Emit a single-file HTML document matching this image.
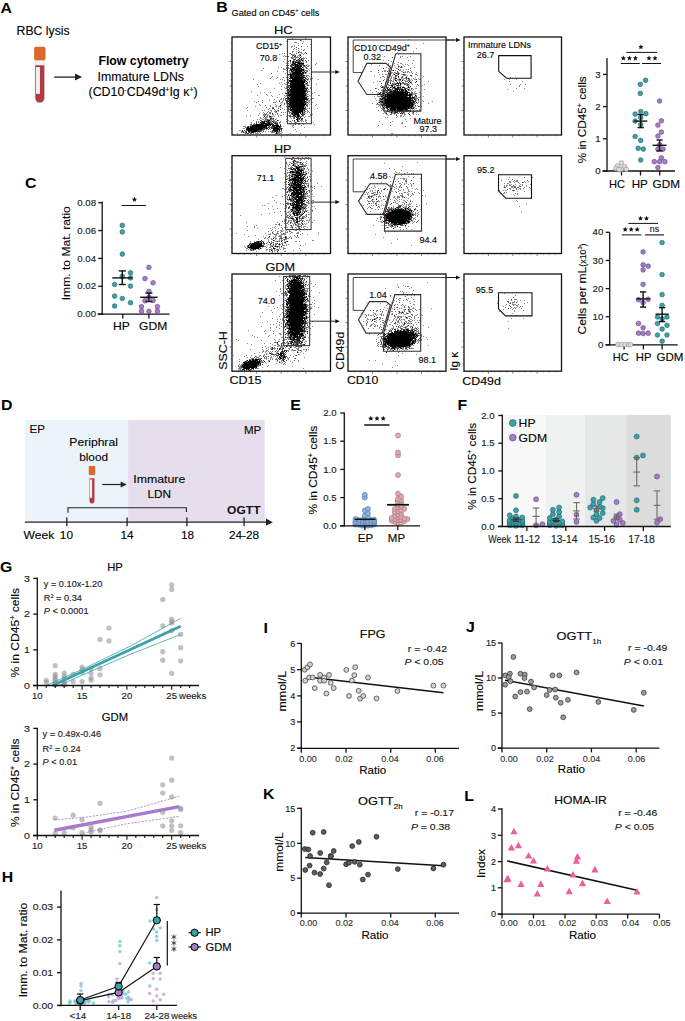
<!DOCTYPE html>
<html><head><meta charset="utf-8"><style>
html,body{margin:0;padding:0;background:#fff;}
svg{display:block;font-family:"Liberation Sans", sans-serif;}
</style></head><body>
<svg width="685" height="1021" viewBox="0 0 685 1021">
<rect width="685" height="1021" fill="#fff"/>
<text transform="translate(0.5 12.8) scale(1.15 1)" font-size="13.8" font-weight="bold" fill="#000">A</text>
<text x="16.6" y="34.5" font-size="12" stroke="#1a1a1a" stroke-width="0.14" textLength="53" lengthAdjust="spacingAndGlyphs">RBC lysis</text>
<path d="M35.01 60.2 V98.01 A4.79 4.79 0 0 0 44.59 98.01 V60.2 Z" fill="#f1f1f1" stroke="#d0d0d0" stroke-width="0.5"/>
<path d="M35.31 65.31 V98.01 A4.49 4.49 0 0 0 44.29 98.01 V65.31 Z" fill="#b13a45"/>
<rect x="35.97" y="67.02" width="4.02" height="26.84" fill="#f0f0e8"/>
<rect x="34.1" y="46.8" width="11.4" height="13.4" rx="1.6" fill="#dd682b"/>
<line x1="54.3" y1="77.1" x2="75.5" y2="77.1" stroke="#222" stroke-width="1.3"/>
<path d="M75 73.6 L82 77.1 L75 80.6 Z" fill="#222"/>
<text x="98.4" y="65" font-size="12.3" font-weight="bold" fill="#000" textLength="90.2" lengthAdjust="spacingAndGlyphs">Flow cytometry</text>
<text x="97.6" y="81.2" font-size="12.3" stroke="#1a1a1a" stroke-width="0.14" textLength="86.4" lengthAdjust="spacingAndGlyphs">Immature LDNs</text>
<text x="88.5" y="96.4" font-size="12.3" stroke="#1a1a1a" stroke-width="0.14" textLength="109.2" lengthAdjust="spacingAndGlyphs">(CD10<tspan font-size="7" dy="-4.5">-</tspan><tspan dy="4.5">CD49d</tspan><tspan font-size="7" dy="-4.5">+</tspan><tspan dy="4.5">Ig κ</tspan><tspan font-size="7" dy="-4.5">+</tspan><tspan dy="4.5">)</tspan></text>
<text transform="translate(216.3 12.3) scale(1.15 1)" font-size="13.8" font-weight="bold" fill="#000">B</text>
<text x="231.6" y="15.8" font-size="9" stroke="#1a1a1a" stroke-width="0.14" textLength="87.7" lengthAdjust="spacingAndGlyphs">Gated on CD45<tspan font-size="5.5" dy="-3.5">+</tspan><tspan dy="3.5"> cells</tspan></text>
<text x="274" y="33.8" font-size="11.4" stroke="#1a1a1a" stroke-width="0.14" textLength="18.7" lengthAdjust="spacingAndGlyphs">HC</text>
<text x="274" y="153" font-size="11.4" stroke="#1a1a1a" stroke-width="0.14" textLength="17.5" lengthAdjust="spacingAndGlyphs">HP</text>
<text x="265.5" y="270.8" font-size="11.4" stroke="#1a1a1a" stroke-width="0.14" textLength="29.6" lengthAdjust="spacingAndGlyphs">GDM</text>
<path d="M242 130.5h1M246 129.5h1M246 132.5h1M247 127.5h1M247 128.5h1M247 129.5h1M248 127.5h1M248 128.5h1M248 129.5h1M248 130.5h1M248 131.5h1M249 128.5h1M249 129.5h1M249 130.5h1M249 131.5h1M250 126.5h1M250 127.5h1M250 128.5h1M250 129.5h1M250 130.5h1M251 127.5h1M251 128.5h1M251 129.5h1M251 130.5h1M251 131.5h1M251 132.5h1M252 125.5h1M252 126.5h1M252 127.5h1M252 128.5h1M252 129.5h1M252 130.5h1M252 131.5h1M252 132.5h1M253 125.5h1M253 126.5h1M253 127.5h1M253 128.5h1M253 129.5h1M253 130.5h1M253 131.5h1M253 132.5h1M254 125.5h1M254 126.5h1M254 127.5h1M254 128.5h1M254 129.5h1M254 130.5h1M254 131.5h1M255 125.5h1M255 126.5h1M255 127.5h1M255 128.5h1M255 129.5h1M255 130.5h1M255 131.5h1M256 124.5h1M256 125.5h1M256 126.5h1M256 127.5h1M256 128.5h1M256 129.5h1M256 130.5h1M256 131.5h1M257 124.5h1M257 125.5h1M257 126.5h1M257 127.5h1M257 128.5h1M257 129.5h1M257 130.5h1M258 124.5h1M258 125.5h1M258 126.5h1M258 127.5h1M258 128.5h1M258 129.5h1M258 131.5h1M259 124.5h1M259 125.5h1M259 126.5h1M259 127.5h1M259 128.5h1M259 129.5h1M260 122.5h1M260 124.5h1M260 125.5h1M260 126.5h1M260 127.5h1M260 128.5h1M260 129.5h1M261 123.5h1M261 124.5h1M261 125.5h1M261 126.5h1M261 127.5h1M261 128.5h1M261 129.5h1M262 121.5h1M262 122.5h1M262 124.5h1M262 125.5h1M262 126.5h1M262 127.5h1M262 128.5h1M263 122.5h1M263 123.5h1M263 124.5h1M263 125.5h1M263 126.5h1M263 127.5h1M264 116.5h1M264 121.5h1M264 122.5h1M264 123.5h1M264 125.5h1M264 126.5h1M264 127.5h1M265 123.5h1M265 124.5h1M265 125.5h1M265 126.5h1M266 121.5h1M266 123.5h1M266 124.5h1M266 125.5h1M266 126.5h1M266 127.5h1M266 128.5h1M267 124.5h1M267 125.5h1M267 128.5h1M268 120.5h1M268 121.5h1M268 122.5h1M268 123.5h1M268 124.5h1M268 125.5h1M269 120.5h1M269 122.5h1M269 123.5h1M269 124.5h1M270 116.5h1M270 118.5h1M270 124.5h1M270 125.5h1M271 124.5h1M272 113.5h1M272 121.5h1M272 125.5h1M273 118.5h1M273 122.5h1M273 124.5h1M273 126.5h1M273 128.5h1M273 129.5h1M273 130.5h1M274 125.5h1M274 126.5h1M274 127.5h1M274 128.5h1M274 129.5h1M274 130.5h1M275 123.5h1M275 125.5h1M275 127.5h1M275 128.5h1M275 129.5h1M275 130.5h1M275 131.5h1M276 125.5h1M276 126.5h1M276 127.5h1M276 128.5h1M276 129.5h1M276 130.5h1M276 131.5h1M276 132.5h1M276 133.5h1M277 120.5h1M277 124.5h1M277 125.5h1M277 126.5h1M277 127.5h1M277 128.5h1M277 129.5h1M277 130.5h1M277 131.5h1M278 125.5h1M278 126.5h1M278 128.5h1M278 129.5h1M279 126.5h1M279 127.5h1M279 129.5h1M279 130.5h1M280 105.5h1M281 128.5h1M286 93.5h1M287 79.5h1M287 89.5h1M287 101.5h1M288 89.5h1M288 92.5h1M288 93.5h1M288 95.5h1M288 97.5h1M288 98.5h1M288 101.5h1M288 103.5h1M288 106.5h1M289 74.5h1M289 78.5h1M289 80.5h1M289 88.5h1M289 91.5h1M289 94.5h1M289 95.5h1M289 98.5h1M289 100.5h1M289 102.5h1M289 104.5h1M289 106.5h1M290 60.5h1M290 69.5h1M290 74.5h1M290 75.5h1M290 76.5h1M290 77.5h1M290 80.5h1M290 81.5h1M290 83.5h1M290 84.5h1M290 85.5h1M290 86.5h1M290 87.5h1M290 89.5h1M290 90.5h1M290 92.5h1M290 94.5h1M290 95.5h1M290 97.5h1M290 98.5h1M290 99.5h1M290 100.5h1M290 101.5h1M290 102.5h1M290 103.5h1M290 104.5h1M290 105.5h1M290 107.5h1M290 108.5h1M290 110.5h1M291 69.5h1M291 70.5h1M291 71.5h1M291 74.5h1M291 75.5h1M291 76.5h1M291 77.5h1M291 78.5h1M291 80.5h1M291 81.5h1M291 82.5h1M291 84.5h1M291 85.5h1M291 86.5h1M291 87.5h1M291 88.5h1M291 89.5h1M291 90.5h1M291 91.5h1M291 92.5h1M291 93.5h1M291 94.5h1M291 95.5h1M291 96.5h1M291 97.5h1M291 98.5h1M291 99.5h1M291 100.5h1M291 101.5h1M291 102.5h1M291 103.5h1M291 104.5h1M291 105.5h1M291 106.5h1M291 107.5h1M291 109.5h1M291 110.5h1M292 64.5h1M292 67.5h1M292 68.5h1M292 69.5h1M292 71.5h1M292 73.5h1M292 74.5h1M292 76.5h1M292 77.5h1M292 78.5h1M292 79.5h1M292 80.5h1M292 81.5h1M292 82.5h1M292 83.5h1M292 84.5h1M292 85.5h1M292 86.5h1M292 87.5h1M292 88.5h1M292 89.5h1M292 90.5h1M292 91.5h1M292 92.5h1M292 93.5h1M292 94.5h1M292 95.5h1M292 96.5h1M292 97.5h1M292 98.5h1M292 99.5h1M292 100.5h1M292 101.5h1M292 102.5h1M292 103.5h1M292 104.5h1M292 105.5h1M292 106.5h1M292 107.5h1M292 108.5h1M292 109.5h1M292 111.5h1M292 113.5h1M293 61.5h1M293 62.5h1M293 63.5h1M293 65.5h1M293 67.5h1M293 68.5h1M293 70.5h1M293 72.5h1M293 73.5h1M293 74.5h1M293 75.5h1M293 76.5h1M293 78.5h1M293 79.5h1M293 80.5h1M293 81.5h1M293 82.5h1M293 83.5h1M293 84.5h1M293 85.5h1M293 86.5h1M293 87.5h1M293 88.5h1M293 89.5h1M293 90.5h1M293 91.5h1M293 92.5h1M293 93.5h1M293 94.5h1M293 95.5h1M293 96.5h1M293 97.5h1M293 98.5h1M293 99.5h1M293 100.5h1M293 101.5h1M293 102.5h1M293 103.5h1M293 104.5h1M293 105.5h1M293 106.5h1M293 107.5h1M293 108.5h1M293 109.5h1M293 110.5h1M293 111.5h1M293 112.5h1M293 115.5h1M294 63.5h1M294 64.5h1M294 67.5h1M294 68.5h1M294 69.5h1M294 72.5h1M294 73.5h1M294 74.5h1M294 76.5h1M294 77.5h1M294 78.5h1M294 79.5h1M294 80.5h1M294 81.5h1M294 82.5h1M294 83.5h1M294 84.5h1M294 85.5h1M294 86.5h1M294 87.5h1M294 88.5h1M294 89.5h1M294 90.5h1M294 91.5h1M294 92.5h1M294 93.5h1M294 94.5h1M294 95.5h1M294 96.5h1M294 97.5h1M294 98.5h1M294 99.5h1M294 100.5h1M294 101.5h1M294 102.5h1M294 103.5h1M294 104.5h1M294 105.5h1M294 106.5h1M294 107.5h1M294 108.5h1M294 109.5h1M294 110.5h1M294 111.5h1M294 112.5h1M294 113.5h1M294 114.5h1M294 115.5h1M294 120.5h1M295 62.5h1M295 64.5h1M295 65.5h1M295 66.5h1M295 67.5h1M295 69.5h1M295 70.5h1M295 71.5h1M295 72.5h1M295 73.5h1M295 74.5h1M295 75.5h1M295 76.5h1M295 77.5h1M295 78.5h1M295 79.5h1M295 80.5h1M295 81.5h1M295 82.5h1M295 83.5h1M295 84.5h1M295 85.5h1M295 86.5h1M295 87.5h1M295 88.5h1M295 89.5h1M295 90.5h1M295 91.5h1M295 92.5h1M295 93.5h1M295 94.5h1M295 95.5h1M295 96.5h1M295 97.5h1M295 98.5h1M295 99.5h1M295 100.5h1M295 101.5h1M295 102.5h1M295 103.5h1M295 104.5h1M295 105.5h1M295 106.5h1M295 107.5h1M295 108.5h1M295 109.5h1M295 110.5h1M295 111.5h1M295 112.5h1M295 113.5h1M295 114.5h1M295 116.5h1M296 60.5h1M296 62.5h1M296 64.5h1M296 66.5h1M296 68.5h1M296 69.5h1M296 70.5h1M296 71.5h1M296 72.5h1M296 73.5h1M296 74.5h1M296 75.5h1M296 76.5h1M296 77.5h1M296 78.5h1M296 79.5h1M296 80.5h1M296 81.5h1M296 82.5h1M296 83.5h1M296 84.5h1M296 85.5h1M296 86.5h1M296 87.5h1M296 88.5h1M296 89.5h1M296 90.5h1M296 91.5h1M296 92.5h1M296 93.5h1M296 94.5h1M296 95.5h1M296 96.5h1M296 97.5h1M296 98.5h1M296 99.5h1M296 100.5h1M296 101.5h1M296 102.5h1M296 103.5h1M296 104.5h1M296 105.5h1M296 106.5h1M296 107.5h1M296 108.5h1M296 109.5h1M296 110.5h1M296 111.5h1M296 112.5h1M296 113.5h1M296 114.5h1M296 117.5h1M296 119.5h1M297 62.5h1M297 64.5h1M297 65.5h1M297 66.5h1M297 67.5h1M297 68.5h1M297 69.5h1M297 70.5h1M297 71.5h1M297 72.5h1M297 73.5h1M297 74.5h1M297 75.5h1M297 76.5h1M297 77.5h1M297 78.5h1M297 79.5h1M297 80.5h1M297 81.5h1M297 82.5h1M297 83.5h1M297 84.5h1M297 85.5h1M297 86.5h1M297 87.5h1M297 88.5h1M297 89.5h1M297 90.5h1M297 91.5h1M297 92.5h1M297 93.5h1M297 94.5h1M297 95.5h1M297 96.5h1M297 97.5h1M297 98.5h1M297 99.5h1M297 100.5h1M297 101.5h1M297 102.5h1M297 103.5h1M297 104.5h1M297 105.5h1M297 106.5h1M297 107.5h1M297 108.5h1M297 109.5h1M297 110.5h1M297 111.5h1M297 112.5h1M297 113.5h1M297 114.5h1M297 115.5h1M297 116.5h1M297 118.5h1M297 119.5h1M297 120.5h1M298 52.5h1M298 63.5h1M298 65.5h1M298 66.5h1M298 67.5h1M298 68.5h1M298 69.5h1M298 70.5h1M298 71.5h1M298 72.5h1M298 73.5h1M298 74.5h1M298 75.5h1M298 76.5h1M298 77.5h1M298 78.5h1M298 79.5h1M298 80.5h1M298 81.5h1M298 82.5h1M298 83.5h1M298 84.5h1M298 85.5h1M298 86.5h1M298 87.5h1M298 88.5h1M298 89.5h1M298 90.5h1M298 91.5h1M298 92.5h1M298 93.5h1M298 94.5h1M298 95.5h1M298 96.5h1M298 97.5h1M298 98.5h1M298 99.5h1M298 100.5h1M298 101.5h1M298 102.5h1M298 103.5h1M298 104.5h1M298 105.5h1M298 106.5h1M298 107.5h1M298 108.5h1M298 109.5h1M298 110.5h1M298 111.5h1M298 112.5h1M298 113.5h1M298 114.5h1M298 115.5h1M298 116.5h1M298 117.5h1M299 58.5h1M299 60.5h1M299 62.5h1M299 63.5h1M299 64.5h1M299 66.5h1M299 67.5h1M299 68.5h1M299 69.5h1M299 70.5h1M299 71.5h1M299 72.5h1M299 73.5h1M299 74.5h1M299 75.5h1M299 76.5h1M299 77.5h1M299 78.5h1M299 79.5h1M299 80.5h1M299 81.5h1M299 82.5h1M299 83.5h1M299 84.5h1M299 85.5h1M299 86.5h1M299 87.5h1M299 88.5h1M299 89.5h1M299 90.5h1M299 91.5h1M299 92.5h1M299 93.5h1M299 94.5h1M299 95.5h1M299 96.5h1M299 97.5h1M299 98.5h1M299 99.5h1M299 100.5h1M299 101.5h1M299 102.5h1M299 103.5h1M299 104.5h1M299 105.5h1M299 106.5h1M299 107.5h1M299 108.5h1M299 109.5h1M299 110.5h1M299 111.5h1M299 112.5h1M299 116.5h1M299 118.5h1M300 55.5h1M300 57.5h1M300 63.5h1M300 65.5h1M300 66.5h1M300 67.5h1M300 68.5h1M300 70.5h1M300 71.5h1M300 72.5h1M300 73.5h1M300 74.5h1M300 75.5h1M300 77.5h1M300 78.5h1M300 79.5h1M300 80.5h1M300 81.5h1M300 82.5h1M300 83.5h1M300 84.5h1M300 85.5h1M300 86.5h1M300 87.5h1M300 88.5h1M300 89.5h1M300 90.5h1M300 91.5h1M300 92.5h1M300 93.5h1M300 94.5h1M300 95.5h1M300 96.5h1M300 97.5h1M300 98.5h1M300 99.5h1M300 100.5h1M300 101.5h1M300 102.5h1M300 103.5h1M300 104.5h1M300 105.5h1M300 106.5h1M300 107.5h1M300 108.5h1M300 109.5h1M300 110.5h1M300 111.5h1M300 112.5h1M300 113.5h1M300 117.5h1M301 59.5h1M301 63.5h1M301 66.5h1M301 68.5h1M301 69.5h1M301 70.5h1M301 71.5h1M301 73.5h1M301 74.5h1M301 75.5h1M301 76.5h1M301 77.5h1M301 78.5h1M301 79.5h1M301 80.5h1M301 81.5h1M301 82.5h1M301 83.5h1M301 84.5h1M301 85.5h1M301 86.5h1M301 87.5h1M301 88.5h1M301 89.5h1M301 90.5h1M301 91.5h1M301 92.5h1M301 93.5h1M301 94.5h1M301 95.5h1M301 96.5h1M301 97.5h1M301 98.5h1M301 99.5h1M301 100.5h1M301 101.5h1M301 102.5h1M301 103.5h1M301 104.5h1M301 105.5h1M301 106.5h1M301 107.5h1M301 108.5h1M301 109.5h1M301 110.5h1M301 111.5h1M301 114.5h1M301 119.5h1M302 60.5h1M302 63.5h1M302 67.5h1M302 69.5h1M302 72.5h1M302 74.5h1M302 76.5h1M302 77.5h1M302 78.5h1M302 80.5h1M302 81.5h1M302 82.5h1M302 83.5h1M302 84.5h1M302 85.5h1M302 86.5h1M302 87.5h1M302 88.5h1M302 89.5h1M302 90.5h1M302 91.5h1M302 92.5h1M302 93.5h1M302 94.5h1M302 95.5h1M302 96.5h1M302 97.5h1M302 98.5h1M302 99.5h1M302 100.5h1M302 101.5h1M302 102.5h1M302 103.5h1M302 104.5h1M302 105.5h1M302 106.5h1M302 107.5h1M302 108.5h1M302 109.5h1M302 110.5h1M302 111.5h1M302 112.5h1M302 113.5h1M302 115.5h1M302 118.5h1M303 63.5h1M303 69.5h1M303 70.5h1M303 72.5h1M303 73.5h1M303 75.5h1M303 77.5h1M303 81.5h1M303 82.5h1M303 83.5h1M303 84.5h1M303 85.5h1M303 86.5h1M303 87.5h1M303 88.5h1M303 89.5h1M303 90.5h1M303 91.5h1M303 92.5h1M303 93.5h1M303 94.5h1M303 95.5h1M303 96.5h1M303 97.5h1M303 98.5h1M303 99.5h1M303 100.5h1M303 102.5h1M303 103.5h1M303 104.5h1M303 105.5h1M303 106.5h1M303 107.5h1M303 108.5h1M303 109.5h1M304 77.5h1M304 79.5h1M304 80.5h1M304 81.5h1M304 82.5h1M304 85.5h1M304 86.5h1M304 87.5h1M304 88.5h1M304 90.5h1M304 91.5h1M304 92.5h1M304 93.5h1M304 95.5h1M304 96.5h1M304 97.5h1M304 98.5h1M304 99.5h1M304 100.5h1M304 101.5h1M304 102.5h1M304 104.5h1M304 105.5h1M304 108.5h1M304 110.5h1M305 72.5h1M305 78.5h1M305 88.5h1M305 90.5h1M305 91.5h1M305 94.5h1M305 95.5h1M305 97.5h1M305 98.5h1M305 99.5h1M305 101.5h1M305 103.5h1M305 104.5h1M306 83.5h1M306 89.5h1M306 97.5h1M306 98.5h1M306 99.5h1M306 105.5h1M307 99.5h1M307 102.5h1" stroke="#000" stroke-width="1"/>
<path d="M237 133.5h1M239 130.5h1M240 130.5h1M241 131.5h1M243 126.5h1M243 128.5h1M243 131.5h1M244 126.5h1M244 128.5h1M244 130.5h1M244 132.5h1M245 126.5h1M245 127.5h1M245 130.5h1M245 131.5h1M245 132.5h1M246 108.5h1M246 116.5h1M246 127.5h1M246 130.5h1M246 133.5h1M247 107.5h1M247 110.5h1M247 126.5h1M248 132.5h1M249 126.5h1M249 127.5h1M250 115.5h1M250 124.5h1M250 125.5h1M250 132.5h1M251 91.5h1M251 122.5h1M251 123.5h1M251 125.5h1M251 133.5h1M253 79.5h1M253 120.5h1M253 133.5h1M254 101.5h1M254 123.5h1M254 132.5h1M255 106.5h1M255 132.5h1M255 133.5h1M256 102.5h1M256 121.5h1M256 133.5h1M257 84.5h1M257 95.5h1M257 119.5h1M257 132.5h1M257 133.5h1M258 86.5h1M258 101.5h1M258 115.5h1M258 121.5h1M258 133.5h1M259 104.5h1M259 113.5h1M259 119.5h1M259 123.5h1M259 132.5h1M260 83.5h1M260 92.5h1M260 105.5h1M260 117.5h1M260 118.5h1M260 120.5h1M260 123.5h1M260 133.5h1M261 70.5h1M261 118.5h1M261 120.5h1M261 131.5h1M262 100.5h1M262 102.5h1M262 110.5h1M262 119.5h1M262 130.5h1M262 132.5h1M263 68.5h1M263 112.5h1M263 114.5h1M263 115.5h1M263 117.5h1M263 119.5h1M263 130.5h1M264 92.5h1M264 110.5h1M264 113.5h1M264 114.5h1M264 115.5h1M264 118.5h1M264 120.5h1M264 124.5h1M265 105.5h1M265 115.5h1M265 117.5h1M265 118.5h1M265 120.5h1M265 131.5h1M266 94.5h1M266 107.5h1M266 113.5h1M266 114.5h1M266 116.5h1M266 117.5h1M266 118.5h1M266 119.5h1M266 120.5h1M266 122.5h1M266 129.5h1M267 95.5h1M267 112.5h1M267 116.5h1M267 117.5h1M267 127.5h1M268 109.5h1M268 111.5h1M268 114.5h1M268 119.5h1M268 126.5h1M268 131.5h1M269 100.5h1M269 108.5h1M269 112.5h1M269 113.5h1M269 115.5h1M269 117.5h1M269 119.5h1M269 121.5h1M269 127.5h1M270 78.5h1M270 92.5h1M270 105.5h1M270 106.5h1M270 110.5h1M270 113.5h1M270 117.5h1M270 120.5h1M270 121.5h1M270 123.5h1M270 129.5h1M270 131.5h1M271 73.5h1M271 77.5h1M271 95.5h1M271 110.5h1M271 111.5h1M271 116.5h1M271 117.5h1M271 119.5h1M271 120.5h1M271 121.5h1M271 122.5h1M271 126.5h1M271 131.5h1M271 132.5h1M272 76.5h1M272 96.5h1M272 107.5h1M272 114.5h1M272 116.5h1M272 118.5h1M272 119.5h1M273 102.5h1M273 107.5h1M273 114.5h1M273 115.5h1M273 119.5h1M273 121.5h1M273 131.5h1M273 132.5h1M274 88.5h1M274 99.5h1M274 102.5h1M274 109.5h1M274 111.5h1M274 116.5h1M274 120.5h1M274 121.5h1M274 122.5h1M274 132.5h1M275 60.5h1M275 102.5h1M275 104.5h1M275 106.5h1M275 110.5h1M275 111.5h1M275 112.5h1M275 114.5h1M275 121.5h1M275 124.5h1M275 126.5h1M275 133.5h1M276 78.5h1M276 101.5h1M276 105.5h1M276 106.5h1M276 112.5h1M276 118.5h1M276 121.5h1M276 122.5h1M277 71.5h1M277 77.5h1M277 97.5h1M277 110.5h1M277 114.5h1M277 122.5h1M277 132.5h1M278 67.5h1M278 106.5h1M278 111.5h1M278 115.5h1M278 116.5h1M278 120.5h1M278 127.5h1M278 130.5h1M278 131.5h1M278 132.5h1M278 133.5h1M279 54.5h1M279 83.5h1M279 94.5h1M279 100.5h1M279 106.5h1M279 122.5h1M279 123.5h1M279 132.5h1M279 133.5h1M280 79.5h1M280 99.5h1M280 103.5h1M280 106.5h1M280 107.5h1M280 115.5h1M280 121.5h1M280 122.5h1M280 129.5h1M280 131.5h1M280 133.5h1M281 67.5h1M281 82.5h1M281 86.5h1M281 89.5h1M281 98.5h1M281 99.5h1M281 102.5h1M281 104.5h1M281 112.5h1M281 115.5h1M281 126.5h1M281 131.5h1M281 133.5h1M282 53.5h1M282 79.5h1M282 84.5h1M282 93.5h1M282 101.5h1M282 102.5h1M282 108.5h1M282 128.5h1M282 132.5h1M283 56.5h1M283 61.5h1M283 68.5h1M283 69.5h1M283 71.5h1M283 77.5h1M283 98.5h1M283 99.5h1M283 100.5h1M283 112.5h1M283 114.5h1M283 126.5h1M284 53.5h1M284 55.5h1M284 59.5h1M284 69.5h1M284 80.5h1M284 83.5h1M284 87.5h1M284 95.5h1M284 97.5h1M284 104.5h1M284 109.5h1M285 38.5h1M285 56.5h1M285 69.5h1M285 73.5h1M285 84.5h1M285 88.5h1M285 92.5h1M285 96.5h1M285 100.5h1M285 112.5h1M286 41.5h1M286 56.5h1M286 63.5h1M286 67.5h1M286 70.5h1M286 77.5h1M286 82.5h1M286 84.5h1M286 86.5h1M286 87.5h1M286 90.5h1M286 103.5h1M286 106.5h1M286 116.5h1M286 119.5h1M286 121.5h1M287 52.5h1M287 56.5h1M287 58.5h1M287 66.5h1M287 71.5h1M287 72.5h1M287 74.5h1M287 78.5h1M287 80.5h1M287 87.5h1M287 93.5h1M287 102.5h1M287 105.5h1M287 107.5h1M287 111.5h1M288 63.5h1M288 67.5h1M288 68.5h1M288 75.5h1M288 77.5h1M288 79.5h1M288 80.5h1M288 81.5h1M288 83.5h1M288 96.5h1M288 100.5h1M288 104.5h1M288 105.5h1M288 107.5h1M288 110.5h1M288 115.5h1M288 120.5h1M289 39.5h1M289 53.5h1M289 60.5h1M289 68.5h1M289 70.5h1M289 71.5h1M289 72.5h1M289 76.5h1M289 83.5h1M289 86.5h1M289 87.5h1M289 89.5h1M289 92.5h1M289 97.5h1M289 107.5h1M289 108.5h1M289 111.5h1M289 113.5h1M289 115.5h1M289 121.5h1M289 123.5h1M290 62.5h1M290 63.5h1M290 72.5h1M290 79.5h1M290 88.5h1M290 112.5h1M290 114.5h1M290 117.5h1M290 124.5h1M290 133.5h1M291 46.5h1M291 47.5h1M291 54.5h1M291 58.5h1M291 67.5h1M291 68.5h1M291 72.5h1M291 73.5h1M291 108.5h1M291 111.5h1M291 112.5h1M291 114.5h1M291 116.5h1M291 118.5h1M291 122.5h1M292 38.5h1M292 46.5h1M292 51.5h1M292 52.5h1M292 54.5h1M292 55.5h1M292 56.5h1M292 57.5h1M292 58.5h1M292 66.5h1M292 70.5h1M292 120.5h1M292 125.5h1M292 126.5h1M293 49.5h1M293 51.5h1M293 54.5h1M293 57.5h1M293 58.5h1M293 60.5h1M293 117.5h1M293 118.5h1M293 124.5h1M293 125.5h1M293 127.5h1M294 42.5h1M294 45.5h1M294 46.5h1M294 48.5h1M294 54.5h1M294 55.5h1M294 57.5h1M294 60.5h1M294 62.5h1M294 65.5h1M294 71.5h1M294 116.5h1M294 121.5h1M294 122.5h1M295 42.5h1M295 57.5h1M295 58.5h1M295 129.5h1M296 42.5h1M296 49.5h1M296 51.5h1M296 61.5h1M296 115.5h1M296 116.5h1M296 122.5h1M296 123.5h1M296 131.5h1M297 56.5h1M297 57.5h1M297 59.5h1M297 61.5h1M298 43.5h1M298 45.5h1M298 50.5h1M298 55.5h1M298 57.5h1M298 60.5h1M298 64.5h1M298 119.5h1M298 120.5h1M298 123.5h1M298 124.5h1M299 51.5h1M299 52.5h1M299 54.5h1M299 55.5h1M299 56.5h1M299 59.5h1M299 114.5h1M299 121.5h1M299 124.5h1M300 52.5h1M300 54.5h1M300 59.5h1M300 60.5h1M300 62.5h1M300 116.5h1M300 118.5h1M300 120.5h1M300 133.5h1M301 40.5h1M301 49.5h1M301 52.5h1M301 53.5h1M301 56.5h1M301 60.5h1M301 72.5h1M301 112.5h1M301 118.5h1M301 120.5h1M301 121.5h1M301 123.5h1M301 125.5h1M302 43.5h1M302 53.5h1M302 58.5h1M302 59.5h1M302 61.5h1M302 65.5h1M302 71.5h1M302 119.5h1M302 120.5h1M303 41.5h1M303 54.5h1M303 57.5h1M303 58.5h1M303 59.5h1M303 60.5h1M303 61.5h1M303 62.5h1M303 66.5h1M303 67.5h1M303 68.5h1M303 71.5h1M303 74.5h1M303 110.5h1M303 111.5h1M303 112.5h1M303 113.5h1M303 115.5h1M303 116.5h1M303 121.5h1M303 124.5h1M304 49.5h1M304 53.5h1M304 58.5h1M304 69.5h1M304 70.5h1M304 72.5h1M304 73.5h1M304 76.5h1M304 106.5h1M304 107.5h1M304 111.5h1M304 113.5h1M304 117.5h1M304 127.5h1M305 38.5h1M305 60.5h1M305 65.5h1M305 66.5h1M305 67.5h1M305 70.5h1M305 73.5h1M305 75.5h1M305 77.5h1M305 79.5h1M305 81.5h1M305 82.5h1M305 83.5h1M305 84.5h1M305 87.5h1M305 89.5h1M305 96.5h1M305 102.5h1M305 106.5h1M305 109.5h1M305 113.5h1M305 116.5h1M305 119.5h1M305 120.5h1M305 121.5h1M306 58.5h1M306 62.5h1M306 70.5h1M306 71.5h1M306 72.5h1M306 73.5h1M306 75.5h1M306 78.5h1M306 79.5h1M306 84.5h1M306 85.5h1M306 87.5h1M306 91.5h1M306 94.5h1M306 95.5h1M306 96.5h1M306 100.5h1M306 101.5h1M306 103.5h1M306 104.5h1M306 120.5h1M306 122.5h1M307 46.5h1M307 64.5h1M307 66.5h1M307 68.5h1M307 70.5h1M307 75.5h1M307 77.5h1M307 80.5h1M307 83.5h1M307 84.5h1M307 87.5h1M307 90.5h1M307 94.5h1M307 98.5h1M307 100.5h1M307 104.5h1M307 105.5h1M307 108.5h1M307 110.5h1M307 111.5h1M307 112.5h1M308 60.5h1M308 65.5h1M308 66.5h1M308 69.5h1M308 75.5h1M308 78.5h1M308 79.5h1M308 89.5h1M308 91.5h1M308 94.5h1M308 96.5h1M308 100.5h1M308 101.5h1M308 103.5h1M308 111.5h1M308 116.5h1M309 65.5h1M309 70.5h1M309 73.5h1M309 76.5h1M309 81.5h1M309 82.5h1M309 91.5h1M309 95.5h1M309 100.5h1M309 101.5h1M309 102.5h1M309 104.5h1M309 112.5h1M309 116.5h1M310 44.5h1M310 68.5h1M310 78.5h1M310 79.5h1M310 87.5h1M310 88.5h1M310 99.5h1M310 114.5h1M310 115.5h1M311 50.5h1M311 53.5h1M311 73.5h1M311 76.5h1M311 80.5h1M311 89.5h1M311 90.5h1M311 95.5h1M311 98.5h1M311 123.5h1M312 78.5h1M312 93.5h1M312 98.5h1M312 102.5h1M312 114.5h1M313 98.5h1M313 122.5h1M314 92.5h1M314 124.5h1M315 64.5h1M315 105.5h1M316 63.5h1M316 84.5h1M316 104.5h1M317 108.5h1M318 79.5h1M318 95.5h1M319 95.5h1" stroke="#8a8a8a" stroke-width="1"/>
<path d="M241 132.5h1M242 131.5h1M243 132.5h1M245 133.5h1M246 128.5h1M246 131.5h1M247 130.5h1M247 133.5h1M248 126.5h1M248 133.5h1M249 132.5h1M250 131.5h1M250 133.5h1M251 124.5h1M251 126.5h1M253 124.5h1M254 124.5h1M255 124.5h1M256 122.5h1M256 123.5h1M257 131.5h1M258 122.5h1M258 130.5h1M259 130.5h1M259 131.5h1M260 130.5h1M260 131.5h1M261 121.5h1M261 122.5h1M261 130.5h1M262 123.5h1M262 129.5h1M263 121.5h1M263 128.5h1M263 129.5h1M263 131.5h1M264 128.5h1M264 129.5h1M265 114.5h1M265 119.5h1M265 121.5h1M265 127.5h1M265 128.5h1M267 115.5h1M267 119.5h1M267 120.5h1M267 121.5h1M267 122.5h1M267 123.5h1M268 127.5h1M268 129.5h1M269 116.5h1M269 125.5h1M269 126.5h1M269 128.5h1M270 112.5h1M270 119.5h1M270 122.5h1M270 127.5h1M271 118.5h1M271 123.5h1M271 127.5h1M271 128.5h1M272 108.5h1M272 123.5h1M272 124.5h1M272 126.5h1M272 127.5h1M272 128.5h1M272 130.5h1M272 131.5h1M272 132.5h1M273 108.5h1M273 120.5h1M273 125.5h1M273 127.5h1M274 123.5h1M274 131.5h1M275 119.5h1M275 122.5h1M276 111.5h1M276 123.5h1M276 124.5h1M277 113.5h1M277 123.5h1M277 133.5h1M278 108.5h1M278 110.5h1M279 101.5h1M279 128.5h1M279 131.5h1M280 109.5h1M280 124.5h1M280 125.5h1M280 126.5h1M280 127.5h1M280 128.5h1M281 129.5h1M281 130.5h1M284 103.5h1M285 93.5h1M285 98.5h1M285 99.5h1M286 65.5h1M286 68.5h1M286 88.5h1M286 95.5h1M286 98.5h1M286 100.5h1M286 101.5h1M286 102.5h1M287 69.5h1M287 77.5h1M287 81.5h1M287 83.5h1M287 84.5h1M287 91.5h1M287 96.5h1M287 97.5h1M287 100.5h1M287 103.5h1M287 104.5h1M288 56.5h1M288 61.5h1M288 65.5h1M288 74.5h1M288 82.5h1M288 85.5h1M288 86.5h1M288 87.5h1M288 90.5h1M288 91.5h1M288 94.5h1M288 99.5h1M288 108.5h1M288 109.5h1M288 111.5h1M289 81.5h1M289 85.5h1M289 90.5h1M289 93.5h1M289 96.5h1M289 99.5h1M289 101.5h1M289 103.5h1M289 105.5h1M289 109.5h1M289 112.5h1M289 116.5h1M290 53.5h1M290 61.5h1M290 65.5h1M290 66.5h1M290 68.5h1M290 70.5h1M290 73.5h1M290 78.5h1M290 82.5h1M290 91.5h1M290 93.5h1M290 96.5h1M290 106.5h1M290 109.5h1M290 115.5h1M290 116.5h1M290 121.5h1M291 57.5h1M291 64.5h1M291 65.5h1M291 66.5h1M291 83.5h1M291 113.5h1M292 61.5h1M292 62.5h1M292 63.5h1M292 65.5h1M292 72.5h1M292 75.5h1M292 110.5h1M292 112.5h1M292 114.5h1M292 116.5h1M293 55.5h1M293 59.5h1M293 64.5h1M293 69.5h1M293 71.5h1M293 77.5h1M293 113.5h1M293 114.5h1M293 116.5h1M294 56.5h1M294 59.5h1M294 61.5h1M294 66.5h1M294 70.5h1M294 75.5h1M294 117.5h1M294 118.5h1M295 55.5h1M295 56.5h1M295 59.5h1M295 61.5h1M295 63.5h1M295 68.5h1M295 115.5h1M295 122.5h1M295 124.5h1M296 47.5h1M296 53.5h1M296 57.5h1M296 65.5h1M296 67.5h1M297 60.5h1M297 63.5h1M297 117.5h1M297 121.5h1M298 48.5h1M298 59.5h1M298 61.5h1M298 62.5h1M298 118.5h1M298 121.5h1M299 61.5h1M299 65.5h1M299 115.5h1M299 119.5h1M300 40.5h1M300 61.5h1M300 64.5h1M300 69.5h1M300 76.5h1M301 46.5h1M301 58.5h1M301 62.5h1M301 64.5h1M301 65.5h1M301 116.5h1M302 64.5h1M302 70.5h1M302 73.5h1M302 75.5h1M302 79.5h1M302 114.5h1M303 50.5h1M303 64.5h1M303 65.5h1M303 76.5h1M303 78.5h1M303 79.5h1M303 80.5h1M303 101.5h1M303 114.5h1M304 65.5h1M304 66.5h1M304 71.5h1M304 75.5h1M304 84.5h1M304 89.5h1M304 94.5h1M304 103.5h1M304 109.5h1M304 112.5h1M304 114.5h1M305 52.5h1M305 80.5h1M305 86.5h1M305 92.5h1M305 93.5h1M305 107.5h1M305 108.5h1M305 111.5h1M306 53.5h1M306 61.5h1M306 65.5h1M306 67.5h1M306 68.5h1M306 76.5h1M306 81.5h1M306 88.5h1M306 90.5h1M306 93.5h1M306 102.5h1M306 109.5h1M307 71.5h1M307 79.5h1M307 82.5h1M307 85.5h1M307 88.5h1M307 91.5h1M307 92.5h1M307 96.5h1M307 106.5h1M308 85.5h1M308 98.5h1M309 108.5h1" stroke="#444" stroke-width="1"/>
<path d="M247 246.5h1M248 246.5h1M250 243.5h1M250 248.5h1M250 249.5h1M251 250.5h1M254 242.5h1M254 249.5h1M255 249.5h1M257 242.5h1M259 241.5h1M261 240.5h1M262 241.5h1M262 246.5h1M263 243.5h1M263 245.5h1M263 246.5h1M264 243.5h1M264 244.5h1M266 243.5h1M270 244.5h1M271 243.5h1M272 232.5h1M272 246.5h1M272 251.5h1M273 240.5h1M273 244.5h1M273 247.5h1M274 240.5h1M275 245.5h1M276 244.5h1M276 246.5h1M277 241.5h1M277 243.5h1M277 249.5h1M277 251.5h1M278 250.5h1M279 224.5h1M280 238.5h1M281 231.5h1M281 238.5h1M281 246.5h1M282 221.5h1M282 240.5h1M282 244.5h1M283 233.5h1M284 239.5h1M284 242.5h1M285 236.5h1M285 238.5h1M285 242.5h1M286 179.5h1M286 203.5h1M286 229.5h1M286 237.5h1M287 187.5h1M287 191.5h1M287 192.5h1M287 199.5h1M287 203.5h1M287 215.5h1M288 168.5h1M288 189.5h1M288 204.5h1M288 207.5h1M288 208.5h1M288 217.5h1M288 221.5h1M289 164.5h1M289 172.5h1M289 174.5h1M289 175.5h1M289 178.5h1M289 179.5h1M289 184.5h1M289 185.5h1M289 187.5h1M289 188.5h1M289 189.5h1M289 197.5h1M289 198.5h1M289 206.5h1M289 207.5h1M289 216.5h1M289 231.5h1M290 168.5h1M290 180.5h1M290 183.5h1M290 185.5h1M290 186.5h1M290 188.5h1M290 190.5h1M290 191.5h1M290 200.5h1M290 215.5h1M290 218.5h1M290 222.5h1M290 223.5h1M291 159.5h1M291 163.5h1M291 168.5h1M291 178.5h1M291 180.5h1M291 183.5h1M291 184.5h1M291 186.5h1M291 190.5h1M291 195.5h1M291 196.5h1M291 199.5h1M291 205.5h1M291 225.5h1M291 238.5h1M292 165.5h1M292 167.5h1M292 175.5h1M292 180.5h1M292 183.5h1M292 186.5h1M292 194.5h1M292 201.5h1M292 204.5h1M292 208.5h1M292 227.5h1M292 229.5h1M293 157.5h1M293 161.5h1M293 169.5h1M293 172.5h1M293 185.5h1M293 189.5h1M293 192.5h1M293 196.5h1M293 203.5h1M293 211.5h1M293 218.5h1M293 219.5h1M293 220.5h1M294 166.5h1M294 168.5h1M294 169.5h1M294 175.5h1M294 176.5h1M294 185.5h1M294 190.5h1M294 198.5h1M294 205.5h1M294 208.5h1M294 210.5h1M294 211.5h1M294 222.5h1M295 161.5h1M295 166.5h1M295 171.5h1M295 172.5h1M295 176.5h1M295 186.5h1M295 196.5h1M295 197.5h1M295 205.5h1M295 209.5h1M295 212.5h1M295 213.5h1M295 215.5h1M295 220.5h1M295 224.5h1M296 174.5h1M296 178.5h1M296 181.5h1M296 194.5h1M296 198.5h1M296 215.5h1M296 217.5h1M296 221.5h1M297 162.5h1M297 170.5h1M297 174.5h1M297 178.5h1M297 217.5h1M297 220.5h1M297 235.5h1M298 174.5h1M298 182.5h1M298 191.5h1M298 204.5h1M298 214.5h1M298 221.5h1M298 224.5h1M298 226.5h1M299 166.5h1M299 168.5h1M299 180.5h1M299 201.5h1M299 202.5h1M299 204.5h1M299 206.5h1M299 212.5h1M299 214.5h1M299 216.5h1M299 218.5h1M299 221.5h1M299 226.5h1M299 228.5h1M300 181.5h1M300 183.5h1M300 203.5h1M300 207.5h1M300 215.5h1M300 216.5h1M300 220.5h1M301 164.5h1M301 173.5h1M301 174.5h1M301 175.5h1M301 182.5h1M301 184.5h1M301 187.5h1M301 189.5h1M301 207.5h1M301 208.5h1M301 209.5h1M301 214.5h1M301 215.5h1M301 218.5h1M301 225.5h1M302 163.5h1M302 164.5h1M302 177.5h1M302 179.5h1M302 181.5h1M302 190.5h1M302 191.5h1M302 194.5h1M302 195.5h1M302 199.5h1M302 203.5h1M302 205.5h1M302 217.5h1M302 218.5h1M302 221.5h1M302 223.5h1M302 224.5h1M303 170.5h1M303 176.5h1M303 179.5h1M303 185.5h1M303 191.5h1M303 192.5h1M303 196.5h1M303 197.5h1M303 199.5h1M303 204.5h1M303 206.5h1M303 207.5h1M303 208.5h1M303 218.5h1M304 166.5h1M304 168.5h1M304 174.5h1M304 178.5h1M304 185.5h1M304 190.5h1M304 192.5h1M304 194.5h1M304 196.5h1M304 198.5h1M304 201.5h1M304 203.5h1M304 204.5h1M304 211.5h1M305 174.5h1M305 180.5h1M305 183.5h1M305 193.5h1M305 204.5h1M305 207.5h1M306 192.5h1M306 198.5h1M306 202.5h1M306 211.5h1M306 216.5h1M307 177.5h1M307 181.5h1M307 193.5h1M307 200.5h1M308 179.5h1M308 185.5h1M308 201.5h1M308 203.5h1M309 190.5h1M311 186.5h1M312 210.5h1" stroke="#444" stroke-width="1"/>
<path d="M248 245.5h1M248 247.5h1M249 244.5h1M249 247.5h1M250 245.5h1M250 246.5h1M250 247.5h1M251 244.5h1M251 245.5h1M251 246.5h1M251 247.5h1M251 248.5h1M252 243.5h1M252 244.5h1M252 245.5h1M252 246.5h1M252 247.5h1M252 248.5h1M253 243.5h1M253 244.5h1M253 245.5h1M253 246.5h1M253 247.5h1M253 248.5h1M253 249.5h1M254 243.5h1M254 244.5h1M254 245.5h1M254 246.5h1M254 247.5h1M254 248.5h1M255 242.5h1M255 243.5h1M255 244.5h1M255 245.5h1M255 246.5h1M255 247.5h1M255 248.5h1M256 242.5h1M256 243.5h1M256 244.5h1M256 245.5h1M256 246.5h1M256 247.5h1M256 248.5h1M257 241.5h1M257 243.5h1M257 244.5h1M257 245.5h1M257 246.5h1M257 247.5h1M257 248.5h1M258 241.5h1M258 242.5h1M258 243.5h1M258 244.5h1M258 245.5h1M258 246.5h1M258 247.5h1M258 248.5h1M259 243.5h1M259 244.5h1M259 245.5h1M259 246.5h1M259 247.5h1M260 241.5h1M260 243.5h1M260 244.5h1M260 245.5h1M260 246.5h1M260 248.5h1M261 242.5h1M261 243.5h1M261 244.5h1M261 245.5h1M261 246.5h1M262 245.5h1M263 242.5h1M269 236.5h1M269 242.5h1M271 250.5h1M273 238.5h1M273 248.5h1M274 248.5h1M275 246.5h1M277 246.5h1M279 244.5h1M281 241.5h1M285 237.5h1M287 241.5h1M288 182.5h1M288 184.5h1M288 195.5h1M289 177.5h1M289 180.5h1M289 190.5h1M289 199.5h1M290 171.5h1M290 172.5h1M290 179.5h1M290 187.5h1M290 189.5h1M290 195.5h1M290 199.5h1M290 203.5h1M290 204.5h1M291 169.5h1M291 171.5h1M291 176.5h1M291 179.5h1M291 185.5h1M291 189.5h1M291 193.5h1M291 194.5h1M291 200.5h1M291 209.5h1M291 211.5h1M291 218.5h1M292 169.5h1M292 171.5h1M292 172.5h1M292 174.5h1M292 176.5h1M292 178.5h1M292 179.5h1M292 181.5h1M292 182.5h1M292 185.5h1M292 187.5h1M292 190.5h1M292 192.5h1M292 193.5h1M292 196.5h1M292 198.5h1M292 203.5h1M292 205.5h1M292 207.5h1M292 209.5h1M292 210.5h1M292 218.5h1M293 162.5h1M293 164.5h1M293 165.5h1M293 168.5h1M293 171.5h1M293 174.5h1M293 178.5h1M293 179.5h1M293 180.5h1M293 183.5h1M293 184.5h1M293 186.5h1M293 187.5h1M293 188.5h1M293 190.5h1M293 191.5h1M293 193.5h1M293 194.5h1M293 195.5h1M293 197.5h1M293 199.5h1M293 200.5h1M293 202.5h1M293 204.5h1M293 205.5h1M293 206.5h1M293 207.5h1M293 208.5h1M293 212.5h1M293 213.5h1M293 214.5h1M294 160.5h1M294 172.5h1M294 174.5h1M294 177.5h1M294 178.5h1M294 179.5h1M294 180.5h1M294 181.5h1M294 182.5h1M294 183.5h1M294 184.5h1M294 186.5h1M294 187.5h1M294 188.5h1M294 189.5h1M294 191.5h1M294 192.5h1M294 193.5h1M294 194.5h1M294 195.5h1M294 197.5h1M294 201.5h1M294 203.5h1M294 204.5h1M294 207.5h1M294 213.5h1M294 214.5h1M294 215.5h1M295 169.5h1M295 170.5h1M295 174.5h1M295 175.5h1M295 177.5h1M295 178.5h1M295 179.5h1M295 180.5h1M295 181.5h1M295 182.5h1M295 183.5h1M295 184.5h1M295 185.5h1M295 187.5h1M295 188.5h1M295 189.5h1M295 190.5h1M295 192.5h1M295 193.5h1M295 194.5h1M295 198.5h1M295 199.5h1M295 201.5h1M295 202.5h1M295 204.5h1M295 206.5h1M295 207.5h1M295 208.5h1M295 211.5h1M295 217.5h1M296 166.5h1M296 167.5h1M296 168.5h1M296 171.5h1M296 172.5h1M296 173.5h1M296 175.5h1M296 176.5h1M296 177.5h1M296 179.5h1M296 180.5h1M296 182.5h1M296 184.5h1M296 185.5h1M296 186.5h1M296 187.5h1M296 188.5h1M296 189.5h1M296 190.5h1M296 191.5h1M296 192.5h1M296 193.5h1M296 195.5h1M296 196.5h1M296 197.5h1M296 199.5h1M296 200.5h1M296 201.5h1M296 202.5h1M296 203.5h1M296 204.5h1M296 205.5h1M296 206.5h1M296 207.5h1M296 208.5h1M296 209.5h1M296 210.5h1M296 212.5h1M296 213.5h1M296 214.5h1M296 218.5h1M296 219.5h1M296 222.5h1M297 167.5h1M297 168.5h1M297 169.5h1M297 171.5h1M297 172.5h1M297 173.5h1M297 175.5h1M297 176.5h1M297 177.5h1M297 179.5h1M297 180.5h1M297 181.5h1M297 182.5h1M297 183.5h1M297 184.5h1M297 185.5h1M297 186.5h1M297 187.5h1M297 189.5h1M297 190.5h1M297 191.5h1M297 192.5h1M297 193.5h1M297 194.5h1M297 195.5h1M297 196.5h1M297 197.5h1M297 199.5h1M297 200.5h1M297 201.5h1M297 202.5h1M297 203.5h1M297 204.5h1M297 205.5h1M297 206.5h1M297 207.5h1M297 208.5h1M297 209.5h1M297 210.5h1M297 212.5h1M297 213.5h1M297 214.5h1M297 215.5h1M297 218.5h1M297 219.5h1M297 221.5h1M297 222.5h1M298 165.5h1M298 167.5h1M298 168.5h1M298 169.5h1M298 170.5h1M298 171.5h1M298 172.5h1M298 173.5h1M298 175.5h1M298 176.5h1M298 177.5h1M298 178.5h1M298 179.5h1M298 180.5h1M298 181.5h1M298 183.5h1M298 184.5h1M298 185.5h1M298 186.5h1M298 187.5h1M298 189.5h1M298 190.5h1M298 192.5h1M298 193.5h1M298 194.5h1M298 195.5h1M298 196.5h1M298 197.5h1M298 198.5h1M298 199.5h1M298 200.5h1M298 201.5h1M298 202.5h1M298 203.5h1M298 205.5h1M298 206.5h1M298 207.5h1M298 208.5h1M298 210.5h1M298 211.5h1M298 212.5h1M299 167.5h1M299 169.5h1M299 170.5h1M299 172.5h1M299 173.5h1M299 174.5h1M299 175.5h1M299 177.5h1M299 178.5h1M299 181.5h1M299 182.5h1M299 184.5h1M299 185.5h1M299 186.5h1M299 187.5h1M299 188.5h1M299 189.5h1M299 190.5h1M299 192.5h1M299 193.5h1M299 194.5h1M299 196.5h1M299 197.5h1M299 198.5h1M299 199.5h1M299 200.5h1M299 203.5h1M299 205.5h1M299 207.5h1M299 208.5h1M299 209.5h1M299 210.5h1M299 213.5h1M299 217.5h1M300 162.5h1M300 166.5h1M300 170.5h1M300 171.5h1M300 173.5h1M300 174.5h1M300 175.5h1M300 176.5h1M300 177.5h1M300 178.5h1M300 179.5h1M300 180.5h1M300 182.5h1M300 184.5h1M300 185.5h1M300 186.5h1M300 187.5h1M300 188.5h1M300 189.5h1M300 190.5h1M300 191.5h1M300 192.5h1M300 193.5h1M300 194.5h1M300 196.5h1M300 197.5h1M300 198.5h1M300 199.5h1M300 200.5h1M300 202.5h1M300 205.5h1M300 206.5h1M300 208.5h1M300 209.5h1M300 211.5h1M300 212.5h1M301 166.5h1M301 169.5h1M301 170.5h1M301 171.5h1M301 172.5h1M301 176.5h1M301 178.5h1M301 179.5h1M301 180.5h1M301 181.5h1M301 183.5h1M301 186.5h1M301 188.5h1M301 191.5h1M301 192.5h1M301 193.5h1M301 194.5h1M301 195.5h1M301 196.5h1M301 197.5h1M301 198.5h1M301 199.5h1M301 200.5h1M301 201.5h1M301 202.5h1M301 203.5h1M301 204.5h1M301 205.5h1M301 206.5h1M302 166.5h1M302 170.5h1M302 174.5h1M302 175.5h1M302 178.5h1M302 180.5h1M302 182.5h1M302 185.5h1M302 187.5h1M302 189.5h1M302 192.5h1M302 196.5h1M302 197.5h1M302 200.5h1M302 201.5h1M302 202.5h1M302 204.5h1M302 207.5h1M302 214.5h1M303 172.5h1M303 174.5h1M303 177.5h1M303 178.5h1M303 183.5h1M303 187.5h1M303 188.5h1M303 189.5h1M303 190.5h1M303 193.5h1M303 194.5h1M303 195.5h1M303 198.5h1M303 201.5h1M303 203.5h1M303 213.5h1M304 176.5h1M304 180.5h1M304 187.5h1M304 191.5h1M304 200.5h1M304 208.5h1M304 212.5h1M305 181.5h1M305 186.5h1M305 198.5h1M306 173.5h1M306 189.5h1" stroke="#000" stroke-width="1"/>
<path d="M236 233.5h1M240 215.5h1M244 234.5h1M244 246.5h1M245 247.5h1M246 222.5h1M246 248.5h1M246 250.5h1M247 226.5h1M247 230.5h1M247 245.5h1M247 247.5h1M247 248.5h1M248 236.5h1M248 249.5h1M249 243.5h1M249 245.5h1M249 246.5h1M249 248.5h1M250 241.5h1M250 242.5h1M250 244.5h1M250 250.5h1M251 243.5h1M251 249.5h1M252 249.5h1M252 250.5h1M253 250.5h1M254 226.5h1M254 227.5h1M254 241.5h1M255 235.5h1M256 225.5h1M256 241.5h1M256 251.5h1M257 228.5h1M258 239.5h1M258 249.5h1M259 242.5h1M259 248.5h1M259 249.5h1M260 242.5h1M260 247.5h1M261 214.5h1M261 241.5h1M261 248.5h1M262 205.5h1M262 243.5h1M262 247.5h1M263 236.5h1M263 241.5h1M263 244.5h1M264 205.5h1M264 238.5h1M264 246.5h1M265 233.5h1M265 237.5h1M265 238.5h1M265 246.5h1M266 235.5h1M266 247.5h1M266 249.5h1M266 250.5h1M267 238.5h1M267 242.5h1M267 245.5h1M267 249.5h1M268 203.5h1M268 208.5h1M268 231.5h1M268 234.5h1M268 237.5h1M268 239.5h1M268 240.5h1M268 241.5h1M268 244.5h1M269 213.5h1M269 234.5h1M269 237.5h1M269 247.5h1M269 249.5h1M269 250.5h1M269 251.5h1M270 228.5h1M270 233.5h1M270 234.5h1M270 243.5h1M270 245.5h1M270 246.5h1M270 247.5h1M270 249.5h1M271 230.5h1M271 238.5h1M271 239.5h1M271 241.5h1M271 242.5h1M271 245.5h1M271 246.5h1M271 248.5h1M271 249.5h1M272 197.5h1M272 206.5h1M272 227.5h1M272 229.5h1M272 233.5h1M272 239.5h1M272 242.5h1M272 245.5h1M272 249.5h1M272 250.5h1M272 252.5h1M273 209.5h1M273 231.5h1M273 233.5h1M273 236.5h1M273 242.5h1M273 243.5h1M273 245.5h1M274 200.5h1M274 212.5h1M274 227.5h1M274 234.5h1M274 237.5h1M274 246.5h1M274 249.5h1M274 250.5h1M274 251.5h1M275 224.5h1M275 226.5h1M275 228.5h1M275 230.5h1M275 234.5h1M275 235.5h1M275 236.5h1M275 237.5h1M275 238.5h1M275 239.5h1M275 241.5h1M275 243.5h1M275 244.5h1M275 248.5h1M275 250.5h1M276 195.5h1M276 202.5h1M276 224.5h1M276 233.5h1M276 234.5h1M276 235.5h1M276 238.5h1M276 241.5h1M276 243.5h1M276 249.5h1M277 208.5h1M277 222.5h1M277 231.5h1M277 232.5h1M277 233.5h1M277 247.5h1M277 250.5h1M277 252.5h1M278 224.5h1M278 228.5h1M278 231.5h1M278 233.5h1M278 236.5h1M278 241.5h1M278 244.5h1M278 246.5h1M278 249.5h1M279 223.5h1M279 225.5h1M279 235.5h1M279 236.5h1M279 238.5h1M279 239.5h1M279 240.5h1M279 241.5h1M279 243.5h1M279 245.5h1M279 246.5h1M279 247.5h1M279 248.5h1M280 167.5h1M280 203.5h1M280 211.5h1M280 230.5h1M280 232.5h1M280 235.5h1M280 236.5h1M280 237.5h1M280 244.5h1M280 249.5h1M281 215.5h1M281 225.5h1M281 227.5h1M281 230.5h1M281 233.5h1M281 234.5h1M281 235.5h1M281 236.5h1M281 237.5h1M281 239.5h1M281 240.5h1M281 243.5h1M281 247.5h1M282 188.5h1M282 196.5h1M282 228.5h1M282 229.5h1M282 231.5h1M282 234.5h1M282 238.5h1M282 242.5h1M282 243.5h1M282 245.5h1M283 188.5h1M283 204.5h1M283 230.5h1M283 234.5h1M283 237.5h1M283 239.5h1M283 245.5h1M283 247.5h1M283 248.5h1M283 249.5h1M284 157.5h1M284 168.5h1M284 173.5h1M284 182.5h1M284 189.5h1M284 195.5h1M284 208.5h1M284 211.5h1M284 219.5h1M284 220.5h1M284 221.5h1M284 223.5h1M284 227.5h1M284 233.5h1M284 234.5h1M284 237.5h1M284 240.5h1M284 245.5h1M284 248.5h1M284 251.5h1M285 163.5h1M285 166.5h1M285 173.5h1M285 179.5h1M285 182.5h1M285 187.5h1M285 189.5h1M285 190.5h1M285 196.5h1M285 201.5h1M285 205.5h1M285 209.5h1M285 211.5h1M285 218.5h1M285 220.5h1M285 222.5h1M285 226.5h1M285 231.5h1M285 232.5h1M285 233.5h1M285 234.5h1M285 239.5h1M285 241.5h1M285 243.5h1M285 248.5h1M285 251.5h1M286 162.5h1M286 163.5h1M286 175.5h1M286 176.5h1M286 181.5h1M286 184.5h1M286 188.5h1M286 189.5h1M286 192.5h1M286 194.5h1M286 205.5h1M286 206.5h1M286 207.5h1M286 213.5h1M286 214.5h1M286 216.5h1M286 217.5h1M286 219.5h1M286 220.5h1M286 223.5h1M286 225.5h1M286 227.5h1M286 230.5h1M286 232.5h1M286 236.5h1M286 238.5h1M286 239.5h1M286 241.5h1M286 244.5h1M286 245.5h1M287 164.5h1M287 170.5h1M287 172.5h1M287 173.5h1M287 176.5h1M287 178.5h1M287 179.5h1M287 196.5h1M287 197.5h1M287 198.5h1M287 202.5h1M287 204.5h1M287 212.5h1M287 216.5h1M287 217.5h1M287 222.5h1M287 223.5h1M287 227.5h1M287 231.5h1M287 232.5h1M287 238.5h1M288 165.5h1M288 166.5h1M288 172.5h1M288 175.5h1M288 178.5h1M288 180.5h1M288 186.5h1M288 188.5h1M288 190.5h1M288 191.5h1M288 194.5h1M288 199.5h1M288 200.5h1M288 202.5h1M288 203.5h1M288 211.5h1M288 212.5h1M288 215.5h1M288 218.5h1M288 220.5h1M288 222.5h1M288 224.5h1M288 238.5h1M288 244.5h1M289 162.5h1M289 168.5h1M289 170.5h1M289 176.5h1M289 181.5h1M289 183.5h1M289 191.5h1M289 192.5h1M289 194.5h1M289 196.5h1M289 203.5h1M289 208.5h1M289 211.5h1M289 213.5h1M289 214.5h1M289 218.5h1M289 220.5h1M289 230.5h1M289 237.5h1M290 162.5h1M290 167.5h1M290 169.5h1M290 173.5h1M290 175.5h1M290 177.5h1M290 181.5h1M290 182.5h1M290 184.5h1M290 198.5h1M290 201.5h1M290 205.5h1M290 209.5h1M290 210.5h1M290 212.5h1M290 214.5h1M290 217.5h1M290 220.5h1M290 225.5h1M290 227.5h1M290 231.5h1M290 233.5h1M290 236.5h1M291 166.5h1M291 167.5h1M291 172.5h1M291 173.5h1M291 174.5h1M291 175.5h1M291 182.5h1M291 187.5h1M291 191.5h1M291 192.5h1M291 197.5h1M291 198.5h1M291 201.5h1M291 203.5h1M291 204.5h1M291 210.5h1M291 216.5h1M291 217.5h1M291 220.5h1M291 221.5h1M291 222.5h1M291 226.5h1M291 227.5h1M291 229.5h1M291 232.5h1M291 237.5h1M292 157.5h1M292 159.5h1M292 161.5h1M292 163.5h1M292 170.5h1M292 173.5h1M292 177.5h1M292 184.5h1M292 188.5h1M292 189.5h1M292 195.5h1M292 197.5h1M292 199.5h1M292 200.5h1M292 202.5h1M292 206.5h1M292 211.5h1M292 212.5h1M292 213.5h1M292 216.5h1M292 217.5h1M292 219.5h1M292 223.5h1M292 226.5h1M292 228.5h1M292 232.5h1M293 158.5h1M293 160.5h1M293 163.5h1M293 173.5h1M293 175.5h1M293 176.5h1M293 177.5h1M293 181.5h1M293 182.5h1M293 198.5h1M293 201.5h1M293 209.5h1M293 210.5h1M293 216.5h1M293 221.5h1M293 224.5h1M293 225.5h1M293 250.5h1M294 159.5h1M294 161.5h1M294 162.5h1M294 163.5h1M294 164.5h1M294 165.5h1M294 170.5h1M294 171.5h1M294 173.5h1M294 196.5h1M294 199.5h1M294 200.5h1M294 202.5h1M294 206.5h1M294 209.5h1M294 212.5h1M294 219.5h1M294 220.5h1M294 221.5h1M294 223.5h1M294 235.5h1M295 160.5h1M295 163.5h1M295 164.5h1M295 165.5h1M295 167.5h1M295 168.5h1M295 173.5h1M295 191.5h1M295 195.5h1M295 210.5h1M295 222.5h1M295 223.5h1M295 225.5h1M295 227.5h1M295 230.5h1M295 236.5h1M295 241.5h1M296 161.5h1M296 162.5h1M296 163.5h1M296 170.5h1M296 183.5h1M296 211.5h1M296 220.5h1M296 224.5h1M296 225.5h1M296 228.5h1M296 230.5h1M296 233.5h1M296 237.5h1M296 241.5h1M297 157.5h1M297 161.5h1M297 164.5h1M297 165.5h1M297 166.5h1M297 188.5h1M297 211.5h1M297 216.5h1M297 223.5h1M297 225.5h1M297 226.5h1M297 232.5h1M297 233.5h1M297 236.5h1M298 157.5h1M298 159.5h1M298 161.5h1M298 162.5h1M298 166.5h1M298 188.5h1M298 209.5h1M298 213.5h1M298 215.5h1M298 217.5h1M298 223.5h1M298 225.5h1M298 227.5h1M298 228.5h1M298 232.5h1M298 233.5h1M298 237.5h1M299 162.5h1M299 164.5h1M299 171.5h1M299 179.5h1M299 183.5h1M299 191.5h1M299 211.5h1M299 219.5h1M299 220.5h1M299 223.5h1M299 224.5h1M299 227.5h1M299 230.5h1M299 241.5h1M299 248.5h1M300 159.5h1M300 160.5h1M300 163.5h1M300 164.5h1M300 167.5h1M300 168.5h1M300 169.5h1M300 172.5h1M300 195.5h1M300 201.5h1M300 210.5h1M300 214.5h1M300 218.5h1M300 224.5h1M300 226.5h1M300 228.5h1M300 229.5h1M300 231.5h1M300 234.5h1M300 245.5h1M300 250.5h1M301 159.5h1M301 162.5h1M301 167.5h1M301 168.5h1M301 177.5h1M301 185.5h1M301 190.5h1M301 213.5h1M301 219.5h1M301 220.5h1M301 222.5h1M301 223.5h1M301 226.5h1M301 227.5h1M301 229.5h1M302 157.5h1M302 158.5h1M302 165.5h1M302 168.5h1M302 169.5h1M302 172.5h1M302 173.5h1M302 183.5h1M302 186.5h1M302 188.5h1M302 198.5h1M302 206.5h1M302 208.5h1M302 209.5h1M302 210.5h1M302 211.5h1M302 212.5h1M302 213.5h1M302 216.5h1M302 220.5h1M302 229.5h1M302 233.5h1M303 162.5h1M303 164.5h1M303 165.5h1M303 166.5h1M303 167.5h1M303 168.5h1M303 169.5h1M303 171.5h1M303 173.5h1M303 180.5h1M303 181.5h1M303 200.5h1M303 209.5h1M303 210.5h1M303 211.5h1M303 216.5h1M303 217.5h1M303 220.5h1M303 224.5h1M303 226.5h1M303 227.5h1M304 159.5h1M304 165.5h1M304 169.5h1M304 172.5h1M304 175.5h1M304 182.5h1M304 183.5h1M304 184.5h1M304 186.5h1M304 188.5h1M304 189.5h1M304 193.5h1M304 195.5h1M304 197.5h1M304 205.5h1M304 206.5h1M304 207.5h1M304 216.5h1M304 217.5h1M304 221.5h1M304 223.5h1M304 226.5h1M304 228.5h1M305 157.5h1M305 162.5h1M305 164.5h1M305 165.5h1M305 166.5h1M305 171.5h1M305 172.5h1M305 173.5h1M305 175.5h1M305 177.5h1M305 178.5h1M305 179.5h1M305 182.5h1M305 187.5h1M305 188.5h1M305 189.5h1M305 194.5h1M305 195.5h1M305 196.5h1M305 197.5h1M305 200.5h1M305 205.5h1M305 206.5h1M305 208.5h1M305 209.5h1M305 210.5h1M305 211.5h1M305 215.5h1M305 217.5h1M305 224.5h1M305 226.5h1M305 244.5h1M306 157.5h1M306 161.5h1M306 163.5h1M306 165.5h1M306 171.5h1M306 174.5h1M306 178.5h1M306 181.5h1M306 183.5h1M306 184.5h1M306 187.5h1M306 191.5h1M306 193.5h1M306 194.5h1M306 196.5h1M306 204.5h1M306 205.5h1M306 206.5h1M306 208.5h1M306 210.5h1M306 214.5h1M306 215.5h1M306 220.5h1M306 223.5h1M306 229.5h1M307 167.5h1M307 168.5h1M307 176.5h1M307 180.5h1M307 183.5h1M307 185.5h1M307 186.5h1M307 191.5h1M307 195.5h1M307 196.5h1M307 202.5h1M307 205.5h1M307 210.5h1M307 220.5h1M307 227.5h1M307 234.5h1M308 157.5h1M308 159.5h1M308 169.5h1M308 170.5h1M308 172.5h1M308 173.5h1M308 183.5h1M308 184.5h1M308 186.5h1M308 187.5h1M308 190.5h1M308 196.5h1M308 199.5h1M308 202.5h1M308 207.5h1M308 212.5h1M308 214.5h1M308 217.5h1M308 221.5h1M308 222.5h1M309 176.5h1M309 191.5h1M309 192.5h1M309 195.5h1M309 197.5h1M309 200.5h1M309 203.5h1M309 214.5h1M309 219.5h1M309 220.5h1M310 174.5h1M310 176.5h1M310 179.5h1M310 180.5h1M310 181.5h1M310 186.5h1M310 217.5h1M311 165.5h1M311 178.5h1M311 191.5h1M311 201.5h1M312 171.5h1M312 187.5h1M312 190.5h1M312 194.5h1M312 200.5h1M312 203.5h1M312 206.5h1M312 211.5h1M312 222.5h1M312 240.5h1M313 196.5h1M313 200.5h1M313 240.5h1M314 186.5h1M314 188.5h1M314 206.5h1M314 220.5h1M315 208.5h1M317 183.5h1M318 232.5h1M318 234.5h1M321 186.5h1" stroke="#8a8a8a" stroke-width="1"/>
<path d="M242 365.5h1M242 366.5h1M242 369.5h1M243 362.5h1M243 364.5h1M243 365.5h1M243 366.5h1M243 367.5h1M243 369.5h1M244 362.5h1M244 363.5h1M244 364.5h1M244 365.5h1M244 366.5h1M244 367.5h1M244 368.5h1M244 370.5h1M245 362.5h1M245 363.5h1M245 364.5h1M245 365.5h1M245 366.5h1M245 367.5h1M245 368.5h1M246 362.5h1M246 363.5h1M246 364.5h1M246 365.5h1M246 366.5h1M246 367.5h1M246 368.5h1M246 369.5h1M247 360.5h1M247 362.5h1M247 363.5h1M247 364.5h1M247 365.5h1M247 366.5h1M247 367.5h1M247 368.5h1M248 361.5h1M248 362.5h1M248 363.5h1M248 364.5h1M248 365.5h1M248 366.5h1M248 367.5h1M248 368.5h1M248 369.5h1M249 360.5h1M249 361.5h1M249 362.5h1M249 363.5h1M249 364.5h1M249 365.5h1M249 366.5h1M249 367.5h1M249 368.5h1M249 370.5h1M250 360.5h1M250 361.5h1M250 362.5h1M250 363.5h1M250 364.5h1M250 365.5h1M250 366.5h1M250 367.5h1M251 361.5h1M251 362.5h1M251 363.5h1M251 364.5h1M251 365.5h1M251 366.5h1M251 367.5h1M251 368.5h1M252 359.5h1M252 360.5h1M252 361.5h1M252 362.5h1M252 363.5h1M252 364.5h1M252 365.5h1M252 366.5h1M252 367.5h1M252 368.5h1M253 359.5h1M253 360.5h1M253 361.5h1M253 362.5h1M253 363.5h1M253 364.5h1M253 365.5h1M253 366.5h1M253 367.5h1M253 368.5h1M254 360.5h1M254 361.5h1M254 362.5h1M254 363.5h1M254 364.5h1M254 365.5h1M254 366.5h1M254 367.5h1M255 359.5h1M255 360.5h1M255 361.5h1M255 362.5h1M255 363.5h1M255 364.5h1M255 365.5h1M255 366.5h1M256 359.5h1M256 360.5h1M256 362.5h1M256 363.5h1M256 364.5h1M256 365.5h1M256 366.5h1M256 367.5h1M257 359.5h1M257 360.5h1M257 361.5h1M257 362.5h1M257 363.5h1M258 359.5h1M258 361.5h1M258 362.5h1M258 363.5h1M258 364.5h1M259 360.5h1M259 361.5h1M259 362.5h1M260 363.5h1M260 364.5h1M264 361.5h1M269 361.5h1M270 353.5h1M278 353.5h1M279 349.5h1M279 354.5h1M279 356.5h1M279 357.5h1M280 353.5h1M280 354.5h1M280 355.5h1M280 357.5h1M280 358.5h1M281 353.5h1M281 354.5h1M281 355.5h1M281 356.5h1M281 358.5h1M282 351.5h1M282 353.5h1M283 348.5h1M283 354.5h1M283 357.5h1M283 358.5h1M283 360.5h1M284 345.5h1M284 350.5h1M284 355.5h1M284 356.5h1M284 357.5h1M285 291.5h1M285 324.5h1M285 326.5h1M285 329.5h1M285 334.5h1M286 301.5h1M286 303.5h1M286 304.5h1M286 310.5h1M286 316.5h1M286 317.5h1M286 320.5h1M286 346.5h1M286 351.5h1M287 279.5h1M287 281.5h1M287 284.5h1M287 286.5h1M287 299.5h1M287 302.5h1M287 304.5h1M287 305.5h1M287 307.5h1M287 311.5h1M287 313.5h1M287 315.5h1M287 316.5h1M287 320.5h1M287 321.5h1M287 322.5h1M287 324.5h1M287 331.5h1M288 286.5h1M288 287.5h1M288 288.5h1M288 291.5h1M288 292.5h1M288 298.5h1M288 299.5h1M288 300.5h1M288 302.5h1M288 303.5h1M288 307.5h1M288 309.5h1M288 311.5h1M288 314.5h1M288 315.5h1M288 316.5h1M288 319.5h1M288 320.5h1M288 321.5h1M288 324.5h1M288 325.5h1M288 328.5h1M288 333.5h1M288 343.5h1M289 280.5h1M289 283.5h1M289 285.5h1M289 288.5h1M289 289.5h1M289 290.5h1M289 291.5h1M289 292.5h1M289 295.5h1M289 296.5h1M289 297.5h1M289 298.5h1M289 299.5h1M289 300.5h1M289 301.5h1M289 303.5h1M289 305.5h1M289 309.5h1M289 311.5h1M289 312.5h1M289 313.5h1M289 314.5h1M289 315.5h1M289 316.5h1M289 317.5h1M289 318.5h1M289 319.5h1M289 320.5h1M289 321.5h1M289 322.5h1M289 324.5h1M289 325.5h1M289 326.5h1M289 327.5h1M289 328.5h1M289 329.5h1M289 332.5h1M289 333.5h1M289 337.5h1M290 281.5h1M290 283.5h1M290 284.5h1M290 285.5h1M290 286.5h1M290 288.5h1M290 289.5h1M290 290.5h1M290 291.5h1M290 292.5h1M290 293.5h1M290 294.5h1M290 295.5h1M290 296.5h1M290 297.5h1M290 298.5h1M290 299.5h1M290 300.5h1M290 301.5h1M290 302.5h1M290 303.5h1M290 304.5h1M290 305.5h1M290 306.5h1M290 307.5h1M290 308.5h1M290 309.5h1M290 310.5h1M290 311.5h1M290 312.5h1M290 313.5h1M290 314.5h1M290 315.5h1M290 316.5h1M290 317.5h1M290 318.5h1M290 319.5h1M290 320.5h1M290 321.5h1M290 322.5h1M290 323.5h1M290 324.5h1M290 325.5h1M290 328.5h1M290 329.5h1M290 330.5h1M290 331.5h1M290 332.5h1M290 334.5h1M290 335.5h1M290 337.5h1M290 338.5h1M290 339.5h1M290 347.5h1M291 280.5h1M291 281.5h1M291 282.5h1M291 283.5h1M291 284.5h1M291 285.5h1M291 286.5h1M291 287.5h1M291 288.5h1M291 289.5h1M291 290.5h1M291 291.5h1M291 292.5h1M291 293.5h1M291 294.5h1M291 295.5h1M291 296.5h1M291 297.5h1M291 298.5h1M291 299.5h1M291 300.5h1M291 301.5h1M291 302.5h1M291 303.5h1M291 304.5h1M291 305.5h1M291 306.5h1M291 307.5h1M291 308.5h1M291 309.5h1M291 310.5h1M291 311.5h1M291 312.5h1M291 313.5h1M291 314.5h1M291 315.5h1M291 316.5h1M291 317.5h1M291 318.5h1M291 319.5h1M291 320.5h1M291 321.5h1M291 322.5h1M291 323.5h1M291 324.5h1M291 325.5h1M291 326.5h1M291 327.5h1M291 328.5h1M291 329.5h1M291 331.5h1M291 332.5h1M291 333.5h1M291 334.5h1M291 335.5h1M291 336.5h1M291 339.5h1M291 341.5h1M291 342.5h1M291 343.5h1M292 276.5h1M292 280.5h1M292 281.5h1M292 282.5h1M292 284.5h1M292 285.5h1M292 286.5h1M292 287.5h1M292 288.5h1M292 289.5h1M292 290.5h1M292 291.5h1M292 292.5h1M292 293.5h1M292 294.5h1M292 295.5h1M292 296.5h1M292 297.5h1M292 298.5h1M292 299.5h1M292 300.5h1M292 301.5h1M292 302.5h1M292 303.5h1M292 304.5h1M292 305.5h1M292 306.5h1M292 307.5h1M292 308.5h1M292 309.5h1M292 310.5h1M292 311.5h1M292 312.5h1M292 313.5h1M292 314.5h1M292 315.5h1M292 316.5h1M292 317.5h1M292 318.5h1M292 319.5h1M292 320.5h1M292 321.5h1M292 322.5h1M292 323.5h1M292 324.5h1M292 325.5h1M292 326.5h1M292 327.5h1M292 328.5h1M292 329.5h1M292 330.5h1M292 331.5h1M292 332.5h1M292 333.5h1M292 334.5h1M292 342.5h1M293 279.5h1M293 280.5h1M293 282.5h1M293 283.5h1M293 284.5h1M293 285.5h1M293 286.5h1M293 287.5h1M293 288.5h1M293 289.5h1M293 290.5h1M293 291.5h1M293 292.5h1M293 293.5h1M293 294.5h1M293 295.5h1M293 296.5h1M293 297.5h1M293 298.5h1M293 299.5h1M293 300.5h1M293 301.5h1M293 302.5h1M293 303.5h1M293 304.5h1M293 305.5h1M293 306.5h1M293 307.5h1M293 308.5h1M293 309.5h1M293 310.5h1M293 311.5h1M293 312.5h1M293 313.5h1M293 314.5h1M293 315.5h1M293 316.5h1M293 317.5h1M293 318.5h1M293 319.5h1M293 320.5h1M293 321.5h1M293 322.5h1M293 323.5h1M293 324.5h1M293 325.5h1M293 326.5h1M293 327.5h1M293 328.5h1M293 329.5h1M293 330.5h1M293 332.5h1M293 333.5h1M293 334.5h1M293 335.5h1M293 337.5h1M293 338.5h1M293 339.5h1M293 340.5h1M293 344.5h1M294 276.5h1M294 277.5h1M294 279.5h1M294 280.5h1M294 281.5h1M294 282.5h1M294 283.5h1M294 284.5h1M294 285.5h1M294 286.5h1M294 287.5h1M294 288.5h1M294 289.5h1M294 290.5h1M294 291.5h1M294 292.5h1M294 293.5h1M294 294.5h1M294 295.5h1M294 296.5h1M294 297.5h1M294 298.5h1M294 299.5h1M294 300.5h1M294 301.5h1M294 302.5h1M294 303.5h1M294 304.5h1M294 305.5h1M294 306.5h1M294 307.5h1M294 308.5h1M294 309.5h1M294 310.5h1M294 311.5h1M294 312.5h1M294 313.5h1M294 314.5h1M294 315.5h1M294 316.5h1M294 317.5h1M294 318.5h1M294 319.5h1M294 320.5h1M294 321.5h1M294 322.5h1M294 323.5h1M294 324.5h1M294 325.5h1M294 326.5h1M294 327.5h1M294 328.5h1M294 329.5h1M294 330.5h1M294 331.5h1M294 332.5h1M294 333.5h1M294 334.5h1M294 335.5h1M294 336.5h1M294 337.5h1M294 338.5h1M294 339.5h1M294 341.5h1M294 345.5h1M295 277.5h1M295 279.5h1M295 280.5h1M295 281.5h1M295 282.5h1M295 283.5h1M295 284.5h1M295 285.5h1M295 286.5h1M295 287.5h1M295 288.5h1M295 289.5h1M295 290.5h1M295 291.5h1M295 292.5h1M295 293.5h1M295 294.5h1M295 295.5h1M295 296.5h1M295 297.5h1M295 298.5h1M295 299.5h1M295 300.5h1M295 301.5h1M295 302.5h1M295 303.5h1M295 304.5h1M295 305.5h1M295 306.5h1M295 307.5h1M295 308.5h1M295 309.5h1M295 310.5h1M295 311.5h1M295 312.5h1M295 313.5h1M295 314.5h1M295 315.5h1M295 316.5h1M295 317.5h1M295 318.5h1M295 319.5h1M295 320.5h1M295 321.5h1M295 322.5h1M295 323.5h1M295 324.5h1M295 325.5h1M295 326.5h1M295 327.5h1M295 328.5h1M295 329.5h1M295 330.5h1M295 331.5h1M295 332.5h1M295 333.5h1M295 334.5h1M295 335.5h1M295 336.5h1M295 337.5h1M295 339.5h1M296 276.5h1M296 277.5h1M296 278.5h1M296 280.5h1M296 281.5h1M296 282.5h1M296 283.5h1M296 284.5h1M296 285.5h1M296 286.5h1M296 287.5h1M296 288.5h1M296 289.5h1M296 290.5h1M296 291.5h1M296 292.5h1M296 293.5h1M296 294.5h1M296 295.5h1M296 296.5h1M296 297.5h1M296 298.5h1M296 299.5h1M296 300.5h1M296 301.5h1M296 302.5h1M296 303.5h1M296 304.5h1M296 305.5h1M296 306.5h1M296 307.5h1M296 308.5h1M296 309.5h1M296 310.5h1M296 311.5h1M296 312.5h1M296 313.5h1M296 314.5h1M296 315.5h1M296 316.5h1M296 317.5h1M296 318.5h1M296 319.5h1M296 320.5h1M296 321.5h1M296 322.5h1M296 323.5h1M296 324.5h1M296 325.5h1M296 326.5h1M296 327.5h1M296 328.5h1M296 329.5h1M296 330.5h1M296 331.5h1M296 332.5h1M296 333.5h1M296 334.5h1M296 336.5h1M296 337.5h1M296 339.5h1M296 345.5h1M297 276.5h1M297 277.5h1M297 278.5h1M297 280.5h1M297 282.5h1M297 283.5h1M297 284.5h1M297 285.5h1M297 286.5h1M297 287.5h1M297 288.5h1M297 289.5h1M297 290.5h1M297 291.5h1M297 292.5h1M297 293.5h1M297 294.5h1M297 295.5h1M297 296.5h1M297 297.5h1M297 298.5h1M297 299.5h1M297 300.5h1M297 301.5h1M297 302.5h1M297 303.5h1M297 304.5h1M297 305.5h1M297 306.5h1M297 307.5h1M297 308.5h1M297 309.5h1M297 310.5h1M297 311.5h1M297 312.5h1M297 313.5h1M297 314.5h1M297 315.5h1M297 316.5h1M297 317.5h1M297 318.5h1M297 319.5h1M297 320.5h1M297 321.5h1M297 322.5h1M297 323.5h1M297 324.5h1M297 325.5h1M297 326.5h1M297 327.5h1M297 328.5h1M297 329.5h1M297 330.5h1M297 331.5h1M297 332.5h1M297 333.5h1M297 334.5h1M297 335.5h1M297 336.5h1M297 337.5h1M297 338.5h1M297 339.5h1M297 340.5h1M297 342.5h1M297 344.5h1M297 352.5h1M298 278.5h1M298 279.5h1M298 281.5h1M298 282.5h1M298 283.5h1M298 284.5h1M298 285.5h1M298 286.5h1M298 287.5h1M298 288.5h1M298 289.5h1M298 290.5h1M298 291.5h1M298 292.5h1M298 293.5h1M298 294.5h1M298 295.5h1M298 296.5h1M298 297.5h1M298 298.5h1M298 299.5h1M298 300.5h1M298 301.5h1M298 302.5h1M298 303.5h1M298 304.5h1M298 305.5h1M298 306.5h1M298 307.5h1M298 308.5h1M298 309.5h1M298 310.5h1M298 311.5h1M298 312.5h1M298 313.5h1M298 314.5h1M298 315.5h1M298 316.5h1M298 317.5h1M298 318.5h1M298 319.5h1M298 320.5h1M298 321.5h1M298 322.5h1M298 323.5h1M298 324.5h1M298 325.5h1M298 326.5h1M298 327.5h1M298 328.5h1M298 329.5h1M298 330.5h1M298 331.5h1M298 332.5h1M298 333.5h1M298 334.5h1M298 338.5h1M298 340.5h1M299 275.5h1M299 276.5h1M299 277.5h1M299 278.5h1M299 280.5h1M299 282.5h1M299 283.5h1M299 284.5h1M299 285.5h1M299 286.5h1M299 287.5h1M299 288.5h1M299 289.5h1M299 290.5h1M299 291.5h1M299 292.5h1M299 293.5h1M299 294.5h1M299 295.5h1M299 296.5h1M299 297.5h1M299 298.5h1M299 299.5h1M299 300.5h1M299 301.5h1M299 302.5h1M299 303.5h1M299 304.5h1M299 305.5h1M299 306.5h1M299 307.5h1M299 308.5h1M299 309.5h1M299 310.5h1M299 311.5h1M299 312.5h1M299 313.5h1M299 314.5h1M299 315.5h1M299 316.5h1M299 317.5h1M299 318.5h1M299 319.5h1M299 320.5h1M299 321.5h1M299 322.5h1M299 323.5h1M299 324.5h1M299 325.5h1M299 326.5h1M299 327.5h1M299 328.5h1M299 329.5h1M299 331.5h1M299 332.5h1M299 333.5h1M299 334.5h1M299 335.5h1M299 336.5h1M299 337.5h1M299 339.5h1M299 342.5h1M299 345.5h1M300 279.5h1M300 281.5h1M300 282.5h1M300 284.5h1M300 285.5h1M300 286.5h1M300 287.5h1M300 288.5h1M300 289.5h1M300 290.5h1M300 291.5h1M300 292.5h1M300 293.5h1M300 294.5h1M300 295.5h1M300 296.5h1M300 297.5h1M300 299.5h1M300 300.5h1M300 301.5h1M300 302.5h1M300 303.5h1M300 304.5h1M300 305.5h1M300 306.5h1M300 307.5h1M300 308.5h1M300 309.5h1M300 310.5h1M300 311.5h1M300 312.5h1M300 313.5h1M300 314.5h1M300 315.5h1M300 316.5h1M300 317.5h1M300 318.5h1M300 319.5h1M300 320.5h1M300 321.5h1M300 322.5h1M300 323.5h1M300 324.5h1M300 325.5h1M300 326.5h1M300 327.5h1M300 328.5h1M300 329.5h1M300 330.5h1M300 331.5h1M300 334.5h1M300 337.5h1M300 338.5h1M300 341.5h1M301 280.5h1M301 282.5h1M301 283.5h1M301 285.5h1M301 286.5h1M301 287.5h1M301 288.5h1M301 290.5h1M301 291.5h1M301 292.5h1M301 293.5h1M301 294.5h1M301 295.5h1M301 296.5h1M301 297.5h1M301 298.5h1M301 299.5h1M301 300.5h1M301 301.5h1M301 302.5h1M301 303.5h1M301 304.5h1M301 305.5h1M301 306.5h1M301 307.5h1M301 308.5h1M301 309.5h1M301 310.5h1M301 311.5h1M301 312.5h1M301 313.5h1M301 314.5h1M301 315.5h1M301 316.5h1M301 317.5h1M301 318.5h1M301 319.5h1M301 320.5h1M301 321.5h1M301 322.5h1M301 323.5h1M301 325.5h1M301 326.5h1M301 328.5h1M301 329.5h1M301 330.5h1M301 331.5h1M301 333.5h1M301 334.5h1M301 335.5h1M301 336.5h1M301 342.5h1M301 346.5h1M302 278.5h1M302 283.5h1M302 285.5h1M302 287.5h1M302 289.5h1M302 290.5h1M302 291.5h1M302 292.5h1M302 293.5h1M302 294.5h1M302 295.5h1M302 296.5h1M302 297.5h1M302 298.5h1M302 299.5h1M302 300.5h1M302 301.5h1M302 302.5h1M302 303.5h1M302 304.5h1M302 305.5h1M302 306.5h1M302 307.5h1M302 308.5h1M302 309.5h1M302 310.5h1M302 311.5h1M302 312.5h1M302 313.5h1M302 314.5h1M302 315.5h1M302 316.5h1M302 317.5h1M302 318.5h1M302 319.5h1M302 320.5h1M302 321.5h1M302 322.5h1M302 323.5h1M302 324.5h1M302 327.5h1M302 329.5h1M302 330.5h1M302 331.5h1M302 333.5h1M302 334.5h1M302 335.5h1M302 338.5h1M303 284.5h1M303 286.5h1M303 287.5h1M303 289.5h1M303 291.5h1M303 293.5h1M303 294.5h1M303 295.5h1M303 297.5h1M303 298.5h1M303 299.5h1M303 300.5h1M303 301.5h1M303 304.5h1M303 306.5h1M303 307.5h1M303 308.5h1M303 309.5h1M303 310.5h1M303 311.5h1M303 312.5h1M303 313.5h1M303 314.5h1M303 315.5h1M303 318.5h1M303 320.5h1M303 321.5h1M303 322.5h1M303 323.5h1M303 326.5h1M303 327.5h1M303 330.5h1M303 335.5h1M304 292.5h1M304 293.5h1M304 294.5h1M304 297.5h1M304 299.5h1M304 301.5h1M304 304.5h1M304 305.5h1M304 307.5h1M304 308.5h1M304 309.5h1M304 311.5h1M304 312.5h1M304 314.5h1M304 315.5h1M304 317.5h1M304 318.5h1M304 319.5h1M304 322.5h1M304 325.5h1M304 328.5h1M304 329.5h1M304 331.5h1M304 337.5h1M304 344.5h1M305 300.5h1M305 304.5h1M305 305.5h1M305 306.5h1M305 307.5h1M305 308.5h1M305 311.5h1M305 312.5h1M305 313.5h1M305 321.5h1M305 323.5h1M306 294.5h1M306 296.5h1M306 299.5h1M306 307.5h1M306 309.5h1M306 316.5h1M306 317.5h1M306 318.5h1M307 298.5h1M307 309.5h1M307 331.5h1" stroke="#000" stroke-width="1"/>
<path d="M241 366.5h1M241 367.5h1M242 367.5h1M243 368.5h1M244 369.5h1M245 361.5h1M246 361.5h1M247 369.5h1M249 359.5h1M250 369.5h1M251 369.5h1M252 358.5h1M253 369.5h1M254 357.5h1M255 356.5h1M255 367.5h1M255 368.5h1M256 361.5h1M257 364.5h1M257 365.5h1M259 359.5h1M259 363.5h1M259 365.5h1M260 359.5h1M260 361.5h1M261 358.5h1M261 360.5h1M262 362.5h1M262 364.5h1M263 356.5h1M263 360.5h1M264 357.5h1M268 356.5h1M271 349.5h1M271 354.5h1M272 347.5h1M272 348.5h1M272 349.5h1M272 354.5h1M273 348.5h1M273 354.5h1M275 342.5h1M275 351.5h1M275 354.5h1M276 355.5h1M276 359.5h1M277 342.5h1M277 343.5h1M277 344.5h1M277 348.5h1M277 353.5h1M277 355.5h1M277 360.5h1M278 354.5h1M278 355.5h1M278 358.5h1M279 345.5h1M279 348.5h1M279 359.5h1M279 362.5h1M280 348.5h1M280 352.5h1M281 343.5h1M281 344.5h1M281 345.5h1M281 351.5h1M281 352.5h1M282 304.5h1M282 348.5h1M282 349.5h1M282 350.5h1M282 352.5h1M282 355.5h1M282 356.5h1M282 359.5h1M283 342.5h1M283 344.5h1M283 351.5h1M283 352.5h1M283 353.5h1M283 355.5h1M283 356.5h1M283 359.5h1M284 316.5h1M284 317.5h1M284 320.5h1M284 327.5h1M284 351.5h1M284 353.5h1M284 359.5h1M284 361.5h1M284 363.5h1M285 293.5h1M285 294.5h1M285 300.5h1M285 311.5h1M285 317.5h1M285 323.5h1M285 325.5h1M285 337.5h1M285 350.5h1M285 352.5h1M285 354.5h1M285 356.5h1M285 357.5h1M285 358.5h1M286 277.5h1M286 289.5h1M286 293.5h1M286 295.5h1M286 300.5h1M286 307.5h1M286 312.5h1M286 313.5h1M286 314.5h1M286 322.5h1M286 323.5h1M286 333.5h1M286 350.5h1M286 356.5h1M286 360.5h1M287 280.5h1M287 288.5h1M287 290.5h1M287 294.5h1M287 301.5h1M287 303.5h1M287 308.5h1M287 309.5h1M287 310.5h1M287 312.5h1M287 314.5h1M287 317.5h1M287 323.5h1M287 328.5h1M287 337.5h1M287 341.5h1M288 283.5h1M288 285.5h1M288 297.5h1M288 301.5h1M288 306.5h1M288 308.5h1M288 310.5h1M288 312.5h1M288 317.5h1M288 318.5h1M288 322.5h1M288 330.5h1M288 331.5h1M288 332.5h1M288 334.5h1M289 275.5h1M289 277.5h1M289 281.5h1M289 282.5h1M289 284.5h1M289 293.5h1M289 302.5h1M289 304.5h1M289 306.5h1M289 307.5h1M289 308.5h1M289 310.5h1M289 323.5h1M289 331.5h1M289 336.5h1M289 341.5h1M290 282.5h1M290 287.5h1M290 326.5h1M290 327.5h1M290 333.5h1M290 336.5h1M290 341.5h1M290 343.5h1M290 345.5h1M291 330.5h1M291 337.5h1M291 344.5h1M292 275.5h1M292 335.5h1M292 337.5h1M292 338.5h1M292 339.5h1M292 340.5h1M292 341.5h1M293 275.5h1M293 276.5h1M293 277.5h1M293 281.5h1M293 331.5h1M293 336.5h1M293 343.5h1M294 278.5h1M294 340.5h1M294 342.5h1M294 350.5h1M295 275.5h1M295 276.5h1M295 341.5h1M295 342.5h1M295 344.5h1M295 358.5h1M296 279.5h1M296 335.5h1M296 340.5h1M296 341.5h1M296 342.5h1M296 343.5h1M296 344.5h1M296 346.5h1M296 355.5h1M297 279.5h1M297 281.5h1M297 341.5h1M297 343.5h1M297 346.5h1M298 275.5h1M298 280.5h1M298 336.5h1M298 337.5h1M298 339.5h1M298 341.5h1M298 343.5h1M299 330.5h1M299 338.5h1M299 340.5h1M299 341.5h1M300 275.5h1M300 278.5h1M300 283.5h1M300 298.5h1M300 333.5h1M300 335.5h1M300 336.5h1M300 343.5h1M300 350.5h1M301 278.5h1M301 324.5h1M301 327.5h1M301 343.5h1M302 279.5h1M302 286.5h1M302 325.5h1M302 326.5h1M302 328.5h1M302 340.5h1M302 342.5h1M303 282.5h1M303 285.5h1M303 290.5h1M303 292.5h1M303 305.5h1M303 317.5h1M303 331.5h1M303 338.5h1M303 339.5h1M303 344.5h1M304 279.5h1M304 288.5h1M304 289.5h1M304 290.5h1M304 295.5h1M304 296.5h1M304 298.5h1M304 303.5h1M304 306.5h1M304 320.5h1M304 323.5h1M304 324.5h1M304 326.5h1M304 330.5h1M304 339.5h1M305 275.5h1M305 284.5h1M305 286.5h1M305 290.5h1M305 293.5h1M305 297.5h1M305 302.5h1M305 309.5h1M305 314.5h1M305 318.5h1M305 320.5h1M305 322.5h1M305 331.5h1M305 337.5h1M306 281.5h1M306 293.5h1M306 297.5h1M306 304.5h1M306 305.5h1M306 306.5h1M306 310.5h1M306 311.5h1M306 312.5h1M306 313.5h1M306 321.5h1M306 323.5h1M306 327.5h1M306 349.5h1M307 299.5h1M307 300.5h1M307 310.5h1M307 311.5h1M307 313.5h1M307 325.5h1M307 333.5h1M308 311.5h1M309 314.5h1M310 304.5h1" stroke="#444" stroke-width="1"/>
<path d="M233 355.5h1M236 339.5h1M238 340.5h1M238 365.5h1M238 366.5h1M238 368.5h1M238 370.5h1M239 359.5h1M239 361.5h1M239 364.5h1M239 366.5h1M239 367.5h1M239 368.5h1M239 369.5h1M240 365.5h1M240 366.5h1M240 367.5h1M240 368.5h1M240 369.5h1M240 370.5h1M241 364.5h1M241 365.5h1M241 368.5h1M241 370.5h1M242 363.5h1M242 364.5h1M242 370.5h1M243 363.5h1M244 356.5h1M244 361.5h1M246 355.5h1M246 360.5h1M246 370.5h1M247 343.5h1M247 357.5h1M247 361.5h1M248 330.5h1M248 370.5h1M249 369.5h1M250 349.5h1M250 357.5h1M250 359.5h1M250 370.5h1M251 344.5h1M251 355.5h1M251 358.5h1M251 359.5h1M251 360.5h1M252 335.5h1M253 358.5h1M254 336.5h1M254 353.5h1M254 359.5h1M255 358.5h1M256 356.5h1M256 357.5h1M256 358.5h1M256 368.5h1M257 337.5h1M257 357.5h1M257 366.5h1M257 368.5h1M258 357.5h1M258 358.5h1M258 365.5h1M258 366.5h1M258 368.5h1M259 352.5h1M259 355.5h1M259 356.5h1M259 358.5h1M259 364.5h1M260 316.5h1M260 355.5h1M260 358.5h1M260 360.5h1M260 362.5h1M260 365.5h1M261 326.5h1M261 340.5h1M261 361.5h1M261 362.5h1M262 312.5h1M262 322.5h1M262 347.5h1M262 349.5h1M262 351.5h1M262 352.5h1M262 361.5h1M262 367.5h1M263 350.5h1M263 351.5h1M263 355.5h1M263 362.5h1M264 331.5h1M264 343.5h1M264 354.5h1M264 355.5h1M264 358.5h1M265 330.5h1M265 333.5h1M265 346.5h1M265 351.5h1M265 352.5h1M265 356.5h1M265 358.5h1M265 362.5h1M266 348.5h1M266 350.5h1M266 351.5h1M266 353.5h1M266 354.5h1M266 356.5h1M266 357.5h1M266 358.5h1M266 359.5h1M266 363.5h1M267 321.5h1M267 350.5h1M267 353.5h1M267 366.5h1M268 306.5h1M268 336.5h1M268 347.5h1M268 349.5h1M268 351.5h1M268 358.5h1M268 360.5h1M268 361.5h1M268 365.5h1M269 335.5h1M269 352.5h1M269 353.5h1M269 360.5h1M270 324.5h1M270 327.5h1M270 328.5h1M270 330.5h1M270 343.5h1M270 346.5h1M270 348.5h1M270 351.5h1M270 355.5h1M270 357.5h1M270 358.5h1M270 359.5h1M271 310.5h1M271 347.5h1M271 348.5h1M271 352.5h1M271 353.5h1M271 356.5h1M271 357.5h1M272 312.5h1M272 318.5h1M272 344.5h1M272 351.5h1M272 353.5h1M272 358.5h1M272 359.5h1M273 299.5h1M273 306.5h1M273 324.5h1M273 331.5h1M273 333.5h1M273 356.5h1M274 308.5h1M274 339.5h1M274 342.5h1M274 345.5h1M274 347.5h1M274 348.5h1M274 349.5h1M274 354.5h1M274 355.5h1M275 280.5h1M275 335.5h1M275 340.5h1M275 345.5h1M275 348.5h1M275 356.5h1M275 359.5h1M276 291.5h1M276 323.5h1M276 326.5h1M276 327.5h1M276 342.5h1M276 350.5h1M276 352.5h1M276 353.5h1M276 354.5h1M276 358.5h1M276 363.5h1M277 307.5h1M277 319.5h1M277 321.5h1M277 346.5h1M277 349.5h1M277 351.5h1M277 352.5h1M277 356.5h1M277 357.5h1M277 359.5h1M277 361.5h1M278 341.5h1M278 344.5h1M278 345.5h1M278 346.5h1M278 350.5h1M278 351.5h1M279 276.5h1M279 295.5h1M279 316.5h1M279 322.5h1M279 324.5h1M279 325.5h1M279 328.5h1M279 333.5h1M279 339.5h1M279 341.5h1M279 358.5h1M279 361.5h1M280 282.5h1M280 288.5h1M280 289.5h1M280 291.5h1M280 305.5h1M280 314.5h1M280 319.5h1M280 333.5h1M280 334.5h1M280 346.5h1M280 347.5h1M280 349.5h1M280 356.5h1M280 359.5h1M280 362.5h1M281 293.5h1M281 308.5h1M281 323.5h1M281 326.5h1M281 334.5h1M281 337.5h1M281 346.5h1M281 347.5h1M281 349.5h1M281 357.5h1M281 360.5h1M281 361.5h1M281 363.5h1M282 280.5h1M282 293.5h1M282 306.5h1M282 309.5h1M282 312.5h1M282 318.5h1M282 319.5h1M282 320.5h1M282 337.5h1M282 340.5h1M282 342.5h1M282 343.5h1M282 345.5h1M282 346.5h1M282 347.5h1M282 357.5h1M282 358.5h1M282 360.5h1M282 362.5h1M283 276.5h1M283 277.5h1M283 283.5h1M283 286.5h1M283 287.5h1M283 294.5h1M283 303.5h1M283 312.5h1M283 313.5h1M283 314.5h1M283 316.5h1M283 324.5h1M283 331.5h1M283 338.5h1M283 347.5h1M283 361.5h1M283 364.5h1M284 292.5h1M284 293.5h1M284 295.5h1M284 300.5h1M284 302.5h1M284 306.5h1M284 308.5h1M284 313.5h1M284 315.5h1M284 321.5h1M284 322.5h1M284 326.5h1M284 332.5h1M284 339.5h1M284 340.5h1M284 342.5h1M284 343.5h1M284 346.5h1M284 354.5h1M285 276.5h1M285 278.5h1M285 282.5h1M285 285.5h1M285 286.5h1M285 287.5h1M285 288.5h1M285 292.5h1M285 295.5h1M285 298.5h1M285 306.5h1M285 309.5h1M285 310.5h1M285 313.5h1M285 314.5h1M285 315.5h1M285 319.5h1M285 332.5h1M285 336.5h1M285 339.5h1M285 343.5h1M285 347.5h1M285 362.5h1M285 364.5h1M286 280.5h1M286 284.5h1M286 285.5h1M286 288.5h1M286 292.5h1M286 294.5h1M286 296.5h1M286 299.5h1M286 302.5h1M286 305.5h1M286 306.5h1M286 309.5h1M286 311.5h1M286 315.5h1M286 318.5h1M286 319.5h1M286 324.5h1M286 325.5h1M286 326.5h1M286 327.5h1M286 328.5h1M286 337.5h1M286 339.5h1M286 342.5h1M286 345.5h1M287 278.5h1M287 283.5h1M287 285.5h1M287 289.5h1M287 291.5h1M287 292.5h1M287 295.5h1M287 297.5h1M287 298.5h1M287 306.5h1M287 318.5h1M287 325.5h1M287 326.5h1M287 327.5h1M287 332.5h1M287 333.5h1M287 334.5h1M287 335.5h1M287 338.5h1M287 342.5h1M287 343.5h1M287 344.5h1M287 346.5h1M287 350.5h1M287 357.5h1M287 358.5h1M288 279.5h1M288 281.5h1M288 282.5h1M288 284.5h1M288 290.5h1M288 304.5h1M288 313.5h1M288 323.5h1M288 326.5h1M288 327.5h1M288 329.5h1M288 335.5h1M288 336.5h1M288 337.5h1M288 338.5h1M288 339.5h1M288 342.5h1M288 344.5h1M288 345.5h1M288 348.5h1M288 350.5h1M288 351.5h1M288 358.5h1M288 359.5h1M289 276.5h1M289 286.5h1M289 287.5h1M289 330.5h1M289 334.5h1M289 335.5h1M289 338.5h1M289 339.5h1M289 343.5h1M289 346.5h1M289 348.5h1M289 349.5h1M289 357.5h1M290 275.5h1M290 276.5h1M290 277.5h1M290 278.5h1M290 280.5h1M290 342.5h1M290 346.5h1M290 355.5h1M290 361.5h1M291 275.5h1M291 279.5h1M291 338.5h1M291 340.5h1M291 346.5h1M291 347.5h1M291 350.5h1M292 277.5h1M292 278.5h1M292 279.5h1M292 283.5h1M292 336.5h1M292 344.5h1M292 345.5h1M292 349.5h1M292 350.5h1M292 362.5h1M292 366.5h1M293 278.5h1M293 342.5h1M293 345.5h1M293 346.5h1M293 350.5h1M293 356.5h1M294 275.5h1M294 343.5h1M294 344.5h1M294 347.5h1M294 358.5h1M294 360.5h1M295 340.5h1M295 343.5h1M295 346.5h1M295 347.5h1M295 350.5h1M295 355.5h1M296 338.5h1M296 348.5h1M297 275.5h1M297 348.5h1M297 349.5h1M297 351.5h1M298 276.5h1M298 277.5h1M298 342.5h1M298 344.5h1M298 345.5h1M298 346.5h1M298 347.5h1M298 348.5h1M298 349.5h1M298 350.5h1M298 352.5h1M298 354.5h1M298 360.5h1M298 361.5h1M299 281.5h1M299 343.5h1M299 346.5h1M299 347.5h1M299 350.5h1M299 354.5h1M300 276.5h1M300 277.5h1M300 280.5h1M300 332.5h1M300 340.5h1M300 344.5h1M300 345.5h1M300 346.5h1M300 347.5h1M300 352.5h1M301 279.5h1M301 281.5h1M301 284.5h1M301 289.5h1M301 332.5h1M301 338.5h1M301 341.5h1M301 344.5h1M301 345.5h1M301 350.5h1M301 351.5h1M302 277.5h1M302 281.5h1M302 282.5h1M302 288.5h1M302 332.5h1M302 336.5h1M302 337.5h1M302 341.5h1M302 344.5h1M303 275.5h1M303 276.5h1M303 278.5h1M303 280.5h1M303 281.5h1M303 283.5h1M303 288.5h1M303 296.5h1M303 302.5h1M303 303.5h1M303 316.5h1M303 324.5h1M303 328.5h1M303 329.5h1M303 332.5h1M303 333.5h1M303 334.5h1M303 336.5h1M303 337.5h1M303 340.5h1M303 349.5h1M303 353.5h1M303 368.5h1M304 275.5h1M304 278.5h1M304 280.5h1M304 283.5h1M304 285.5h1M304 287.5h1M304 291.5h1M304 300.5h1M304 313.5h1M304 321.5h1M304 327.5h1M304 332.5h1M304 333.5h1M304 336.5h1M304 342.5h1M304 349.5h1M304 357.5h1M305 276.5h1M305 282.5h1M305 285.5h1M305 288.5h1M305 291.5h1M305 292.5h1M305 294.5h1M305 296.5h1M305 298.5h1M305 299.5h1M305 303.5h1M305 310.5h1M305 315.5h1M305 316.5h1M305 317.5h1M305 319.5h1M305 324.5h1M305 325.5h1M305 326.5h1M305 327.5h1M305 328.5h1M305 330.5h1M305 334.5h1M305 335.5h1M305 336.5h1M305 341.5h1M305 343.5h1M305 351.5h1M306 276.5h1M306 278.5h1M306 282.5h1M306 284.5h1M306 288.5h1M306 290.5h1M306 291.5h1M306 292.5h1M306 301.5h1M306 302.5h1M306 308.5h1M306 314.5h1M306 315.5h1M306 319.5h1M306 322.5h1M306 328.5h1M306 329.5h1M306 331.5h1M306 341.5h1M306 350.5h1M307 275.5h1M307 277.5h1M307 285.5h1M307 288.5h1M307 289.5h1M307 290.5h1M307 291.5h1M307 301.5h1M307 304.5h1M307 305.5h1M307 306.5h1M307 308.5h1M307 316.5h1M307 317.5h1M307 318.5h1M307 320.5h1M307 322.5h1M307 323.5h1M307 324.5h1M307 327.5h1M307 329.5h1M307 332.5h1M308 276.5h1M308 284.5h1M308 288.5h1M308 295.5h1M308 296.5h1M308 300.5h1M308 301.5h1M308 305.5h1M308 307.5h1M308 309.5h1M308 317.5h1M308 322.5h1M308 326.5h1M308 327.5h1M308 337.5h1M308 347.5h1M308 349.5h1M309 290.5h1M309 292.5h1M309 293.5h1M309 294.5h1M309 296.5h1M309 306.5h1M309 316.5h1M309 317.5h1M309 319.5h1M309 324.5h1M309 326.5h1M309 328.5h1M309 340.5h1M310 296.5h1M310 307.5h1M310 308.5h1M310 309.5h1M310 323.5h1M310 328.5h1M310 334.5h1M311 283.5h1M311 290.5h1M311 304.5h1M311 307.5h1M311 308.5h1M312 302.5h1M312 321.5h1M312 326.5h1M313 286.5h1M313 297.5h1M314 300.5h1M314 303.5h1M314 306.5h1M314 314.5h1M315 284.5h1M318 307.5h1M319 292.5h1" stroke="#8a8a8a" stroke-width="1"/>
<path d="M379 93.5h1M379 102.5h1M380 101.5h1M381 96.5h1M381 99.5h1M381 101.5h1M382 87.5h1M382 96.5h1M382 98.5h1M382 99.5h1M382 101.5h1M382 102.5h1M382 105.5h1M383 93.5h1M383 95.5h1M383 97.5h1M383 98.5h1M383 103.5h1M383 104.5h1M383 107.5h1M384 97.5h1M384 98.5h1M384 99.5h1M384 100.5h1M384 102.5h1M384 103.5h1M384 104.5h1M384 108.5h1M385 94.5h1M385 95.5h1M385 96.5h1M385 98.5h1M385 99.5h1M385 100.5h1M385 101.5h1M385 102.5h1M385 103.5h1M385 105.5h1M386 92.5h1M386 94.5h1M386 96.5h1M386 99.5h1M386 100.5h1M386 101.5h1M386 102.5h1M386 103.5h1M386 104.5h1M386 105.5h1M386 106.5h1M386 107.5h1M387 77.5h1M387 88.5h1M387 93.5h1M387 94.5h1M387 95.5h1M387 96.5h1M387 97.5h1M387 98.5h1M387 99.5h1M387 100.5h1M387 101.5h1M387 102.5h1M387 103.5h1M387 104.5h1M387 105.5h1M387 106.5h1M387 107.5h1M387 108.5h1M387 111.5h1M388 89.5h1M388 90.5h1M388 94.5h1M388 95.5h1M388 96.5h1M388 97.5h1M388 98.5h1M388 99.5h1M388 100.5h1M388 101.5h1M388 102.5h1M388 103.5h1M388 104.5h1M388 105.5h1M388 106.5h1M388 107.5h1M389 92.5h1M389 94.5h1M389 95.5h1M389 96.5h1M389 97.5h1M389 98.5h1M389 99.5h1M389 100.5h1M389 101.5h1M389 102.5h1M389 103.5h1M389 104.5h1M389 105.5h1M389 106.5h1M390 73.5h1M390 87.5h1M390 91.5h1M390 92.5h1M390 94.5h1M390 95.5h1M390 96.5h1M390 97.5h1M390 98.5h1M390 99.5h1M390 100.5h1M390 101.5h1M390 102.5h1M390 103.5h1M390 104.5h1M390 105.5h1M390 106.5h1M390 108.5h1M390 109.5h1M391 85.5h1M391 91.5h1M391 93.5h1M391 94.5h1M391 95.5h1M391 96.5h1M391 97.5h1M391 98.5h1M391 99.5h1M391 100.5h1M391 101.5h1M391 102.5h1M391 103.5h1M391 104.5h1M391 105.5h1M391 106.5h1M391 107.5h1M391 108.5h1M391 109.5h1M391 110.5h1M391 112.5h1M392 85.5h1M392 86.5h1M392 93.5h1M392 94.5h1M392 95.5h1M392 96.5h1M392 97.5h1M392 98.5h1M392 99.5h1M392 100.5h1M392 101.5h1M392 102.5h1M392 103.5h1M392 104.5h1M392 105.5h1M392 106.5h1M392 107.5h1M392 108.5h1M392 109.5h1M392 110.5h1M393 70.5h1M393 87.5h1M393 90.5h1M393 91.5h1M393 92.5h1M393 93.5h1M393 94.5h1M393 95.5h1M393 96.5h1M393 97.5h1M393 98.5h1M393 99.5h1M393 100.5h1M393 101.5h1M393 102.5h1M393 103.5h1M393 104.5h1M393 105.5h1M393 106.5h1M393 107.5h1M393 108.5h1M393 109.5h1M394 74.5h1M394 87.5h1M394 91.5h1M394 92.5h1M394 93.5h1M394 94.5h1M394 95.5h1M394 96.5h1M394 97.5h1M394 98.5h1M394 99.5h1M394 100.5h1M394 101.5h1M394 102.5h1M394 103.5h1M394 104.5h1M394 105.5h1M394 106.5h1M394 107.5h1M394 108.5h1M394 109.5h1M394 110.5h1M395 78.5h1M395 80.5h1M395 88.5h1M395 89.5h1M395 90.5h1M395 91.5h1M395 92.5h1M395 93.5h1M395 94.5h1M395 95.5h1M395 96.5h1M395 97.5h1M395 98.5h1M395 99.5h1M395 100.5h1M395 101.5h1M395 102.5h1M395 103.5h1M395 104.5h1M395 105.5h1M395 106.5h1M395 107.5h1M395 108.5h1M395 109.5h1M395 110.5h1M395 112.5h1M396 78.5h1M396 88.5h1M396 89.5h1M396 91.5h1M396 92.5h1M396 93.5h1M396 94.5h1M396 95.5h1M396 96.5h1M396 97.5h1M396 98.5h1M396 99.5h1M396 100.5h1M396 101.5h1M396 102.5h1M396 103.5h1M396 104.5h1M396 105.5h1M396 106.5h1M396 107.5h1M396 108.5h1M396 110.5h1M397 82.5h1M397 85.5h1M397 87.5h1M397 89.5h1M397 90.5h1M397 91.5h1M397 92.5h1M397 93.5h1M397 94.5h1M397 95.5h1M397 96.5h1M397 97.5h1M397 98.5h1M397 99.5h1M397 100.5h1M397 101.5h1M397 102.5h1M397 103.5h1M397 104.5h1M397 105.5h1M397 106.5h1M397 107.5h1M397 108.5h1M397 109.5h1M397 110.5h1M397 111.5h1M398 69.5h1M398 73.5h1M398 76.5h1M398 83.5h1M398 87.5h1M398 88.5h1M398 91.5h1M398 92.5h1M398 93.5h1M398 94.5h1M398 95.5h1M398 96.5h1M398 97.5h1M398 98.5h1M398 99.5h1M398 100.5h1M398 101.5h1M398 102.5h1M398 103.5h1M398 104.5h1M398 105.5h1M398 106.5h1M398 107.5h1M398 108.5h1M398 109.5h1M398 110.5h1M399 89.5h1M399 90.5h1M399 92.5h1M399 93.5h1M399 94.5h1M399 95.5h1M399 96.5h1M399 97.5h1M399 98.5h1M399 99.5h1M399 100.5h1M399 101.5h1M399 102.5h1M399 103.5h1M399 104.5h1M399 105.5h1M399 106.5h1M399 107.5h1M399 108.5h1M399 109.5h1M399 110.5h1M399 111.5h1M400 79.5h1M400 83.5h1M400 84.5h1M400 87.5h1M400 92.5h1M400 93.5h1M400 94.5h1M400 95.5h1M400 96.5h1M400 97.5h1M400 98.5h1M400 99.5h1M400 100.5h1M400 101.5h1M400 102.5h1M400 103.5h1M400 104.5h1M400 105.5h1M400 106.5h1M400 107.5h1M400 108.5h1M400 109.5h1M400 110.5h1M400 113.5h1M401 89.5h1M401 90.5h1M401 91.5h1M401 92.5h1M401 93.5h1M401 94.5h1M401 95.5h1M401 96.5h1M401 97.5h1M401 98.5h1M401 99.5h1M401 100.5h1M401 101.5h1M401 102.5h1M401 103.5h1M401 104.5h1M401 105.5h1M401 106.5h1M401 107.5h1M401 108.5h1M401 109.5h1M401 110.5h1M402 80.5h1M402 87.5h1M402 89.5h1M402 90.5h1M402 91.5h1M402 92.5h1M402 93.5h1M402 94.5h1M402 95.5h1M402 96.5h1M402 97.5h1M402 98.5h1M402 99.5h1M402 100.5h1M402 101.5h1M402 102.5h1M402 103.5h1M402 104.5h1M402 105.5h1M402 106.5h1M402 107.5h1M402 108.5h1M402 109.5h1M402 110.5h1M403 87.5h1M403 90.5h1M403 92.5h1M403 93.5h1M403 94.5h1M403 95.5h1M403 96.5h1M403 97.5h1M403 98.5h1M403 99.5h1M403 100.5h1M403 101.5h1M403 102.5h1M403 103.5h1M403 104.5h1M403 105.5h1M403 106.5h1M403 107.5h1M403 108.5h1M403 109.5h1M404 92.5h1M404 94.5h1M404 95.5h1M404 96.5h1M404 97.5h1M404 98.5h1M404 99.5h1M404 100.5h1M404 101.5h1M404 102.5h1M404 103.5h1M404 104.5h1M404 105.5h1M404 106.5h1M404 107.5h1M404 108.5h1M405 89.5h1M405 90.5h1M405 91.5h1M405 92.5h1M405 93.5h1M405 94.5h1M405 95.5h1M405 96.5h1M405 97.5h1M405 98.5h1M405 99.5h1M405 100.5h1M405 101.5h1M405 102.5h1M405 103.5h1M405 104.5h1M405 105.5h1M405 106.5h1M405 107.5h1M405 108.5h1M405 109.5h1M406 77.5h1M406 90.5h1M406 91.5h1M406 93.5h1M406 94.5h1M406 95.5h1M406 96.5h1M406 97.5h1M406 98.5h1M406 99.5h1M406 100.5h1M406 101.5h1M406 102.5h1M406 103.5h1M406 104.5h1M406 105.5h1M406 106.5h1M406 107.5h1M406 108.5h1M406 109.5h1M406 110.5h1M407 92.5h1M407 93.5h1M407 94.5h1M407 95.5h1M407 97.5h1M407 98.5h1M407 99.5h1M407 100.5h1M407 101.5h1M407 102.5h1M407 103.5h1M407 104.5h1M407 105.5h1M407 106.5h1M407 108.5h1M408 78.5h1M408 87.5h1M408 89.5h1M408 92.5h1M408 95.5h1M408 97.5h1M408 98.5h1M408 99.5h1M408 100.5h1M408 101.5h1M408 102.5h1M408 103.5h1M408 104.5h1M408 105.5h1M408 106.5h1M408 107.5h1M408 108.5h1M409 92.5h1M409 94.5h1M409 95.5h1M409 96.5h1M409 97.5h1M409 98.5h1M409 99.5h1M409 100.5h1M409 101.5h1M409 102.5h1M409 103.5h1M409 104.5h1M409 105.5h1M409 106.5h1M409 108.5h1M410 82.5h1M410 94.5h1M410 95.5h1M410 96.5h1M410 97.5h1M410 98.5h1M410 99.5h1M410 100.5h1M410 101.5h1M410 102.5h1M410 103.5h1M410 105.5h1M410 107.5h1M410 110.5h1M410 111.5h1M411 94.5h1M411 98.5h1M411 100.5h1M411 102.5h1M411 103.5h1M411 104.5h1M411 105.5h1M411 106.5h1M411 107.5h1M411 108.5h1M412 97.5h1M412 100.5h1M412 103.5h1M412 104.5h1M412 105.5h1M412 106.5h1M413 97.5h1M413 101.5h1M413 102.5h1M413 104.5h1M413 108.5h1M414 99.5h1M415 95.5h1M416 81.5h1M416 102.5h1" stroke="#000" stroke-width="1"/>
<path d="M375 88.5h1M377 103.5h1M378 70.5h1M379 94.5h1M379 100.5h1M380 92.5h1M380 93.5h1M380 98.5h1M380 99.5h1M381 83.5h1M381 87.5h1M381 102.5h1M381 104.5h1M382 86.5h1M382 93.5h1M382 95.5h1M382 104.5h1M382 106.5h1M383 68.5h1M383 80.5h1M383 92.5h1M383 94.5h1M383 102.5h1M383 108.5h1M384 90.5h1M384 96.5h1M384 101.5h1M384 105.5h1M385 97.5h1M385 104.5h1M386 90.5h1M386 98.5h1M386 113.5h1M387 71.5h1M387 87.5h1M387 89.5h1M387 90.5h1M387 91.5h1M387 109.5h1M387 110.5h1M388 77.5h1M388 82.5h1M388 87.5h1M388 92.5h1M388 93.5h1M388 109.5h1M389 73.5h1M389 88.5h1M389 89.5h1M389 90.5h1M389 93.5h1M389 107.5h1M390 74.5h1M390 75.5h1M390 82.5h1M390 83.5h1M390 89.5h1M390 90.5h1M390 93.5h1M390 107.5h1M390 110.5h1M390 114.5h1M391 80.5h1M391 90.5h1M391 92.5h1M391 113.5h1M392 57.5h1M392 83.5h1M392 88.5h1M392 91.5h1M392 92.5h1M392 111.5h1M393 84.5h1M393 110.5h1M394 86.5h1M394 88.5h1M394 90.5h1M394 111.5h1M394 112.5h1M394 113.5h1M395 75.5h1M395 76.5h1M395 83.5h1M395 84.5h1M395 111.5h1M396 73.5h1M396 75.5h1M396 80.5h1M396 83.5h1M396 85.5h1M396 90.5h1M396 112.5h1M396 115.5h1M397 71.5h1M397 83.5h1M397 88.5h1M397 112.5h1M398 66.5h1M398 74.5h1M398 77.5h1M398 84.5h1M398 85.5h1M398 89.5h1M398 111.5h1M399 79.5h1M399 82.5h1M399 87.5h1M399 91.5h1M400 85.5h1M400 88.5h1M400 89.5h1M400 91.5h1M400 111.5h1M401 66.5h1M401 67.5h1M401 77.5h1M401 111.5h1M401 112.5h1M402 76.5h1M402 77.5h1M402 82.5h1M402 113.5h1M403 72.5h1M403 74.5h1M403 83.5h1M403 89.5h1M403 91.5h1M403 110.5h1M403 112.5h1M404 74.5h1M404 83.5h1M404 84.5h1M404 87.5h1M404 88.5h1M404 89.5h1M404 93.5h1M404 109.5h1M404 110.5h1M405 88.5h1M405 110.5h1M406 79.5h1M406 88.5h1M406 92.5h1M407 84.5h1M407 85.5h1M407 91.5h1M407 107.5h1M407 109.5h1M407 110.5h1M408 80.5h1M408 82.5h1M408 84.5h1M408 86.5h1M408 90.5h1M408 110.5h1M408 113.5h1M409 79.5h1M409 81.5h1M409 87.5h1M409 93.5h1M409 107.5h1M409 114.5h1M410 75.5h1M410 86.5h1M410 104.5h1M410 106.5h1M411 75.5h1M411 88.5h1M411 93.5h1M411 95.5h1M412 92.5h1M412 93.5h1M412 96.5h1M412 98.5h1M412 99.5h1M412 101.5h1M412 102.5h1M412 108.5h1M413 98.5h1M413 100.5h1M413 107.5h1M413 112.5h1M414 97.5h1M414 98.5h1M414 101.5h1M414 102.5h1M414 103.5h1M415 82.5h1M415 99.5h1M415 100.5h1M415 101.5h1M415 105.5h1M416 79.5h1M416 96.5h1M418 99.5h1M418 106.5h1" stroke="#444" stroke-width="1"/>
<path d="M362 66.5h1M370 71.5h1M370 90.5h1M371 64.5h1M371 71.5h1M372 92.5h1M372 103.5h1M373 82.5h1M374 76.5h1M374 96.5h1M375 98.5h1M376 88.5h1M376 91.5h1M376 100.5h1M376 104.5h1M376 107.5h1M377 81.5h1M377 93.5h1M377 95.5h1M377 96.5h1M377 104.5h1M378 72.5h1M378 89.5h1M378 92.5h1M378 93.5h1M378 96.5h1M378 102.5h1M378 104.5h1M378 106.5h1M378 110.5h1M378 125.5h1M379 65.5h1M379 74.5h1M379 81.5h1M379 96.5h1M379 98.5h1M379 99.5h1M379 101.5h1M379 104.5h1M379 105.5h1M379 121.5h1M380 77.5h1M380 81.5h1M380 86.5h1M380 94.5h1M380 95.5h1M380 96.5h1M380 100.5h1M380 102.5h1M380 103.5h1M380 104.5h1M380 105.5h1M380 106.5h1M380 107.5h1M381 85.5h1M381 90.5h1M381 92.5h1M381 95.5h1M381 97.5h1M381 98.5h1M381 100.5h1M381 103.5h1M381 105.5h1M381 108.5h1M381 110.5h1M382 71.5h1M382 74.5h1M382 76.5h1M382 89.5h1M382 90.5h1M382 91.5h1M382 92.5h1M382 94.5h1M382 97.5h1M382 100.5h1M382 103.5h1M382 107.5h1M382 108.5h1M382 109.5h1M382 124.5h1M383 60.5h1M383 76.5h1M383 86.5h1M383 87.5h1M383 88.5h1M383 89.5h1M383 90.5h1M383 91.5h1M383 100.5h1M383 101.5h1M383 105.5h1M383 109.5h1M383 110.5h1M383 113.5h1M384 56.5h1M384 70.5h1M384 71.5h1M384 77.5h1M384 79.5h1M384 87.5h1M384 91.5h1M384 92.5h1M384 93.5h1M384 95.5h1M384 106.5h1M384 112.5h1M385 70.5h1M385 71.5h1M385 74.5h1M385 82.5h1M385 83.5h1M385 86.5h1M385 89.5h1M385 92.5h1M385 106.5h1M385 107.5h1M385 112.5h1M385 113.5h1M385 117.5h1M386 67.5h1M386 74.5h1M386 80.5h1M386 81.5h1M386 86.5h1M386 87.5h1M386 91.5h1M386 93.5h1M386 95.5h1M386 97.5h1M386 108.5h1M386 112.5h1M386 114.5h1M387 79.5h1M387 84.5h1M387 92.5h1M387 114.5h1M387 117.5h1M388 60.5h1M388 63.5h1M388 64.5h1M388 68.5h1M388 70.5h1M388 80.5h1M388 81.5h1M388 84.5h1M388 85.5h1M388 111.5h1M388 115.5h1M389 71.5h1M389 75.5h1M389 76.5h1M389 80.5h1M389 85.5h1M389 91.5h1M389 108.5h1M389 109.5h1M389 110.5h1M389 111.5h1M389 112.5h1M390 65.5h1M390 67.5h1M390 68.5h1M390 76.5h1M390 78.5h1M390 79.5h1M390 80.5h1M390 81.5h1M390 85.5h1M390 112.5h1M390 122.5h1M390 125.5h1M391 61.5h1M391 72.5h1M391 73.5h1M391 76.5h1M391 77.5h1M391 78.5h1M391 84.5h1M391 86.5h1M391 87.5h1M391 89.5h1M391 111.5h1M391 114.5h1M391 133.5h1M392 70.5h1M392 72.5h1M392 75.5h1M392 81.5h1M392 84.5h1M392 87.5h1M392 89.5h1M392 90.5h1M392 112.5h1M392 113.5h1M392 121.5h1M392 133.5h1M393 61.5h1M393 73.5h1M393 74.5h1M393 77.5h1M393 79.5h1M393 80.5h1M393 81.5h1M393 83.5h1M393 85.5h1M393 88.5h1M393 112.5h1M393 113.5h1M394 63.5h1M394 65.5h1M394 72.5h1M394 77.5h1M394 78.5h1M394 79.5h1M394 82.5h1M394 83.5h1M394 84.5h1M394 85.5h1M394 89.5h1M394 114.5h1M395 67.5h1M395 70.5h1M395 72.5h1M395 73.5h1M395 77.5h1M395 79.5h1M395 86.5h1M395 87.5h1M395 113.5h1M396 68.5h1M396 76.5h1M396 81.5h1M396 84.5h1M396 109.5h1M396 111.5h1M396 114.5h1M396 117.5h1M397 52.5h1M397 64.5h1M397 68.5h1M397 72.5h1M397 73.5h1M397 74.5h1M397 75.5h1M397 79.5h1M397 86.5h1M397 113.5h1M397 116.5h1M398 54.5h1M398 62.5h1M398 65.5h1M398 67.5h1M398 72.5h1M398 79.5h1M398 80.5h1M398 86.5h1M398 113.5h1M399 66.5h1M399 70.5h1M399 73.5h1M399 78.5h1M399 80.5h1M399 81.5h1M399 83.5h1M399 85.5h1M399 88.5h1M399 112.5h1M400 56.5h1M400 57.5h1M400 63.5h1M400 67.5h1M400 69.5h1M400 70.5h1M400 80.5h1M400 82.5h1M400 86.5h1M400 90.5h1M400 115.5h1M400 116.5h1M401 63.5h1M401 71.5h1M401 74.5h1M401 78.5h1M401 81.5h1M401 83.5h1M401 84.5h1M401 86.5h1M401 88.5h1M401 113.5h1M401 115.5h1M401 116.5h1M401 123.5h1M402 56.5h1M402 64.5h1M402 67.5h1M402 71.5h1M402 74.5h1M402 79.5h1M402 83.5h1M402 88.5h1M402 111.5h1M402 112.5h1M402 114.5h1M402 122.5h1M402 123.5h1M403 53.5h1M403 65.5h1M403 69.5h1M403 70.5h1M403 75.5h1M403 78.5h1M403 79.5h1M403 82.5h1M403 86.5h1M403 111.5h1M403 113.5h1M403 116.5h1M404 66.5h1M404 72.5h1M404 75.5h1M404 78.5h1M404 80.5h1M404 90.5h1M404 91.5h1M404 111.5h1M404 112.5h1M404 113.5h1M404 114.5h1M404 115.5h1M405 64.5h1M405 71.5h1M405 72.5h1M405 74.5h1M405 75.5h1M405 77.5h1M405 78.5h1M405 80.5h1M405 81.5h1M405 82.5h1M405 83.5h1M405 84.5h1M405 111.5h1M405 114.5h1M405 119.5h1M405 126.5h1M406 69.5h1M406 76.5h1M406 78.5h1M406 81.5h1M406 83.5h1M406 84.5h1M406 85.5h1M406 111.5h1M406 121.5h1M407 57.5h1M407 64.5h1M407 71.5h1M407 72.5h1M407 75.5h1M407 78.5h1M407 80.5h1M407 81.5h1M407 83.5h1M407 87.5h1M407 88.5h1M407 89.5h1M407 96.5h1M407 111.5h1M408 60.5h1M408 65.5h1M408 69.5h1M408 71.5h1M408 79.5h1M408 85.5h1M408 94.5h1M408 111.5h1M409 39.5h1M409 72.5h1M409 78.5h1M409 80.5h1M409 83.5h1M409 85.5h1M409 88.5h1M409 89.5h1M409 90.5h1M409 110.5h1M409 112.5h1M410 56.5h1M410 68.5h1M410 70.5h1M410 80.5h1M410 90.5h1M410 93.5h1M410 108.5h1M410 109.5h1M410 115.5h1M410 118.5h1M411 71.5h1M411 72.5h1M411 76.5h1M411 79.5h1M411 81.5h1M411 82.5h1M411 83.5h1M411 89.5h1M411 91.5h1M411 92.5h1M411 97.5h1M411 99.5h1M411 101.5h1M412 63.5h1M412 73.5h1M412 80.5h1M412 84.5h1M412 88.5h1M412 90.5h1M412 94.5h1M412 95.5h1M412 107.5h1M412 109.5h1M412 112.5h1M412 113.5h1M413 51.5h1M413 60.5h1M413 78.5h1M413 89.5h1M413 94.5h1M413 103.5h1M413 105.5h1M413 106.5h1M413 110.5h1M413 111.5h1M413 113.5h1M413 114.5h1M414 67.5h1M414 79.5h1M414 92.5h1M414 93.5h1M414 94.5h1M414 96.5h1M414 104.5h1M414 106.5h1M414 107.5h1M414 109.5h1M414 111.5h1M415 74.5h1M415 77.5h1M415 79.5h1M415 88.5h1M415 91.5h1M415 93.5h1M415 94.5h1M415 96.5h1M415 97.5h1M415 98.5h1M415 103.5h1M415 106.5h1M415 108.5h1M415 111.5h1M416 48.5h1M416 72.5h1M416 74.5h1M416 86.5h1M416 88.5h1M416 93.5h1M416 95.5h1M416 97.5h1M416 98.5h1M416 99.5h1M416 100.5h1M416 108.5h1M416 110.5h1M416 112.5h1M416 114.5h1M417 75.5h1M417 84.5h1M417 98.5h1M417 103.5h1M417 105.5h1M417 110.5h1M418 78.5h1M418 85.5h1M418 97.5h1M418 100.5h1M418 101.5h1M418 102.5h1M418 114.5h1M419 79.5h1M419 92.5h1M419 97.5h1M419 106.5h1M419 109.5h1M419 110.5h1M420 79.5h1M420 82.5h1M420 96.5h1M420 105.5h1M421 106.5h1M422 85.5h1M422 100.5h1M422 122.5h1M423 43.5h1M423 76.5h1M423 96.5h1M423 101.5h1M424 84.5h1M424 89.5h1M428 81.5h1M428 103.5h1M432 101.5h1" stroke="#8a8a8a" stroke-width="1"/>
<path d="M371 196.5h1M376 199.5h1M383 221.5h1M384 189.5h1M384 216.5h1M384 217.5h1M384 220.5h1M385 214.5h1M385 215.5h1M385 220.5h1M386 213.5h1M386 215.5h1M386 216.5h1M386 217.5h1M386 218.5h1M386 219.5h1M386 220.5h1M386 222.5h1M387 214.5h1M387 215.5h1M387 216.5h1M387 217.5h1M387 218.5h1M387 220.5h1M388 211.5h1M388 213.5h1M388 214.5h1M388 215.5h1M388 216.5h1M388 217.5h1M388 218.5h1M388 219.5h1M388 220.5h1M388 223.5h1M389 212.5h1M389 213.5h1M389 214.5h1M389 215.5h1M389 216.5h1M389 217.5h1M389 218.5h1M389 219.5h1M389 220.5h1M389 221.5h1M390 212.5h1M390 213.5h1M390 214.5h1M390 215.5h1M390 216.5h1M390 217.5h1M390 218.5h1M390 219.5h1M390 220.5h1M390 221.5h1M391 210.5h1M391 212.5h1M391 213.5h1M391 214.5h1M391 215.5h1M391 216.5h1M391 217.5h1M391 218.5h1M391 219.5h1M391 220.5h1M391 221.5h1M391 222.5h1M392 210.5h1M392 211.5h1M392 212.5h1M392 213.5h1M392 214.5h1M392 215.5h1M392 216.5h1M392 217.5h1M392 218.5h1M392 219.5h1M392 220.5h1M392 221.5h1M392 222.5h1M393 209.5h1M393 211.5h1M393 212.5h1M393 213.5h1M393 214.5h1M393 215.5h1M393 216.5h1M393 217.5h1M393 218.5h1M393 219.5h1M393 220.5h1M393 221.5h1M393 222.5h1M393 224.5h1M393 228.5h1M394 210.5h1M394 211.5h1M394 212.5h1M394 213.5h1M394 214.5h1M394 215.5h1M394 216.5h1M394 217.5h1M394 218.5h1M394 219.5h1M394 220.5h1M394 221.5h1M394 222.5h1M394 223.5h1M394 224.5h1M395 208.5h1M395 209.5h1M395 210.5h1M395 211.5h1M395 212.5h1M395 213.5h1M395 214.5h1M395 215.5h1M395 216.5h1M395 217.5h1M395 218.5h1M395 219.5h1M395 220.5h1M395 221.5h1M395 222.5h1M395 223.5h1M395 224.5h1M396 209.5h1M396 210.5h1M396 211.5h1M396 212.5h1M396 213.5h1M396 214.5h1M396 215.5h1M396 216.5h1M396 217.5h1M396 218.5h1M396 219.5h1M396 220.5h1M396 221.5h1M396 222.5h1M396 223.5h1M397 207.5h1M397 209.5h1M397 210.5h1M397 211.5h1M397 212.5h1M397 213.5h1M397 214.5h1M397 215.5h1M397 216.5h1M397 217.5h1M397 218.5h1M397 219.5h1M397 220.5h1M397 221.5h1M397 222.5h1M397 224.5h1M397 226.5h1M398 209.5h1M398 210.5h1M398 211.5h1M398 212.5h1M398 213.5h1M398 214.5h1M398 215.5h1M398 216.5h1M398 217.5h1M398 218.5h1M398 219.5h1M398 220.5h1M398 221.5h1M398 222.5h1M398 223.5h1M398 224.5h1M399 209.5h1M399 210.5h1M399 211.5h1M399 212.5h1M399 213.5h1M399 214.5h1M399 215.5h1M399 216.5h1M399 217.5h1M399 218.5h1M399 219.5h1M399 220.5h1M399 221.5h1M399 222.5h1M399 223.5h1M399 224.5h1M400 206.5h1M400 209.5h1M400 210.5h1M400 211.5h1M400 212.5h1M400 213.5h1M400 214.5h1M400 215.5h1M400 216.5h1M400 217.5h1M400 218.5h1M400 219.5h1M400 220.5h1M400 221.5h1M400 222.5h1M400 223.5h1M400 224.5h1M401 209.5h1M401 210.5h1M401 211.5h1M401 212.5h1M401 213.5h1M401 214.5h1M401 215.5h1M401 216.5h1M401 217.5h1M401 218.5h1M401 219.5h1M401 220.5h1M401 221.5h1M401 222.5h1M401 223.5h1M402 210.5h1M402 211.5h1M402 212.5h1M402 213.5h1M402 214.5h1M402 215.5h1M402 216.5h1M402 217.5h1M402 218.5h1M402 219.5h1M402 220.5h1M402 221.5h1M402 222.5h1M402 223.5h1M403 209.5h1M403 210.5h1M403 211.5h1M403 212.5h1M403 213.5h1M403 214.5h1M403 215.5h1M403 216.5h1M403 217.5h1M403 218.5h1M403 219.5h1M403 220.5h1M403 221.5h1M403 222.5h1M403 223.5h1M404 210.5h1M404 211.5h1M404 212.5h1M404 213.5h1M404 214.5h1M404 215.5h1M404 216.5h1M404 217.5h1M404 218.5h1M404 219.5h1M404 220.5h1M404 221.5h1M404 222.5h1M404 223.5h1M405 208.5h1M405 209.5h1M405 210.5h1M405 211.5h1M405 212.5h1M405 213.5h1M405 214.5h1M405 215.5h1M405 216.5h1M405 217.5h1M405 218.5h1M405 219.5h1M405 220.5h1M405 221.5h1M405 222.5h1M405 225.5h1M406 202.5h1M406 211.5h1M406 212.5h1M406 213.5h1M406 214.5h1M406 215.5h1M406 216.5h1M406 217.5h1M406 218.5h1M406 219.5h1M406 220.5h1M406 221.5h1M406 223.5h1M407 208.5h1M407 211.5h1M407 212.5h1M407 213.5h1M407 214.5h1M407 215.5h1M407 216.5h1M407 217.5h1M407 218.5h1M407 220.5h1M407 221.5h1M408 207.5h1M408 209.5h1M408 211.5h1M408 212.5h1M408 213.5h1M408 214.5h1M408 215.5h1M408 216.5h1M408 217.5h1M408 218.5h1M408 219.5h1M408 221.5h1M408 222.5h1M409 210.5h1M409 212.5h1M409 213.5h1M409 214.5h1M409 215.5h1M409 216.5h1M409 217.5h1M409 218.5h1M409 219.5h1M409 221.5h1M410 213.5h1M410 214.5h1M410 215.5h1M410 216.5h1M410 218.5h1M410 219.5h1M411 210.5h1M411 211.5h1M411 216.5h1M411 217.5h1M411 220.5h1M412 214.5h1" stroke="#000" stroke-width="1"/>
<path d="M368 196.5h1M368 197.5h1M368 201.5h1M369 203.5h1M370 207.5h1M372 193.5h1M372 199.5h1M374 194.5h1M375 203.5h1M376 194.5h1M376 205.5h1M377 191.5h1M377 192.5h1M377 201.5h1M378 190.5h1M378 206.5h1M380 219.5h1M381 214.5h1M381 217.5h1M383 196.5h1M383 214.5h1M383 217.5h1M384 213.5h1M384 214.5h1M384 215.5h1M385 211.5h1M385 216.5h1M385 217.5h1M385 218.5h1M385 219.5h1M385 221.5h1M386 211.5h1M386 214.5h1M386 223.5h1M387 189.5h1M387 209.5h1M387 210.5h1M387 211.5h1M387 213.5h1M387 227.5h1M388 207.5h1M388 210.5h1M388 212.5h1M388 221.5h1M389 209.5h1M389 210.5h1M389 222.5h1M390 209.5h1M391 203.5h1M391 207.5h1M391 208.5h1M391 209.5h1M391 211.5h1M391 223.5h1M391 225.5h1M392 223.5h1M392 225.5h1M392 226.5h1M393 202.5h1M393 210.5h1M393 223.5h1M394 200.5h1M394 225.5h1M396 192.5h1M396 207.5h1M396 224.5h1M398 206.5h1M398 207.5h1M398 208.5h1M399 205.5h1M399 206.5h1M399 207.5h1M401 187.5h1M401 205.5h1M401 208.5h1M401 224.5h1M401 225.5h1M402 196.5h1M402 209.5h1M402 224.5h1M402 225.5h1M403 207.5h1M404 192.5h1M404 197.5h1M405 201.5h1M405 223.5h1M406 181.5h1M406 208.5h1M406 210.5h1M407 219.5h1M407 222.5h1M408 220.5h1M409 206.5h1M409 211.5h1M409 222.5h1M410 201.5h1M410 209.5h1M410 210.5h1M410 212.5h1M411 180.5h1M411 214.5h1M411 215.5h1M412 215.5h1M413 183.5h1M413 211.5h1M413 215.5h1M414 209.5h1M415 209.5h1" stroke="#444" stroke-width="1"/>
<path d="M361 195.5h1M361 198.5h1M363 205.5h1M364 190.5h1M364 210.5h1M365 186.5h1M365 194.5h1M365 214.5h1M366 192.5h1M367 189.5h1M367 193.5h1M367 194.5h1M367 198.5h1M367 200.5h1M367 204.5h1M367 208.5h1M368 192.5h1M368 203.5h1M368 207.5h1M369 188.5h1M369 195.5h1M369 196.5h1M369 197.5h1M369 198.5h1M369 201.5h1M369 206.5h1M370 178.5h1M370 183.5h1M370 190.5h1M370 191.5h1M370 196.5h1M370 198.5h1M370 201.5h1M370 211.5h1M371 187.5h1M371 193.5h1M371 197.5h1M371 200.5h1M371 203.5h1M371 205.5h1M371 208.5h1M372 190.5h1M372 191.5h1M372 195.5h1M372 196.5h1M372 200.5h1M372 201.5h1M372 208.5h1M373 188.5h1M373 192.5h1M373 193.5h1M373 195.5h1M373 197.5h1M373 199.5h1M373 201.5h1M373 202.5h1M373 203.5h1M373 205.5h1M373 225.5h1M374 185.5h1M374 186.5h1M374 192.5h1M374 195.5h1M374 201.5h1M375 187.5h1M375 190.5h1M375 192.5h1M375 194.5h1M375 204.5h1M375 209.5h1M375 234.5h1M376 196.5h1M376 198.5h1M376 201.5h1M376 202.5h1M376 203.5h1M376 204.5h1M376 214.5h1M376 220.5h1M377 190.5h1M377 193.5h1M377 194.5h1M377 207.5h1M377 218.5h1M378 188.5h1M378 196.5h1M378 197.5h1M378 200.5h1M378 201.5h1M378 204.5h1M378 209.5h1M378 221.5h1M379 192.5h1M379 195.5h1M379 196.5h1M379 201.5h1M379 206.5h1M379 207.5h1M380 188.5h1M380 193.5h1M380 196.5h1M380 198.5h1M380 213.5h1M380 216.5h1M380 217.5h1M380 218.5h1M380 221.5h1M381 182.5h1M381 190.5h1M381 191.5h1M381 200.5h1M381 205.5h1M381 216.5h1M381 221.5h1M381 222.5h1M382 208.5h1M382 213.5h1M382 220.5h1M382 222.5h1M382 225.5h1M383 189.5h1M383 199.5h1M383 205.5h1M383 213.5h1M383 215.5h1M383 237.5h1M384 163.5h1M384 188.5h1M384 199.5h1M384 208.5h1M384 218.5h1M384 219.5h1M384 221.5h1M385 186.5h1M385 188.5h1M385 195.5h1M385 196.5h1M385 201.5h1M385 205.5h1M385 210.5h1M385 222.5h1M385 223.5h1M385 225.5h1M385 228.5h1M385 232.5h1M386 197.5h1M386 205.5h1M386 208.5h1M386 209.5h1M386 221.5h1M386 225.5h1M386 227.5h1M387 198.5h1M387 200.5h1M387 202.5h1M387 212.5h1M387 219.5h1M387 222.5h1M387 223.5h1M388 196.5h1M388 208.5h1M388 209.5h1M388 222.5h1M388 224.5h1M388 225.5h1M388 227.5h1M389 168.5h1M389 176.5h1M389 207.5h1M389 208.5h1M389 211.5h1M389 224.5h1M389 225.5h1M390 177.5h1M390 181.5h1M390 184.5h1M390 185.5h1M390 199.5h1M390 204.5h1M390 208.5h1M390 210.5h1M390 211.5h1M390 223.5h1M390 224.5h1M390 225.5h1M390 226.5h1M391 185.5h1M391 224.5h1M391 226.5h1M391 227.5h1M391 243.5h1M392 177.5h1M392 191.5h1M392 208.5h1M392 209.5h1M392 224.5h1M393 181.5h1M393 186.5h1M393 197.5h1M393 206.5h1M393 207.5h1M393 208.5h1M393 226.5h1M394 169.5h1M394 173.5h1M394 187.5h1M394 189.5h1M394 196.5h1M394 197.5h1M394 208.5h1M394 209.5h1M394 227.5h1M394 231.5h1M395 171.5h1M395 181.5h1M395 184.5h1M395 191.5h1M395 198.5h1M395 201.5h1M395 202.5h1M395 225.5h1M395 226.5h1M395 227.5h1M396 172.5h1M396 186.5h1M396 188.5h1M396 199.5h1M396 203.5h1M396 208.5h1M396 225.5h1M397 196.5h1M397 197.5h1M397 198.5h1M397 200.5h1M397 203.5h1M397 208.5h1M397 223.5h1M397 225.5h1M397 239.5h1M398 178.5h1M398 181.5h1M398 189.5h1M398 191.5h1M398 196.5h1M398 197.5h1M398 204.5h1M398 205.5h1M399 172.5h1M399 183.5h1M399 186.5h1M399 187.5h1M399 190.5h1M399 193.5h1M399 196.5h1M399 197.5h1M399 199.5h1M399 201.5h1M399 208.5h1M399 227.5h1M400 178.5h1M400 183.5h1M400 185.5h1M400 186.5h1M400 190.5h1M400 195.5h1M400 205.5h1M400 207.5h1M400 208.5h1M400 225.5h1M400 227.5h1M400 229.5h1M401 170.5h1M401 175.5h1M401 184.5h1M401 193.5h1M401 195.5h1M401 196.5h1M401 199.5h1M402 166.5h1M402 178.5h1M402 182.5h1M402 193.5h1M402 194.5h1M402 195.5h1M402 197.5h1M402 202.5h1M402 204.5h1M402 206.5h1M402 208.5h1M403 178.5h1M403 179.5h1M403 189.5h1M403 190.5h1M403 196.5h1M403 200.5h1M403 202.5h1M403 205.5h1M403 225.5h1M403 229.5h1M404 173.5h1M404 178.5h1M404 179.5h1M404 183.5h1M404 184.5h1M404 200.5h1M404 203.5h1M404 204.5h1M404 207.5h1M404 208.5h1M404 209.5h1M404 224.5h1M405 180.5h1M405 181.5h1M405 192.5h1M405 206.5h1M405 207.5h1M405 226.5h1M406 178.5h1M406 179.5h1M406 180.5h1M406 182.5h1M406 183.5h1M406 186.5h1M406 197.5h1M406 204.5h1M406 205.5h1M406 206.5h1M406 207.5h1M406 209.5h1M406 222.5h1M406 224.5h1M406 228.5h1M407 172.5h1M407 187.5h1M407 188.5h1M407 192.5h1M407 194.5h1M407 200.5h1M407 209.5h1M407 210.5h1M407 223.5h1M408 174.5h1M408 176.5h1M408 184.5h1M408 189.5h1M408 190.5h1M408 191.5h1M408 193.5h1M408 194.5h1M408 195.5h1M408 198.5h1M408 204.5h1M408 205.5h1M408 208.5h1M408 210.5h1M408 223.5h1M408 226.5h1M409 191.5h1M409 203.5h1M409 204.5h1M409 208.5h1M409 209.5h1M409 220.5h1M410 183.5h1M410 196.5h1M410 200.5h1M410 204.5h1M410 206.5h1M410 208.5h1M410 211.5h1M410 217.5h1M410 221.5h1M411 173.5h1M411 184.5h1M411 185.5h1M411 186.5h1M411 191.5h1M411 195.5h1M411 203.5h1M411 212.5h1M411 213.5h1M411 218.5h1M411 219.5h1M411 229.5h1M411 245.5h1M412 188.5h1M412 193.5h1M412 194.5h1M412 201.5h1M412 206.5h1M412 210.5h1M412 212.5h1M412 213.5h1M412 217.5h1M412 220.5h1M412 221.5h1M412 223.5h1M413 173.5h1M413 177.5h1M413 194.5h1M413 213.5h1M413 214.5h1M413 218.5h1M413 219.5h1M413 222.5h1M414 192.5h1M414 210.5h1M414 214.5h1M414 218.5h1M414 221.5h1M415 189.5h1M415 208.5h1M415 212.5h1M415 213.5h1M415 214.5h1M415 215.5h1M415 217.5h1M415 219.5h1M416 188.5h1M416 204.5h1M416 206.5h1M416 222.5h1M417 162.5h1M417 189.5h1M417 206.5h1M417 210.5h1M417 213.5h1M417 215.5h1M417 216.5h1M417 221.5h1M418 192.5h1M418 212.5h1M418 214.5h1M418 220.5h1M419 193.5h1M419 205.5h1M420 178.5h1M420 209.5h1M421 199.5h1M421 208.5h1M422 195.5h1M423 190.5h1M425 195.5h1M426 203.5h1" stroke="#8a8a8a" stroke-width="1"/>
<path d="M372 320.5h1M374 319.5h1M377 317.5h1M383 336.5h1M383 344.5h1M384 333.5h1M384 335.5h1M384 338.5h1M384 339.5h1M384 341.5h1M384 344.5h1M385 334.5h1M385 338.5h1M385 339.5h1M385 340.5h1M385 342.5h1M385 343.5h1M385 344.5h1M385 345.5h1M385 346.5h1M386 336.5h1M386 339.5h1M386 340.5h1M386 341.5h1M386 342.5h1M386 346.5h1M386 352.5h1M387 335.5h1M387 337.5h1M387 338.5h1M387 340.5h1M387 341.5h1M387 342.5h1M387 343.5h1M387 344.5h1M388 334.5h1M388 336.5h1M388 337.5h1M388 338.5h1M388 339.5h1M388 340.5h1M388 341.5h1M388 342.5h1M388 343.5h1M388 344.5h1M389 334.5h1M389 335.5h1M389 336.5h1M389 337.5h1M389 338.5h1M389 339.5h1M389 340.5h1M389 341.5h1M389 342.5h1M389 343.5h1M389 345.5h1M389 347.5h1M390 333.5h1M390 334.5h1M390 335.5h1M390 336.5h1M390 337.5h1M390 338.5h1M390 339.5h1M390 340.5h1M390 341.5h1M390 342.5h1M390 343.5h1M390 344.5h1M390 345.5h1M390 346.5h1M391 333.5h1M391 334.5h1M391 335.5h1M391 336.5h1M391 337.5h1M391 338.5h1M391 339.5h1M391 340.5h1M391 341.5h1M391 342.5h1M391 343.5h1M391 344.5h1M391 345.5h1M391 346.5h1M391 348.5h1M392 332.5h1M392 333.5h1M392 334.5h1M392 335.5h1M392 336.5h1M392 337.5h1M392 338.5h1M392 339.5h1M392 340.5h1M392 341.5h1M392 342.5h1M392 343.5h1M392 344.5h1M392 345.5h1M392 346.5h1M392 347.5h1M393 333.5h1M393 334.5h1M393 335.5h1M393 336.5h1M393 337.5h1M393 338.5h1M393 339.5h1M393 340.5h1M393 341.5h1M393 342.5h1M393 343.5h1M393 344.5h1M393 345.5h1M393 346.5h1M393 347.5h1M393 348.5h1M393 350.5h1M394 309.5h1M394 331.5h1M394 332.5h1M394 333.5h1M394 334.5h1M394 335.5h1M394 336.5h1M394 337.5h1M394 338.5h1M394 339.5h1M394 340.5h1M394 341.5h1M394 342.5h1M394 343.5h1M394 344.5h1M394 345.5h1M394 346.5h1M394 347.5h1M394 348.5h1M394 349.5h1M395 332.5h1M395 333.5h1M395 334.5h1M395 335.5h1M395 336.5h1M395 337.5h1M395 338.5h1M395 339.5h1M395 340.5h1M395 341.5h1M395 342.5h1M395 343.5h1M395 344.5h1M395 345.5h1M395 346.5h1M395 347.5h1M396 331.5h1M396 332.5h1M396 333.5h1M396 334.5h1M396 335.5h1M396 336.5h1M396 337.5h1M396 338.5h1M396 339.5h1M396 340.5h1M396 341.5h1M396 342.5h1M396 343.5h1M396 344.5h1M396 345.5h1M397 330.5h1M397 331.5h1M397 332.5h1M397 333.5h1M397 334.5h1M397 335.5h1M397 336.5h1M397 337.5h1M397 338.5h1M397 339.5h1M397 340.5h1M397 341.5h1M397 342.5h1M397 343.5h1M397 344.5h1M397 345.5h1M397 346.5h1M398 332.5h1M398 333.5h1M398 334.5h1M398 335.5h1M398 336.5h1M398 337.5h1M398 338.5h1M398 339.5h1M398 340.5h1M398 341.5h1M398 342.5h1M398 343.5h1M398 344.5h1M398 345.5h1M398 346.5h1M399 331.5h1M399 332.5h1M399 333.5h1M399 334.5h1M399 335.5h1M399 336.5h1M399 337.5h1M399 338.5h1M399 339.5h1M399 340.5h1M399 341.5h1M399 342.5h1M399 343.5h1M399 344.5h1M399 345.5h1M399 346.5h1M399 347.5h1M400 330.5h1M400 331.5h1M400 332.5h1M400 333.5h1M400 334.5h1M400 335.5h1M400 336.5h1M400 337.5h1M400 338.5h1M400 339.5h1M400 340.5h1M400 341.5h1M400 342.5h1M400 343.5h1M400 344.5h1M400 345.5h1M400 346.5h1M400 347.5h1M401 331.5h1M401 332.5h1M401 333.5h1M401 334.5h1M401 335.5h1M401 336.5h1M401 337.5h1M401 338.5h1M401 339.5h1M401 340.5h1M401 341.5h1M401 342.5h1M401 343.5h1M401 344.5h1M401 345.5h1M401 346.5h1M401 348.5h1M402 312.5h1M402 331.5h1M402 332.5h1M402 333.5h1M402 334.5h1M402 335.5h1M402 336.5h1M402 337.5h1M402 338.5h1M402 339.5h1M402 340.5h1M402 341.5h1M402 342.5h1M402 343.5h1M402 344.5h1M402 345.5h1M402 346.5h1M403 330.5h1M403 331.5h1M403 332.5h1M403 333.5h1M403 334.5h1M403 335.5h1M403 336.5h1M403 337.5h1M403 338.5h1M403 339.5h1M403 340.5h1M403 341.5h1M403 342.5h1M403 343.5h1M403 344.5h1M403 345.5h1M403 346.5h1M404 323.5h1M404 330.5h1M404 331.5h1M404 332.5h1M404 333.5h1M404 334.5h1M404 335.5h1M404 336.5h1M404 337.5h1M404 338.5h1M404 339.5h1M404 340.5h1M404 341.5h1M404 342.5h1M404 343.5h1M404 344.5h1M404 345.5h1M404 346.5h1M405 331.5h1M405 332.5h1M405 333.5h1M405 334.5h1M405 335.5h1M405 336.5h1M405 337.5h1M405 338.5h1M405 339.5h1M405 340.5h1M405 341.5h1M405 342.5h1M405 343.5h1M405 344.5h1M405 345.5h1M405 346.5h1M406 317.5h1M406 329.5h1M406 331.5h1M406 332.5h1M406 333.5h1M406 334.5h1M406 335.5h1M406 336.5h1M406 337.5h1M406 338.5h1M406 339.5h1M406 340.5h1M406 341.5h1M406 342.5h1M406 343.5h1M406 344.5h1M406 345.5h1M407 329.5h1M407 330.5h1M407 332.5h1M407 333.5h1M407 334.5h1M407 335.5h1M407 336.5h1M407 337.5h1M407 338.5h1M407 339.5h1M407 340.5h1M407 341.5h1M407 342.5h1M407 343.5h1M407 344.5h1M407 345.5h1M408 330.5h1M408 331.5h1M408 332.5h1M408 333.5h1M408 334.5h1M408 335.5h1M408 336.5h1M408 337.5h1M408 338.5h1M408 339.5h1M408 340.5h1M408 341.5h1M408 342.5h1M408 343.5h1M408 344.5h1M408 345.5h1M409 330.5h1M409 332.5h1M409 334.5h1M409 335.5h1M409 336.5h1M409 337.5h1M409 338.5h1M409 339.5h1M409 340.5h1M409 341.5h1M409 342.5h1M409 343.5h1M409 344.5h1M409 345.5h1M409 346.5h1M410 331.5h1M410 332.5h1M410 333.5h1M410 334.5h1M410 335.5h1M410 336.5h1M410 337.5h1M410 338.5h1M410 339.5h1M410 340.5h1M410 341.5h1M410 344.5h1M411 330.5h1M411 332.5h1M411 333.5h1M411 334.5h1M411 335.5h1M411 336.5h1M411 337.5h1M411 338.5h1M411 339.5h1M411 340.5h1M411 343.5h1M412 327.5h1M412 330.5h1M412 332.5h1M412 333.5h1M412 334.5h1M412 335.5h1M412 337.5h1M412 338.5h1M412 339.5h1M412 341.5h1M412 342.5h1M412 343.5h1M412 344.5h1M413 331.5h1M413 332.5h1M413 333.5h1M413 334.5h1M413 335.5h1M413 336.5h1M413 337.5h1M413 338.5h1M413 340.5h1M413 341.5h1M413 342.5h1M414 334.5h1M414 335.5h1M414 337.5h1M414 338.5h1M414 343.5h1M415 330.5h1M415 333.5h1M415 334.5h1M415 336.5h1M415 338.5h1M415 339.5h1M415 340.5h1M416 335.5h1M416 337.5h1M417 336.5h1" stroke="#000" stroke-width="1"/>
<path d="M373 310.5h1M374 316.5h1M374 321.5h1M378 334.5h1M379 319.5h1M380 318.5h1M380 340.5h1M381 314.5h1M381 329.5h1M381 337.5h1M381 338.5h1M381 342.5h1M381 343.5h1M382 339.5h1M382 346.5h1M383 337.5h1M383 341.5h1M383 342.5h1M383 343.5h1M383 347.5h1M384 334.5h1M384 337.5h1M384 340.5h1M384 343.5h1M384 345.5h1M384 347.5h1M385 336.5h1M385 337.5h1M385 341.5h1M386 338.5h1M386 343.5h1M386 345.5h1M387 333.5h1M387 336.5h1M387 339.5h1M387 349.5h1M388 332.5h1M388 333.5h1M388 335.5h1M388 345.5h1M388 346.5h1M388 347.5h1M389 331.5h1M389 333.5h1M389 344.5h1M390 295.5h1M390 349.5h1M391 330.5h1M391 331.5h1M391 332.5h1M392 329.5h1M392 348.5h1M394 305.5h1M394 315.5h1M394 323.5h1M394 329.5h1M395 322.5h1M395 329.5h1M395 330.5h1M395 331.5h1M396 314.5h1M396 326.5h1M396 346.5h1M396 347.5h1M397 307.5h1M397 348.5h1M397 349.5h1M398 317.5h1M398 320.5h1M398 326.5h1M398 330.5h1M398 331.5h1M398 347.5h1M398 348.5h1M399 302.5h1M399 311.5h1M399 312.5h1M399 319.5h1M400 348.5h1M401 313.5h1M401 328.5h1M401 329.5h1M403 324.5h1M403 329.5h1M403 347.5h1M404 307.5h1M404 322.5h1M404 324.5h1M404 329.5h1M405 309.5h1M405 327.5h1M405 347.5h1M405 348.5h1M406 299.5h1M406 330.5h1M406 346.5h1M406 347.5h1M406 348.5h1M407 313.5h1M407 331.5h1M407 346.5h1M408 306.5h1M408 309.5h1M408 320.5h1M408 325.5h1M408 329.5h1M408 347.5h1M409 311.5h1M409 333.5h1M409 348.5h1M410 330.5h1M410 342.5h1M410 343.5h1M410 346.5h1M411 323.5h1M411 344.5h1M411 348.5h1M412 329.5h1M412 331.5h1M412 336.5h1M412 340.5h1M413 329.5h1M413 343.5h1M414 330.5h1M414 336.5h1M414 340.5h1M414 341.5h1M414 342.5h1M415 341.5h1M415 342.5h1M416 328.5h1M416 334.5h1M416 339.5h1M417 334.5h1M417 335.5h1M418 322.5h1M418 332.5h1M418 333.5h1M418 335.5h1M418 339.5h1M419 333.5h1M419 338.5h1M419 340.5h1M420 333.5h1M420 337.5h1" stroke="#444" stroke-width="1"/>
<path d="M361 313.5h1M362 312.5h1M363 321.5h1M363 325.5h1M364 314.5h1M365 314.5h1M365 317.5h1M366 302.5h1M366 315.5h1M366 316.5h1M366 320.5h1M366 323.5h1M366 324.5h1M366 325.5h1M367 318.5h1M367 319.5h1M367 321.5h1M367 322.5h1M368 314.5h1M368 315.5h1M368 319.5h1M368 328.5h1M369 334.5h1M369 360.5h1M370 310.5h1M370 315.5h1M370 319.5h1M370 325.5h1M370 326.5h1M371 315.5h1M371 321.5h1M371 324.5h1M371 325.5h1M372 319.5h1M372 324.5h1M373 312.5h1M373 314.5h1M373 315.5h1M373 319.5h1M373 323.5h1M373 328.5h1M374 313.5h1M374 318.5h1M374 324.5h1M374 326.5h1M374 333.5h1M375 313.5h1M375 314.5h1M375 318.5h1M375 319.5h1M375 321.5h1M375 325.5h1M375 326.5h1M375 360.5h1M376 310.5h1M376 311.5h1M376 315.5h1M376 317.5h1M376 318.5h1M376 320.5h1M376 322.5h1M376 339.5h1M376 341.5h1M377 310.5h1M377 314.5h1M377 318.5h1M377 325.5h1M377 326.5h1M377 335.5h1M377 343.5h1M377 345.5h1M378 337.5h1M378 342.5h1M378 344.5h1M378 346.5h1M379 317.5h1M379 327.5h1M379 328.5h1M379 342.5h1M380 303.5h1M380 309.5h1M380 311.5h1M380 314.5h1M380 317.5h1M380 321.5h1M380 324.5h1M380 326.5h1M380 334.5h1M380 336.5h1M380 339.5h1M380 341.5h1M380 344.5h1M380 346.5h1M381 313.5h1M381 315.5h1M381 327.5h1M381 332.5h1M381 333.5h1M381 336.5h1M381 341.5h1M381 344.5h1M381 346.5h1M382 311.5h1M382 312.5h1M382 318.5h1M382 320.5h1M382 322.5h1M382 336.5h1M382 338.5h1M382 340.5h1M382 344.5h1M382 345.5h1M382 347.5h1M382 363.5h1M383 309.5h1M383 314.5h1M383 315.5h1M383 320.5h1M383 322.5h1M383 323.5h1M383 325.5h1M383 335.5h1M383 338.5h1M383 339.5h1M383 345.5h1M383 346.5h1M384 307.5h1M384 321.5h1M384 329.5h1M384 336.5h1M384 342.5h1M384 346.5h1M384 349.5h1M385 288.5h1M385 321.5h1M385 329.5h1M385 330.5h1M385 347.5h1M386 305.5h1M386 310.5h1M386 320.5h1M386 329.5h1M386 333.5h1M386 335.5h1M386 337.5h1M386 344.5h1M386 348.5h1M387 304.5h1M387 308.5h1M387 316.5h1M387 325.5h1M387 326.5h1M387 334.5h1M387 346.5h1M387 347.5h1M387 348.5h1M387 350.5h1M388 311.5h1M388 315.5h1M388 319.5h1M388 330.5h1M388 348.5h1M388 349.5h1M389 304.5h1M389 320.5h1M389 324.5h1M389 330.5h1M389 348.5h1M389 351.5h1M390 296.5h1M390 308.5h1M390 324.5h1M390 329.5h1M390 330.5h1M390 331.5h1M390 348.5h1M390 350.5h1M391 302.5h1M391 306.5h1M391 311.5h1M391 314.5h1M391 322.5h1M391 328.5h1M391 347.5h1M391 349.5h1M392 308.5h1M392 311.5h1M392 313.5h1M392 314.5h1M392 321.5h1M392 325.5h1M392 328.5h1M392 349.5h1M392 350.5h1M392 367.5h1M393 302.5h1M393 319.5h1M393 320.5h1M393 326.5h1M393 327.5h1M393 328.5h1M394 300.5h1M394 307.5h1M394 316.5h1M394 318.5h1M395 304.5h1M395 311.5h1M395 316.5h1M395 317.5h1M395 323.5h1M395 324.5h1M395 328.5h1M395 348.5h1M395 349.5h1M395 361.5h1M396 298.5h1M396 301.5h1M396 307.5h1M396 319.5h1M396 320.5h1M396 348.5h1M397 284.5h1M397 304.5h1M397 309.5h1M397 316.5h1M397 317.5h1M397 318.5h1M397 321.5h1M397 322.5h1M397 324.5h1M397 328.5h1M397 329.5h1M397 347.5h1M397 350.5h1M397 365.5h1M398 286.5h1M398 287.5h1M398 299.5h1M398 311.5h1M398 313.5h1M398 316.5h1M398 321.5h1M398 322.5h1M398 327.5h1M398 329.5h1M398 352.5h1M398 355.5h1M399 298.5h1M399 300.5h1M399 308.5h1M399 313.5h1M399 316.5h1M399 318.5h1M399 323.5h1M399 325.5h1M399 327.5h1M399 330.5h1M399 349.5h1M399 351.5h1M400 291.5h1M400 298.5h1M400 312.5h1M400 316.5h1M400 317.5h1M400 320.5h1M400 326.5h1M400 327.5h1M400 328.5h1M401 305.5h1M401 308.5h1M401 312.5h1M401 316.5h1M401 317.5h1M401 319.5h1M401 321.5h1M401 322.5h1M401 325.5h1M401 326.5h1M401 330.5h1M401 347.5h1M402 291.5h1M402 304.5h1M402 311.5h1M402 323.5h1M402 326.5h1M402 328.5h1M402 329.5h1M402 347.5h1M402 348.5h1M402 349.5h1M402 353.5h1M403 285.5h1M403 292.5h1M403 293.5h1M403 300.5h1M403 305.5h1M403 309.5h1M403 312.5h1M403 313.5h1M403 316.5h1M403 319.5h1M403 325.5h1M403 327.5h1M403 348.5h1M403 349.5h1M404 306.5h1M404 309.5h1M404 310.5h1M404 311.5h1M404 314.5h1M404 319.5h1M404 320.5h1M404 327.5h1M404 350.5h1M405 286.5h1M405 296.5h1M405 305.5h1M405 314.5h1M405 316.5h1M405 317.5h1M405 321.5h1M405 323.5h1M405 326.5h1M405 328.5h1M405 329.5h1M405 330.5h1M405 349.5h1M406 292.5h1M406 312.5h1M406 313.5h1M406 318.5h1M406 321.5h1M406 322.5h1M406 326.5h1M406 327.5h1M406 328.5h1M406 349.5h1M407 286.5h1M407 295.5h1M407 300.5h1M407 317.5h1M407 318.5h1M407 323.5h1M407 325.5h1M407 326.5h1M407 328.5h1M407 347.5h1M407 349.5h1M408 286.5h1M408 298.5h1M408 307.5h1M408 310.5h1M408 311.5h1M408 313.5h1M408 316.5h1M408 322.5h1M408 323.5h1M408 328.5h1M408 346.5h1M409 288.5h1M409 294.5h1M409 301.5h1M409 307.5h1M409 308.5h1M409 309.5h1M409 310.5h1M409 312.5h1M409 316.5h1M409 318.5h1M409 320.5h1M409 321.5h1M409 323.5h1M409 347.5h1M410 303.5h1M410 309.5h1M410 311.5h1M410 312.5h1M410 316.5h1M410 319.5h1M410 321.5h1M410 323.5h1M410 326.5h1M410 327.5h1M410 345.5h1M410 348.5h1M411 287.5h1M411 295.5h1M411 297.5h1M411 306.5h1M411 309.5h1M411 314.5h1M411 317.5h1M411 319.5h1M411 321.5h1M411 326.5h1M411 328.5h1M411 329.5h1M411 331.5h1M411 341.5h1M411 342.5h1M411 345.5h1M411 351.5h1M412 293.5h1M412 308.5h1M412 310.5h1M412 314.5h1M412 315.5h1M412 320.5h1M412 326.5h1M412 328.5h1M412 348.5h1M413 290.5h1M413 299.5h1M413 304.5h1M413 307.5h1M413 308.5h1M413 311.5h1M413 324.5h1M413 325.5h1M413 345.5h1M413 348.5h1M414 295.5h1M414 301.5h1M414 304.5h1M414 316.5h1M414 317.5h1M414 318.5h1M414 320.5h1M414 328.5h1M414 329.5h1M414 331.5h1M414 332.5h1M414 333.5h1M414 339.5h1M415 309.5h1M415 315.5h1M415 322.5h1M415 327.5h1M415 328.5h1M415 332.5h1M415 335.5h1M415 337.5h1M416 310.5h1M416 315.5h1M416 324.5h1M416 329.5h1M416 330.5h1M416 331.5h1M416 332.5h1M416 333.5h1M416 336.5h1M416 341.5h1M416 354.5h1M417 314.5h1M417 320.5h1M417 327.5h1M417 329.5h1M417 331.5h1M417 333.5h1M417 340.5h1M417 343.5h1M418 317.5h1M418 328.5h1M418 330.5h1M418 331.5h1M418 340.5h1M418 341.5h1M418 342.5h1M419 309.5h1M419 320.5h1M419 335.5h1M420 301.5h1M420 321.5h1M420 332.5h1M420 335.5h1M420 338.5h1M420 339.5h1M421 314.5h1M421 334.5h1M421 335.5h1M421 336.5h1M421 339.5h1M421 340.5h1M422 315.5h1M423 325.5h1M423 336.5h1M426 337.5h1M427 282.5h1M427 339.5h1M428 327.5h1M428 345.5h1M431 308.5h1" stroke="#8a8a8a" stroke-width="1"/>
<path d="M504 79.5h1M507 89.5h1M509 79.5h1M509 81.5h1M510 77.5h1M510 84.5h1M513 91.5h1M515 78.5h1M516 79.5h1M516 88.5h1M519 85.5h1M519 86.5h1M520 84.5h1M522 81.5h1M524 88.5h1M525 84.5h1" stroke="#8a8a8a" stroke-width="1"/>
<path d="M498 190.5h1M499 190.5h1M501 180.5h1M503 190.5h1M503 193.5h1M504 183.5h1M504 185.5h1M504 186.5h1M504 192.5h1M504 193.5h1M505 190.5h1M506 185.5h1M506 186.5h1M506 190.5h1M506 192.5h1M507 183.5h1M507 185.5h1M507 189.5h1M508 179.5h1M508 183.5h1M509 177.5h1M509 181.5h1M509 182.5h1M509 184.5h1M509 185.5h1M509 188.5h1M510 181.5h1M510 182.5h1M510 188.5h1M510 189.5h1M511 184.5h1M511 186.5h1M511 187.5h1M512 179.5h1M512 186.5h1M512 187.5h1M513 181.5h1M513 186.5h1M513 188.5h1M513 194.5h1M514 180.5h1M514 182.5h1M514 190.5h1M514 195.5h1M515 181.5h1M515 184.5h1M515 186.5h1M515 193.5h1M516 180.5h1M516 181.5h1M516 189.5h1M516 200.5h1M517 180.5h1M517 181.5h1M517 187.5h1M517 191.5h1M517 193.5h1M517 194.5h1M517 201.5h1M518 182.5h1M518 189.5h1M519 183.5h1M519 185.5h1M519 186.5h1M519 188.5h1M519 206.5h1M520 184.5h1M520 188.5h1M520 189.5h1M521 211.5h1M522 184.5h1M522 185.5h1M523 182.5h1M523 188.5h1M524 177.5h1M524 181.5h1M524 187.5h1M524 191.5h1M525 182.5h1M526 185.5h1M526 186.5h1M526 203.5h1M527 180.5h1M528 181.5h1M529 187.5h1M530 184.5h1M530 188.5h1M532 177.5h1" stroke="#8a8a8a" stroke-width="1"/>
<path d="M504 187.5h1M505 187.5h1M510 185.5h1M512 190.5h1M513 185.5h1M513 190.5h1M514 186.5h1M514 187.5h1M515 187.5h1M516 188.5h1M518 187.5h1M520 186.5h1M522 182.5h1" stroke="#555" stroke-width="1"/>
<path d="M505 307.5h1M507 301.5h1M508 301.5h1M508 308.5h1M509 305.5h1M510 303.5h1M510 306.5h1M511 299.5h1M513 297.5h1M516 302.5h1" stroke="#555" stroke-width="1"/>
<path d="M497 303.5h1M499 311.5h1M503 306.5h1M503 309.5h1M504 293.5h1M506 304.5h1M508 299.5h1M508 302.5h1M508 321.5h1M508 328.5h1M509 303.5h1M510 302.5h1M510 308.5h1M511 300.5h1M511 307.5h1M511 318.5h1M512 302.5h1M512 303.5h1M512 304.5h1M512 309.5h1M512 313.5h1M513 302.5h1M513 304.5h1M513 305.5h1M513 308.5h1M514 299.5h1M514 301.5h1M514 302.5h1M514 304.5h1M514 307.5h1M514 310.5h1M514 311.5h1M515 295.5h1M515 299.5h1M515 304.5h1M515 308.5h1M516 299.5h1M516 305.5h1M516 307.5h1M516 315.5h1M517 301.5h1M517 305.5h1M517 306.5h1M518 304.5h1M519 307.5h1M520 300.5h1M520 306.5h1M521 308.5h1M522 306.5h1M523 310.5h1M523 318.5h1M524 300.5h1M524 303.5h1M527 302.5h1" stroke="#8a8a8a" stroke-width="1"/>
<rect x="232" y="37" width="98.5" height="98" fill="none" stroke="#111" stroke-width="1.3"/>
<line x1="230.8" y1="43.12" x2="232" y2="43.12" stroke="#333" stroke-width="0.6"/>
<line x1="230.8" y1="49.25" x2="232" y2="49.25" stroke="#333" stroke-width="0.6"/>
<line x1="230.8" y1="55.38" x2="232" y2="55.38" stroke="#333" stroke-width="0.6"/>
<line x1="229.5" y1="61.5" x2="232" y2="61.5" stroke="#333" stroke-width="0.6"/>
<line x1="230.8" y1="67.62" x2="232" y2="67.62" stroke="#333" stroke-width="0.6"/>
<line x1="230.8" y1="73.75" x2="232" y2="73.75" stroke="#333" stroke-width="0.6"/>
<line x1="230.8" y1="79.88" x2="232" y2="79.88" stroke="#333" stroke-width="0.6"/>
<line x1="229.5" y1="86" x2="232" y2="86" stroke="#333" stroke-width="0.6"/>
<line x1="230.8" y1="92.12" x2="232" y2="92.12" stroke="#333" stroke-width="0.6"/>
<line x1="230.8" y1="98.25" x2="232" y2="98.25" stroke="#333" stroke-width="0.6"/>
<line x1="230.8" y1="104.38" x2="232" y2="104.38" stroke="#333" stroke-width="0.6"/>
<line x1="229.5" y1="110.5" x2="232" y2="110.5" stroke="#333" stroke-width="0.6"/>
<line x1="230.8" y1="116.62" x2="232" y2="116.62" stroke="#333" stroke-width="0.6"/>
<line x1="230.8" y1="122.75" x2="232" y2="122.75" stroke="#333" stroke-width="0.6"/>
<line x1="230.8" y1="128.88" x2="232" y2="128.88" stroke="#333" stroke-width="0.6"/>
<line x1="238.16" y1="135" x2="238.16" y2="136.2" stroke="#333" stroke-width="0.6"/>
<line x1="244.31" y1="135" x2="244.31" y2="136.2" stroke="#333" stroke-width="0.6"/>
<line x1="250.47" y1="135" x2="250.47" y2="136.2" stroke="#333" stroke-width="0.6"/>
<line x1="256.62" y1="135" x2="256.62" y2="137.5" stroke="#333" stroke-width="0.6"/>
<line x1="262.78" y1="135" x2="262.78" y2="136.2" stroke="#333" stroke-width="0.6"/>
<line x1="268.94" y1="135" x2="268.94" y2="136.2" stroke="#333" stroke-width="0.6"/>
<line x1="275.09" y1="135" x2="275.09" y2="136.2" stroke="#333" stroke-width="0.6"/>
<line x1="281.25" y1="135" x2="281.25" y2="137.5" stroke="#333" stroke-width="0.6"/>
<line x1="287.41" y1="135" x2="287.41" y2="136.2" stroke="#333" stroke-width="0.6"/>
<line x1="293.56" y1="135" x2="293.56" y2="136.2" stroke="#333" stroke-width="0.6"/>
<line x1="299.72" y1="135" x2="299.72" y2="136.2" stroke="#333" stroke-width="0.6"/>
<line x1="305.88" y1="135" x2="305.88" y2="137.5" stroke="#333" stroke-width="0.6"/>
<line x1="312.03" y1="135" x2="312.03" y2="136.2" stroke="#333" stroke-width="0.6"/>
<line x1="318.19" y1="135" x2="318.19" y2="136.2" stroke="#333" stroke-width="0.6"/>
<line x1="324.34" y1="135" x2="324.34" y2="136.2" stroke="#333" stroke-width="0.6"/>
<rect x="348" y="37" width="98" height="98" fill="none" stroke="#111" stroke-width="1.3"/>
<line x1="346.8" y1="43.12" x2="348" y2="43.12" stroke="#333" stroke-width="0.6"/>
<line x1="346.8" y1="49.25" x2="348" y2="49.25" stroke="#333" stroke-width="0.6"/>
<line x1="346.8" y1="55.38" x2="348" y2="55.38" stroke="#333" stroke-width="0.6"/>
<line x1="345.5" y1="61.5" x2="348" y2="61.5" stroke="#333" stroke-width="0.6"/>
<line x1="346.8" y1="67.62" x2="348" y2="67.62" stroke="#333" stroke-width="0.6"/>
<line x1="346.8" y1="73.75" x2="348" y2="73.75" stroke="#333" stroke-width="0.6"/>
<line x1="346.8" y1="79.88" x2="348" y2="79.88" stroke="#333" stroke-width="0.6"/>
<line x1="345.5" y1="86" x2="348" y2="86" stroke="#333" stroke-width="0.6"/>
<line x1="346.8" y1="92.12" x2="348" y2="92.12" stroke="#333" stroke-width="0.6"/>
<line x1="346.8" y1="98.25" x2="348" y2="98.25" stroke="#333" stroke-width="0.6"/>
<line x1="346.8" y1="104.38" x2="348" y2="104.38" stroke="#333" stroke-width="0.6"/>
<line x1="345.5" y1="110.5" x2="348" y2="110.5" stroke="#333" stroke-width="0.6"/>
<line x1="346.8" y1="116.62" x2="348" y2="116.62" stroke="#333" stroke-width="0.6"/>
<line x1="346.8" y1="122.75" x2="348" y2="122.75" stroke="#333" stroke-width="0.6"/>
<line x1="346.8" y1="128.88" x2="348" y2="128.88" stroke="#333" stroke-width="0.6"/>
<line x1="354.12" y1="135" x2="354.12" y2="136.2" stroke="#333" stroke-width="0.6"/>
<line x1="360.25" y1="135" x2="360.25" y2="136.2" stroke="#333" stroke-width="0.6"/>
<line x1="366.38" y1="135" x2="366.38" y2="136.2" stroke="#333" stroke-width="0.6"/>
<line x1="372.5" y1="135" x2="372.5" y2="137.5" stroke="#333" stroke-width="0.6"/>
<line x1="378.62" y1="135" x2="378.62" y2="136.2" stroke="#333" stroke-width="0.6"/>
<line x1="384.75" y1="135" x2="384.75" y2="136.2" stroke="#333" stroke-width="0.6"/>
<line x1="390.88" y1="135" x2="390.88" y2="136.2" stroke="#333" stroke-width="0.6"/>
<line x1="397" y1="135" x2="397" y2="137.5" stroke="#333" stroke-width="0.6"/>
<line x1="403.12" y1="135" x2="403.12" y2="136.2" stroke="#333" stroke-width="0.6"/>
<line x1="409.25" y1="135" x2="409.25" y2="136.2" stroke="#333" stroke-width="0.6"/>
<line x1="415.38" y1="135" x2="415.38" y2="136.2" stroke="#333" stroke-width="0.6"/>
<line x1="421.5" y1="135" x2="421.5" y2="137.5" stroke="#333" stroke-width="0.6"/>
<line x1="427.62" y1="135" x2="427.62" y2="136.2" stroke="#333" stroke-width="0.6"/>
<line x1="433.75" y1="135" x2="433.75" y2="136.2" stroke="#333" stroke-width="0.6"/>
<line x1="439.88" y1="135" x2="439.88" y2="136.2" stroke="#333" stroke-width="0.6"/>
<rect x="464" y="37" width="97.5" height="98" fill="none" stroke="#111" stroke-width="1.3"/>
<line x1="462.8" y1="43.12" x2="464" y2="43.12" stroke="#333" stroke-width="0.6"/>
<line x1="462.8" y1="49.25" x2="464" y2="49.25" stroke="#333" stroke-width="0.6"/>
<line x1="462.8" y1="55.38" x2="464" y2="55.38" stroke="#333" stroke-width="0.6"/>
<line x1="461.5" y1="61.5" x2="464" y2="61.5" stroke="#333" stroke-width="0.6"/>
<line x1="462.8" y1="67.62" x2="464" y2="67.62" stroke="#333" stroke-width="0.6"/>
<line x1="462.8" y1="73.75" x2="464" y2="73.75" stroke="#333" stroke-width="0.6"/>
<line x1="462.8" y1="79.88" x2="464" y2="79.88" stroke="#333" stroke-width="0.6"/>
<line x1="461.5" y1="86" x2="464" y2="86" stroke="#333" stroke-width="0.6"/>
<line x1="462.8" y1="92.12" x2="464" y2="92.12" stroke="#333" stroke-width="0.6"/>
<line x1="462.8" y1="98.25" x2="464" y2="98.25" stroke="#333" stroke-width="0.6"/>
<line x1="462.8" y1="104.38" x2="464" y2="104.38" stroke="#333" stroke-width="0.6"/>
<line x1="461.5" y1="110.5" x2="464" y2="110.5" stroke="#333" stroke-width="0.6"/>
<line x1="462.8" y1="116.62" x2="464" y2="116.62" stroke="#333" stroke-width="0.6"/>
<line x1="462.8" y1="122.75" x2="464" y2="122.75" stroke="#333" stroke-width="0.6"/>
<line x1="462.8" y1="128.88" x2="464" y2="128.88" stroke="#333" stroke-width="0.6"/>
<line x1="470.09" y1="135" x2="470.09" y2="136.2" stroke="#333" stroke-width="0.6"/>
<line x1="476.19" y1="135" x2="476.19" y2="136.2" stroke="#333" stroke-width="0.6"/>
<line x1="482.28" y1="135" x2="482.28" y2="136.2" stroke="#333" stroke-width="0.6"/>
<line x1="488.38" y1="135" x2="488.38" y2="137.5" stroke="#333" stroke-width="0.6"/>
<line x1="494.47" y1="135" x2="494.47" y2="136.2" stroke="#333" stroke-width="0.6"/>
<line x1="500.56" y1="135" x2="500.56" y2="136.2" stroke="#333" stroke-width="0.6"/>
<line x1="506.66" y1="135" x2="506.66" y2="136.2" stroke="#333" stroke-width="0.6"/>
<line x1="512.75" y1="135" x2="512.75" y2="137.5" stroke="#333" stroke-width="0.6"/>
<line x1="518.84" y1="135" x2="518.84" y2="136.2" stroke="#333" stroke-width="0.6"/>
<line x1="524.94" y1="135" x2="524.94" y2="136.2" stroke="#333" stroke-width="0.6"/>
<line x1="531.03" y1="135" x2="531.03" y2="136.2" stroke="#333" stroke-width="0.6"/>
<line x1="537.12" y1="135" x2="537.12" y2="137.5" stroke="#333" stroke-width="0.6"/>
<line x1="543.22" y1="135" x2="543.22" y2="136.2" stroke="#333" stroke-width="0.6"/>
<line x1="549.31" y1="135" x2="549.31" y2="136.2" stroke="#333" stroke-width="0.6"/>
<line x1="555.41" y1="135" x2="555.41" y2="136.2" stroke="#333" stroke-width="0.6"/>
<rect x="232" y="155.7" width="98.5" height="97.8" fill="none" stroke="#111" stroke-width="1.3"/>
<line x1="230.8" y1="161.81" x2="232" y2="161.81" stroke="#333" stroke-width="0.6"/>
<line x1="230.8" y1="167.92" x2="232" y2="167.92" stroke="#333" stroke-width="0.6"/>
<line x1="230.8" y1="174.04" x2="232" y2="174.04" stroke="#333" stroke-width="0.6"/>
<line x1="229.5" y1="180.15" x2="232" y2="180.15" stroke="#333" stroke-width="0.6"/>
<line x1="230.8" y1="186.26" x2="232" y2="186.26" stroke="#333" stroke-width="0.6"/>
<line x1="230.8" y1="192.38" x2="232" y2="192.38" stroke="#333" stroke-width="0.6"/>
<line x1="230.8" y1="198.49" x2="232" y2="198.49" stroke="#333" stroke-width="0.6"/>
<line x1="229.5" y1="204.6" x2="232" y2="204.6" stroke="#333" stroke-width="0.6"/>
<line x1="230.8" y1="210.71" x2="232" y2="210.71" stroke="#333" stroke-width="0.6"/>
<line x1="230.8" y1="216.82" x2="232" y2="216.82" stroke="#333" stroke-width="0.6"/>
<line x1="230.8" y1="222.94" x2="232" y2="222.94" stroke="#333" stroke-width="0.6"/>
<line x1="229.5" y1="229.05" x2="232" y2="229.05" stroke="#333" stroke-width="0.6"/>
<line x1="230.8" y1="235.16" x2="232" y2="235.16" stroke="#333" stroke-width="0.6"/>
<line x1="230.8" y1="241.28" x2="232" y2="241.28" stroke="#333" stroke-width="0.6"/>
<line x1="230.8" y1="247.39" x2="232" y2="247.39" stroke="#333" stroke-width="0.6"/>
<line x1="238.16" y1="253.5" x2="238.16" y2="254.7" stroke="#333" stroke-width="0.6"/>
<line x1="244.31" y1="253.5" x2="244.31" y2="254.7" stroke="#333" stroke-width="0.6"/>
<line x1="250.47" y1="253.5" x2="250.47" y2="254.7" stroke="#333" stroke-width="0.6"/>
<line x1="256.62" y1="253.5" x2="256.62" y2="256" stroke="#333" stroke-width="0.6"/>
<line x1="262.78" y1="253.5" x2="262.78" y2="254.7" stroke="#333" stroke-width="0.6"/>
<line x1="268.94" y1="253.5" x2="268.94" y2="254.7" stroke="#333" stroke-width="0.6"/>
<line x1="275.09" y1="253.5" x2="275.09" y2="254.7" stroke="#333" stroke-width="0.6"/>
<line x1="281.25" y1="253.5" x2="281.25" y2="256" stroke="#333" stroke-width="0.6"/>
<line x1="287.41" y1="253.5" x2="287.41" y2="254.7" stroke="#333" stroke-width="0.6"/>
<line x1="293.56" y1="253.5" x2="293.56" y2="254.7" stroke="#333" stroke-width="0.6"/>
<line x1="299.72" y1="253.5" x2="299.72" y2="254.7" stroke="#333" stroke-width="0.6"/>
<line x1="305.88" y1="253.5" x2="305.88" y2="256" stroke="#333" stroke-width="0.6"/>
<line x1="312.03" y1="253.5" x2="312.03" y2="254.7" stroke="#333" stroke-width="0.6"/>
<line x1="318.19" y1="253.5" x2="318.19" y2="254.7" stroke="#333" stroke-width="0.6"/>
<line x1="324.34" y1="253.5" x2="324.34" y2="254.7" stroke="#333" stroke-width="0.6"/>
<rect x="348" y="155.7" width="98" height="97.8" fill="none" stroke="#111" stroke-width="1.3"/>
<line x1="346.8" y1="161.81" x2="348" y2="161.81" stroke="#333" stroke-width="0.6"/>
<line x1="346.8" y1="167.92" x2="348" y2="167.92" stroke="#333" stroke-width="0.6"/>
<line x1="346.8" y1="174.04" x2="348" y2="174.04" stroke="#333" stroke-width="0.6"/>
<line x1="345.5" y1="180.15" x2="348" y2="180.15" stroke="#333" stroke-width="0.6"/>
<line x1="346.8" y1="186.26" x2="348" y2="186.26" stroke="#333" stroke-width="0.6"/>
<line x1="346.8" y1="192.38" x2="348" y2="192.38" stroke="#333" stroke-width="0.6"/>
<line x1="346.8" y1="198.49" x2="348" y2="198.49" stroke="#333" stroke-width="0.6"/>
<line x1="345.5" y1="204.6" x2="348" y2="204.6" stroke="#333" stroke-width="0.6"/>
<line x1="346.8" y1="210.71" x2="348" y2="210.71" stroke="#333" stroke-width="0.6"/>
<line x1="346.8" y1="216.82" x2="348" y2="216.82" stroke="#333" stroke-width="0.6"/>
<line x1="346.8" y1="222.94" x2="348" y2="222.94" stroke="#333" stroke-width="0.6"/>
<line x1="345.5" y1="229.05" x2="348" y2="229.05" stroke="#333" stroke-width="0.6"/>
<line x1="346.8" y1="235.16" x2="348" y2="235.16" stroke="#333" stroke-width="0.6"/>
<line x1="346.8" y1="241.28" x2="348" y2="241.28" stroke="#333" stroke-width="0.6"/>
<line x1="346.8" y1="247.39" x2="348" y2="247.39" stroke="#333" stroke-width="0.6"/>
<line x1="354.12" y1="253.5" x2="354.12" y2="254.7" stroke="#333" stroke-width="0.6"/>
<line x1="360.25" y1="253.5" x2="360.25" y2="254.7" stroke="#333" stroke-width="0.6"/>
<line x1="366.38" y1="253.5" x2="366.38" y2="254.7" stroke="#333" stroke-width="0.6"/>
<line x1="372.5" y1="253.5" x2="372.5" y2="256" stroke="#333" stroke-width="0.6"/>
<line x1="378.62" y1="253.5" x2="378.62" y2="254.7" stroke="#333" stroke-width="0.6"/>
<line x1="384.75" y1="253.5" x2="384.75" y2="254.7" stroke="#333" stroke-width="0.6"/>
<line x1="390.88" y1="253.5" x2="390.88" y2="254.7" stroke="#333" stroke-width="0.6"/>
<line x1="397" y1="253.5" x2="397" y2="256" stroke="#333" stroke-width="0.6"/>
<line x1="403.12" y1="253.5" x2="403.12" y2="254.7" stroke="#333" stroke-width="0.6"/>
<line x1="409.25" y1="253.5" x2="409.25" y2="254.7" stroke="#333" stroke-width="0.6"/>
<line x1="415.38" y1="253.5" x2="415.38" y2="254.7" stroke="#333" stroke-width="0.6"/>
<line x1="421.5" y1="253.5" x2="421.5" y2="256" stroke="#333" stroke-width="0.6"/>
<line x1="427.62" y1="253.5" x2="427.62" y2="254.7" stroke="#333" stroke-width="0.6"/>
<line x1="433.75" y1="253.5" x2="433.75" y2="254.7" stroke="#333" stroke-width="0.6"/>
<line x1="439.88" y1="253.5" x2="439.88" y2="254.7" stroke="#333" stroke-width="0.6"/>
<rect x="464" y="155.7" width="97.5" height="97.8" fill="none" stroke="#111" stroke-width="1.3"/>
<line x1="462.8" y1="161.81" x2="464" y2="161.81" stroke="#333" stroke-width="0.6"/>
<line x1="462.8" y1="167.92" x2="464" y2="167.92" stroke="#333" stroke-width="0.6"/>
<line x1="462.8" y1="174.04" x2="464" y2="174.04" stroke="#333" stroke-width="0.6"/>
<line x1="461.5" y1="180.15" x2="464" y2="180.15" stroke="#333" stroke-width="0.6"/>
<line x1="462.8" y1="186.26" x2="464" y2="186.26" stroke="#333" stroke-width="0.6"/>
<line x1="462.8" y1="192.38" x2="464" y2="192.38" stroke="#333" stroke-width="0.6"/>
<line x1="462.8" y1="198.49" x2="464" y2="198.49" stroke="#333" stroke-width="0.6"/>
<line x1="461.5" y1="204.6" x2="464" y2="204.6" stroke="#333" stroke-width="0.6"/>
<line x1="462.8" y1="210.71" x2="464" y2="210.71" stroke="#333" stroke-width="0.6"/>
<line x1="462.8" y1="216.82" x2="464" y2="216.82" stroke="#333" stroke-width="0.6"/>
<line x1="462.8" y1="222.94" x2="464" y2="222.94" stroke="#333" stroke-width="0.6"/>
<line x1="461.5" y1="229.05" x2="464" y2="229.05" stroke="#333" stroke-width="0.6"/>
<line x1="462.8" y1="235.16" x2="464" y2="235.16" stroke="#333" stroke-width="0.6"/>
<line x1="462.8" y1="241.28" x2="464" y2="241.28" stroke="#333" stroke-width="0.6"/>
<line x1="462.8" y1="247.39" x2="464" y2="247.39" stroke="#333" stroke-width="0.6"/>
<line x1="470.09" y1="253.5" x2="470.09" y2="254.7" stroke="#333" stroke-width="0.6"/>
<line x1="476.19" y1="253.5" x2="476.19" y2="254.7" stroke="#333" stroke-width="0.6"/>
<line x1="482.28" y1="253.5" x2="482.28" y2="254.7" stroke="#333" stroke-width="0.6"/>
<line x1="488.38" y1="253.5" x2="488.38" y2="256" stroke="#333" stroke-width="0.6"/>
<line x1="494.47" y1="253.5" x2="494.47" y2="254.7" stroke="#333" stroke-width="0.6"/>
<line x1="500.56" y1="253.5" x2="500.56" y2="254.7" stroke="#333" stroke-width="0.6"/>
<line x1="506.66" y1="253.5" x2="506.66" y2="254.7" stroke="#333" stroke-width="0.6"/>
<line x1="512.75" y1="253.5" x2="512.75" y2="256" stroke="#333" stroke-width="0.6"/>
<line x1="518.84" y1="253.5" x2="518.84" y2="254.7" stroke="#333" stroke-width="0.6"/>
<line x1="524.94" y1="253.5" x2="524.94" y2="254.7" stroke="#333" stroke-width="0.6"/>
<line x1="531.03" y1="253.5" x2="531.03" y2="254.7" stroke="#333" stroke-width="0.6"/>
<line x1="537.12" y1="253.5" x2="537.12" y2="256" stroke="#333" stroke-width="0.6"/>
<line x1="543.22" y1="253.5" x2="543.22" y2="254.7" stroke="#333" stroke-width="0.6"/>
<line x1="549.31" y1="253.5" x2="549.31" y2="254.7" stroke="#333" stroke-width="0.6"/>
<line x1="555.41" y1="253.5" x2="555.41" y2="254.7" stroke="#333" stroke-width="0.6"/>
<rect x="232" y="274" width="98.5" height="97.2" fill="none" stroke="#111" stroke-width="1.3"/>
<line x1="230.8" y1="280.07" x2="232" y2="280.07" stroke="#333" stroke-width="0.6"/>
<line x1="230.8" y1="286.15" x2="232" y2="286.15" stroke="#333" stroke-width="0.6"/>
<line x1="230.8" y1="292.23" x2="232" y2="292.23" stroke="#333" stroke-width="0.6"/>
<line x1="229.5" y1="298.3" x2="232" y2="298.3" stroke="#333" stroke-width="0.6"/>
<line x1="230.8" y1="304.38" x2="232" y2="304.38" stroke="#333" stroke-width="0.6"/>
<line x1="230.8" y1="310.45" x2="232" y2="310.45" stroke="#333" stroke-width="0.6"/>
<line x1="230.8" y1="316.52" x2="232" y2="316.52" stroke="#333" stroke-width="0.6"/>
<line x1="229.5" y1="322.6" x2="232" y2="322.6" stroke="#333" stroke-width="0.6"/>
<line x1="230.8" y1="328.68" x2="232" y2="328.68" stroke="#333" stroke-width="0.6"/>
<line x1="230.8" y1="334.75" x2="232" y2="334.75" stroke="#333" stroke-width="0.6"/>
<line x1="230.8" y1="340.82" x2="232" y2="340.82" stroke="#333" stroke-width="0.6"/>
<line x1="229.5" y1="346.9" x2="232" y2="346.9" stroke="#333" stroke-width="0.6"/>
<line x1="230.8" y1="352.98" x2="232" y2="352.98" stroke="#333" stroke-width="0.6"/>
<line x1="230.8" y1="359.05" x2="232" y2="359.05" stroke="#333" stroke-width="0.6"/>
<line x1="230.8" y1="365.12" x2="232" y2="365.12" stroke="#333" stroke-width="0.6"/>
<line x1="238.16" y1="371.2" x2="238.16" y2="372.4" stroke="#333" stroke-width="0.6"/>
<line x1="244.31" y1="371.2" x2="244.31" y2="372.4" stroke="#333" stroke-width="0.6"/>
<line x1="250.47" y1="371.2" x2="250.47" y2="372.4" stroke="#333" stroke-width="0.6"/>
<line x1="256.62" y1="371.2" x2="256.62" y2="373.7" stroke="#333" stroke-width="0.6"/>
<line x1="262.78" y1="371.2" x2="262.78" y2="372.4" stroke="#333" stroke-width="0.6"/>
<line x1="268.94" y1="371.2" x2="268.94" y2="372.4" stroke="#333" stroke-width="0.6"/>
<line x1="275.09" y1="371.2" x2="275.09" y2="372.4" stroke="#333" stroke-width="0.6"/>
<line x1="281.25" y1="371.2" x2="281.25" y2="373.7" stroke="#333" stroke-width="0.6"/>
<line x1="287.41" y1="371.2" x2="287.41" y2="372.4" stroke="#333" stroke-width="0.6"/>
<line x1="293.56" y1="371.2" x2="293.56" y2="372.4" stroke="#333" stroke-width="0.6"/>
<line x1="299.72" y1="371.2" x2="299.72" y2="372.4" stroke="#333" stroke-width="0.6"/>
<line x1="305.88" y1="371.2" x2="305.88" y2="373.7" stroke="#333" stroke-width="0.6"/>
<line x1="312.03" y1="371.2" x2="312.03" y2="372.4" stroke="#333" stroke-width="0.6"/>
<line x1="318.19" y1="371.2" x2="318.19" y2="372.4" stroke="#333" stroke-width="0.6"/>
<line x1="324.34" y1="371.2" x2="324.34" y2="372.4" stroke="#333" stroke-width="0.6"/>
<rect x="348" y="274" width="98" height="97.2" fill="none" stroke="#111" stroke-width="1.3"/>
<line x1="346.8" y1="280.07" x2="348" y2="280.07" stroke="#333" stroke-width="0.6"/>
<line x1="346.8" y1="286.15" x2="348" y2="286.15" stroke="#333" stroke-width="0.6"/>
<line x1="346.8" y1="292.23" x2="348" y2="292.23" stroke="#333" stroke-width="0.6"/>
<line x1="345.5" y1="298.3" x2="348" y2="298.3" stroke="#333" stroke-width="0.6"/>
<line x1="346.8" y1="304.38" x2="348" y2="304.38" stroke="#333" stroke-width="0.6"/>
<line x1="346.8" y1="310.45" x2="348" y2="310.45" stroke="#333" stroke-width="0.6"/>
<line x1="346.8" y1="316.52" x2="348" y2="316.52" stroke="#333" stroke-width="0.6"/>
<line x1="345.5" y1="322.6" x2="348" y2="322.6" stroke="#333" stroke-width="0.6"/>
<line x1="346.8" y1="328.68" x2="348" y2="328.68" stroke="#333" stroke-width="0.6"/>
<line x1="346.8" y1="334.75" x2="348" y2="334.75" stroke="#333" stroke-width="0.6"/>
<line x1="346.8" y1="340.82" x2="348" y2="340.82" stroke="#333" stroke-width="0.6"/>
<line x1="345.5" y1="346.9" x2="348" y2="346.9" stroke="#333" stroke-width="0.6"/>
<line x1="346.8" y1="352.98" x2="348" y2="352.98" stroke="#333" stroke-width="0.6"/>
<line x1="346.8" y1="359.05" x2="348" y2="359.05" stroke="#333" stroke-width="0.6"/>
<line x1="346.8" y1="365.12" x2="348" y2="365.12" stroke="#333" stroke-width="0.6"/>
<line x1="354.12" y1="371.2" x2="354.12" y2="372.4" stroke="#333" stroke-width="0.6"/>
<line x1="360.25" y1="371.2" x2="360.25" y2="372.4" stroke="#333" stroke-width="0.6"/>
<line x1="366.38" y1="371.2" x2="366.38" y2="372.4" stroke="#333" stroke-width="0.6"/>
<line x1="372.5" y1="371.2" x2="372.5" y2="373.7" stroke="#333" stroke-width="0.6"/>
<line x1="378.62" y1="371.2" x2="378.62" y2="372.4" stroke="#333" stroke-width="0.6"/>
<line x1="384.75" y1="371.2" x2="384.75" y2="372.4" stroke="#333" stroke-width="0.6"/>
<line x1="390.88" y1="371.2" x2="390.88" y2="372.4" stroke="#333" stroke-width="0.6"/>
<line x1="397" y1="371.2" x2="397" y2="373.7" stroke="#333" stroke-width="0.6"/>
<line x1="403.12" y1="371.2" x2="403.12" y2="372.4" stroke="#333" stroke-width="0.6"/>
<line x1="409.25" y1="371.2" x2="409.25" y2="372.4" stroke="#333" stroke-width="0.6"/>
<line x1="415.38" y1="371.2" x2="415.38" y2="372.4" stroke="#333" stroke-width="0.6"/>
<line x1="421.5" y1="371.2" x2="421.5" y2="373.7" stroke="#333" stroke-width="0.6"/>
<line x1="427.62" y1="371.2" x2="427.62" y2="372.4" stroke="#333" stroke-width="0.6"/>
<line x1="433.75" y1="371.2" x2="433.75" y2="372.4" stroke="#333" stroke-width="0.6"/>
<line x1="439.88" y1="371.2" x2="439.88" y2="372.4" stroke="#333" stroke-width="0.6"/>
<rect x="464" y="274" width="97.5" height="97.2" fill="none" stroke="#111" stroke-width="1.3"/>
<line x1="462.8" y1="280.07" x2="464" y2="280.07" stroke="#333" stroke-width="0.6"/>
<line x1="462.8" y1="286.15" x2="464" y2="286.15" stroke="#333" stroke-width="0.6"/>
<line x1="462.8" y1="292.23" x2="464" y2="292.23" stroke="#333" stroke-width="0.6"/>
<line x1="461.5" y1="298.3" x2="464" y2="298.3" stroke="#333" stroke-width="0.6"/>
<line x1="462.8" y1="304.38" x2="464" y2="304.38" stroke="#333" stroke-width="0.6"/>
<line x1="462.8" y1="310.45" x2="464" y2="310.45" stroke="#333" stroke-width="0.6"/>
<line x1="462.8" y1="316.52" x2="464" y2="316.52" stroke="#333" stroke-width="0.6"/>
<line x1="461.5" y1="322.6" x2="464" y2="322.6" stroke="#333" stroke-width="0.6"/>
<line x1="462.8" y1="328.68" x2="464" y2="328.68" stroke="#333" stroke-width="0.6"/>
<line x1="462.8" y1="334.75" x2="464" y2="334.75" stroke="#333" stroke-width="0.6"/>
<line x1="462.8" y1="340.82" x2="464" y2="340.82" stroke="#333" stroke-width="0.6"/>
<line x1="461.5" y1="346.9" x2="464" y2="346.9" stroke="#333" stroke-width="0.6"/>
<line x1="462.8" y1="352.98" x2="464" y2="352.98" stroke="#333" stroke-width="0.6"/>
<line x1="462.8" y1="359.05" x2="464" y2="359.05" stroke="#333" stroke-width="0.6"/>
<line x1="462.8" y1="365.12" x2="464" y2="365.12" stroke="#333" stroke-width="0.6"/>
<line x1="470.09" y1="371.2" x2="470.09" y2="372.4" stroke="#333" stroke-width="0.6"/>
<line x1="476.19" y1="371.2" x2="476.19" y2="372.4" stroke="#333" stroke-width="0.6"/>
<line x1="482.28" y1="371.2" x2="482.28" y2="372.4" stroke="#333" stroke-width="0.6"/>
<line x1="488.38" y1="371.2" x2="488.38" y2="373.7" stroke="#333" stroke-width="0.6"/>
<line x1="494.47" y1="371.2" x2="494.47" y2="372.4" stroke="#333" stroke-width="0.6"/>
<line x1="500.56" y1="371.2" x2="500.56" y2="372.4" stroke="#333" stroke-width="0.6"/>
<line x1="506.66" y1="371.2" x2="506.66" y2="372.4" stroke="#333" stroke-width="0.6"/>
<line x1="512.75" y1="371.2" x2="512.75" y2="373.7" stroke="#333" stroke-width="0.6"/>
<line x1="518.84" y1="371.2" x2="518.84" y2="372.4" stroke="#333" stroke-width="0.6"/>
<line x1="524.94" y1="371.2" x2="524.94" y2="372.4" stroke="#333" stroke-width="0.6"/>
<line x1="531.03" y1="371.2" x2="531.03" y2="372.4" stroke="#333" stroke-width="0.6"/>
<line x1="537.12" y1="371.2" x2="537.12" y2="373.7" stroke="#333" stroke-width="0.6"/>
<line x1="543.22" y1="371.2" x2="543.22" y2="372.4" stroke="#333" stroke-width="0.6"/>
<line x1="549.31" y1="371.2" x2="549.31" y2="372.4" stroke="#333" stroke-width="0.6"/>
<line x1="555.41" y1="371.2" x2="555.41" y2="372.4" stroke="#333" stroke-width="0.6"/>
<rect x="287.4" y="39.3" width="24" height="84.4" fill="none" stroke="#3a2e2e" stroke-width="1"/>
<line x1="311.4" y1="72" x2="335.8" y2="72" stroke="#111" stroke-width="0.9"/>
<path d="M335.3 70 L339.8 72 L335.3 74 Z" fill="#111"/>
<rect x="285.7" y="158.3" width="25.4" height="71.3" fill="none" stroke="#3a2e2e" stroke-width="1"/>
<line x1="311.1" y1="202.1" x2="335.8" y2="202.1" stroke="#111" stroke-width="0.9"/>
<path d="M335.3 200.1 L339.8 202.1 L335.3 204.1 Z" fill="#111"/>
<rect x="283.6" y="276.4" width="26.1" height="69.2" fill="none" stroke="#3a2e2e" stroke-width="1"/>
<line x1="309.7" y1="321.2" x2="335.8" y2="321.2" stroke="#111" stroke-width="0.9"/>
<path d="M335.3 319.2 L339.8 321.2 L335.3 323.2 Z" fill="#111"/>
<path d="M362.28 72.6 L353.2 72.6 L353.2 40 L455 40" fill="none" stroke="#3a2e2e" stroke-width="0.9"/>
<line x1="446" y1="40" x2="456.5" y2="40" stroke="#111" stroke-width="0.9"/>
<path d="M456 38 L460.5 40 L456 42 Z" fill="#111"/>
<path d="M358 81.3 L366.8 63.4 L386 63.4 L390.4 67.3 L382.6 94.5 L366.8 94.5 Z" fill="none" stroke="#3a2e2e" stroke-width="1.1"/>
<path d="M395.7 53.8 L420.9 53.8 L420.9 111.1 L384 111.1 L384 95 Z" fill="none" stroke="#3a2e2e" stroke-width="1.1"/>
<path d="M364.59 191.8 L353.2 191.8 L353.2 159 L455 159" fill="none" stroke="#3a2e2e" stroke-width="0.9"/>
<line x1="446" y1="159" x2="456.5" y2="159" stroke="#111" stroke-width="0.9"/>
<path d="M456 157 L460.5 159 L456 161 Z" fill="#111"/>
<path d="M358.5 201.1 L369.9 183.7 L386.4 183.7 L391.1 187.1 L383.1 214.4 L367 214.4 Z" fill="none" stroke="#3a2e2e" stroke-width="1.1"/>
<path d="M395.5 174.2 L421.5 174.2 L421.5 231.1 L384.5 231.1 L384.5 214.4 Z" fill="none" stroke="#3a2e2e" stroke-width="1.1"/>
<path d="M364.18 310.4 L353.2 310.4 L353.2 277.5 L455 277.5" fill="none" stroke="#3a2e2e" stroke-width="0.9"/>
<line x1="446" y1="277.5" x2="456.5" y2="277.5" stroke="#111" stroke-width="0.9"/>
<path d="M456 275.5 L460.5 277.5 L456 279.5 Z" fill="#111"/>
<path d="M358.5 319.8 L369.5 301.6 L386 301.6 L390.4 305 L382.2 333.1 L366 333.1 Z" fill="none" stroke="#3a2e2e" stroke-width="1.1"/>
<path d="M394.9 294.6 L420.7 294.6 L420.7 351.2 L383.5 351.2 L383.5 333.5 Z" fill="none" stroke="#3a2e2e" stroke-width="1.1"/>
<path d="M498.7 55.6 L531.1 55.6 L531.1 78.2 L506.6 78.2 L498.7 71.3 Z" fill="none" stroke="#111" stroke-width="1.1"/>
<path d="M498.5 174.7 L531.5 174.7 L531.5 198.3 L505.9 198.3 L498.5 190.9 Z" fill="none" stroke="#111" stroke-width="1.1"/>
<path d="M498.5 292.7 L532 292.7 L532 315.9 L505.5 315.9 L498.5 308.8 Z" fill="none" stroke="#111" stroke-width="1.1"/>
<text x="255.9" y="49" font-size="9" stroke="#1a1a1a" stroke-width="0.14">CD15<tspan font-size="5.4" dy="-3.42">+</tspan><tspan dy="3.42"> </tspan></text>
<text x="259.8" y="60.6" font-size="9" stroke="#1a1a1a" stroke-width="0.14">70.8</text>
<text x="256.8" y="181" font-size="9" stroke="#1a1a1a" stroke-width="0.14">71.1</text>
<text x="257.8" y="303.7" font-size="9" stroke="#1a1a1a" stroke-width="0.14">74.0</text>
<text x="354" y="50.7" font-size="9" stroke="#1a1a1a" stroke-width="0.14">CD10<tspan font-size="5.4" dy="-3.4">-</tspan><tspan dy="3.4">CD49d</tspan><tspan font-size="5.4" dy="-3.4">+</tspan></text>
<text x="363.6" y="60.3" font-size="9" stroke="#1a1a1a" stroke-width="0.14">0.32</text>
<text x="441.6" y="123.7" font-size="9" text-anchor="end" stroke="#1a1a1a" stroke-width="0.14">Mature</text>
<text x="437" y="132" font-size="9" text-anchor="end" stroke="#1a1a1a" stroke-width="0.14">97.3</text>
<text x="369.9" y="179.3" font-size="9" stroke="#1a1a1a" stroke-width="0.14">4.58</text>
<text x="419.6" y="243.4" font-size="9" stroke="#1a1a1a" stroke-width="0.14">94.4</text>
<text x="369.3" y="298.4" font-size="9" stroke="#1a1a1a" stroke-width="0.14">1.04</text>
<text x="418.6" y="362.5" font-size="9" stroke="#1a1a1a" stroke-width="0.14">98.1</text>
<text x="468" y="48.4" font-size="9" stroke="#1a1a1a" stroke-width="0.14">Immature LDNs</text>
<text x="476.8" y="58.2" font-size="9" stroke="#1a1a1a" stroke-width="0.14">26.7</text>
<text x="477" y="172.6" font-size="9" stroke="#1a1a1a" stroke-width="0.14">95.2</text>
<text x="475.7" y="293.3" font-size="9" stroke="#1a1a1a" stroke-width="0.14">95.5</text>
<text transform="translate(227.3 369.8) rotate(-90)" font-size="10.3" stroke="#1a1a1a" stroke-width="0.14" textLength="38.5" lengthAdjust="spacingAndGlyphs">SSC-H</text>
<text x="229.5" y="384" font-size="10.3" stroke="#1a1a1a" stroke-width="0.14" textLength="32" lengthAdjust="spacingAndGlyphs">CD15</text>
<text transform="translate(344.2 369.8) rotate(-90)" font-size="10.3" stroke="#1a1a1a" stroke-width="0.14" textLength="38" lengthAdjust="spacingAndGlyphs">CD49d</text>
<text x="347" y="383.8" font-size="10.3" stroke="#1a1a1a" stroke-width="0.14" textLength="31.3" lengthAdjust="spacingAndGlyphs">CD10</text>
<text transform="translate(457.6 370.8) rotate(-90)" font-size="10.3" stroke="#1a1a1a" stroke-width="0.14" textLength="19" lengthAdjust="spacingAndGlyphs">Ig κ</text>
<text x="462.3" y="385" font-size="10.3" stroke="#1a1a1a" stroke-width="0.14" textLength="38.6" lengthAdjust="spacingAndGlyphs">CD49d</text>
<line x1="607" y1="58" x2="607" y2="171.65" stroke="#111" stroke-width="1.3"/>
<line x1="603" y1="171" x2="607" y2="171" stroke="#111" stroke-width="1.3"/>
<text transform="translate(600.5 174.1) scale(1.16 1)" font-size="8.3" text-anchor="end" fill="#222" stroke="#222" stroke-width="0.14">0</text>
<line x1="603" y1="138.8" x2="607" y2="138.8" stroke="#111" stroke-width="1.3"/>
<text transform="translate(600.5 141.9) scale(1.16 1)" font-size="8.3" text-anchor="end" fill="#222" stroke="#222" stroke-width="0.14">1</text>
<line x1="603" y1="106.6" x2="607" y2="106.6" stroke="#111" stroke-width="1.3"/>
<text transform="translate(600.5 109.7) scale(1.16 1)" font-size="8.3" text-anchor="end" fill="#222" stroke="#222" stroke-width="0.14">2</text>
<line x1="603" y1="74.4" x2="607" y2="74.4" stroke="#111" stroke-width="1.3"/>
<text transform="translate(600.5 77.5) scale(1.16 1)" font-size="8.3" text-anchor="end" fill="#222" stroke="#222" stroke-width="0.14">3</text>
<line x1="602.5" y1="171" x2="675" y2="171" stroke="#111" stroke-width="1.3"/>
<line x1="621.5" y1="171" x2="621.5" y2="175.5" stroke="#111" stroke-width="1.3"/>
<line x1="640.5" y1="171" x2="640.5" y2="175.5" stroke="#111" stroke-width="1.3"/>
<line x1="659.7" y1="171" x2="659.7" y2="175.5" stroke="#111" stroke-width="1.3"/>
<text x="609.1" y="188" font-size="11.2" stroke="#1a1a1a" stroke-width="0.14" textLength="16" lengthAdjust="spacingAndGlyphs">HC</text>
<text x="631.7" y="188" font-size="11.2" stroke="#1a1a1a" stroke-width="0.14" textLength="16.1" lengthAdjust="spacingAndGlyphs">HP</text>
<text x="652.6" y="188" font-size="11.2" stroke="#1a1a1a" stroke-width="0.14" textLength="27.3" lengthAdjust="spacingAndGlyphs">GDM</text>
<text transform="translate(586.1 119.8) rotate(-90)" font-size="11.8" text-anchor="middle" stroke="#1a1a1a" stroke-width="0.14" textLength="86.8" lengthAdjust="spacingAndGlyphs">% in CD45<tspan font-size="7.08" dy="-4.48">+</tspan><tspan dy="4.48"> </tspan>cells</text>
<line x1="626.3" y1="52.4" x2="657" y2="52.4" stroke="#111" stroke-width="1"/>
<path d="M640.9 44.35 L641.64 46.08 L643.52 46.25 L642.1 47.49 L642.52 49.32 L640.9 48.37 L639.28 49.32 L639.7 47.49 L638.28 46.25 L640.16 46.08 Z" fill="#111"/>
<line x1="620.8" y1="63.5" x2="639.8" y2="63.5" stroke="#111" stroke-width="1"/>
<path d="M623.4 55.45 L624.14 57.18 L626.02 57.35 L624.6 58.59 L625.02 60.42 L623.4 59.47 L621.78 60.42 L622.2 58.59 L620.78 57.35 L622.66 57.18 Z" fill="#111"/>
<path d="M629.4 55.45 L630.14 57.18 L632.02 57.35 L630.6 58.59 L631.02 60.42 L629.4 59.47 L627.78 60.42 L628.2 58.59 L626.78 57.35 L628.66 57.18 Z" fill="#111"/>
<path d="M635.4 55.45 L636.14 57.18 L638.02 57.35 L636.6 58.59 L637.02 60.42 L635.4 59.47 L633.78 60.42 L634.2 58.59 L632.78 57.35 L634.66 57.18 Z" fill="#111"/>
<line x1="642" y1="63.5" x2="661.1" y2="63.5" stroke="#111" stroke-width="1"/>
<path d="M649 55.45 L649.74 57.18 L651.62 57.35 L650.2 58.59 L650.62 60.42 L649 59.47 L647.38 60.42 L647.8 58.59 L646.38 57.35 L648.26 57.18 Z" fill="#111"/>
<path d="M655 55.45 L655.74 57.18 L657.62 57.35 L656.2 58.59 L656.62 60.42 L655 59.47 L653.38 60.42 L653.8 58.59 L652.38 57.35 L654.26 57.18 Z" fill="#111"/>
<circle cx="621.4" cy="162.8" r="2.35" fill="#dcdcdc" stroke="#8a8a8a" stroke-width="0.55"/>
<circle cx="617.6" cy="165.8" r="2.35" fill="#dcdcdc" stroke="#8a8a8a" stroke-width="0.55"/>
<circle cx="624.6" cy="166.6" r="2.35" fill="#dcdcdc" stroke="#8a8a8a" stroke-width="0.55"/>
<circle cx="615.8" cy="168.4" r="2.35" fill="#dcdcdc" stroke="#8a8a8a" stroke-width="0.55"/>
<circle cx="621.4" cy="169.3" r="2.35" fill="#dcdcdc" stroke="#8a8a8a" stroke-width="0.55"/>
<circle cx="626.3" cy="169.3" r="2.35" fill="#dcdcdc" stroke="#8a8a8a" stroke-width="0.55"/>
<circle cx="619" cy="169.5" r="2.35" fill="#dcdcdc" stroke="#8a8a8a" stroke-width="0.55"/>
<circle cx="645.6" cy="80.3" r="2.35" fill="#3ba2a9" stroke="#1d5a5f" stroke-width="0.55"/>
<circle cx="640.3" cy="84.3" r="2.35" fill="#3ba2a9" stroke="#1d5a5f" stroke-width="0.55"/>
<circle cx="640.3" cy="93.4" r="2.35" fill="#3ba2a9" stroke="#1d5a5f" stroke-width="0.55"/>
<circle cx="640.7" cy="111.5" r="2.35" fill="#3ba2a9" stroke="#1d5a5f" stroke-width="0.55"/>
<circle cx="635.1" cy="114.1" r="2.35" fill="#3ba2a9" stroke="#1d5a5f" stroke-width="0.55"/>
<circle cx="645.9" cy="113.7" r="2.35" fill="#3ba2a9" stroke="#1d5a5f" stroke-width="0.55"/>
<circle cx="640.7" cy="117.6" r="2.35" fill="#3ba2a9" stroke="#1d5a5f" stroke-width="0.55"/>
<circle cx="635.1" cy="121.1" r="2.35" fill="#3ba2a9" stroke="#1d5a5f" stroke-width="0.55"/>
<circle cx="640.7" cy="124.6" r="2.35" fill="#3ba2a9" stroke="#1d5a5f" stroke-width="0.55"/>
<circle cx="635.1" cy="136.5" r="2.35" fill="#3ba2a9" stroke="#1d5a5f" stroke-width="0.55"/>
<circle cx="640.7" cy="140.4" r="2.35" fill="#3ba2a9" stroke="#1d5a5f" stroke-width="0.55"/>
<circle cx="638.2" cy="148.3" r="2.35" fill="#3ba2a9" stroke="#1d5a5f" stroke-width="0.55"/>
<circle cx="643.3" cy="149.1" r="2.35" fill="#3ba2a9" stroke="#1d5a5f" stroke-width="0.55"/>
<circle cx="640.7" cy="160" r="2.35" fill="#3ba2a9" stroke="#1d5a5f" stroke-width="0.55"/>
<line x1="634.1" y1="121.1" x2="647.3" y2="121.1" stroke="#111" stroke-width="1.4"/>
<line x1="640.7" y1="114.6" x2="640.7" y2="127.6" stroke="#111" stroke-width="1.4"/>
<line x1="637.6" y1="114.6" x2="643.8" y2="114.6" stroke="#111" stroke-width="1.4"/>
<line x1="637.6" y1="127.6" x2="643.8" y2="127.6" stroke="#111" stroke-width="1.4"/>
<circle cx="659.6" cy="101" r="2.35" fill="#a77ccb" stroke="#5a3d74" stroke-width="0.55"/>
<circle cx="661.4" cy="120.8" r="2.35" fill="#a77ccb" stroke="#5a3d74" stroke-width="0.55"/>
<circle cx="657.9" cy="125.1" r="2.35" fill="#a77ccb" stroke="#5a3d74" stroke-width="0.55"/>
<circle cx="661.4" cy="132.1" r="2.35" fill="#a77ccb" stroke="#5a3d74" stroke-width="0.55"/>
<circle cx="657.9" cy="136" r="2.35" fill="#a77ccb" stroke="#5a3d74" stroke-width="0.55"/>
<circle cx="659.6" cy="144.8" r="2.35" fill="#a77ccb" stroke="#5a3d74" stroke-width="0.55"/>
<circle cx="657.9" cy="149.1" r="2.35" fill="#a77ccb" stroke="#5a3d74" stroke-width="0.55"/>
<circle cx="663.1" cy="149.1" r="2.35" fill="#a77ccb" stroke="#5a3d74" stroke-width="0.55"/>
<circle cx="661.4" cy="157.9" r="2.35" fill="#a77ccb" stroke="#5a3d74" stroke-width="0.55"/>
<circle cx="654.3" cy="161.7" r="2.35" fill="#a77ccb" stroke="#5a3d74" stroke-width="0.55"/>
<circle cx="659.6" cy="161.7" r="2.35" fill="#a77ccb" stroke="#5a3d74" stroke-width="0.55"/>
<circle cx="664.9" cy="161.7" r="2.35" fill="#a77ccb" stroke="#5a3d74" stroke-width="0.55"/>
<circle cx="657.9" cy="167.5" r="2.35" fill="#a77ccb" stroke="#5a3d74" stroke-width="0.55"/>
<line x1="652.6" y1="145.3" x2="666.6" y2="145.3" stroke="#111" stroke-width="1.4"/>
<line x1="659.6" y1="140" x2="659.6" y2="150.9" stroke="#111" stroke-width="1.4"/>
<line x1="656.5" y1="140" x2="662.7" y2="140" stroke="#111" stroke-width="1.4"/>
<line x1="656.5" y1="150.9" x2="662.7" y2="150.9" stroke="#111" stroke-width="1.4"/>
<line x1="609.7" y1="232.3" x2="609.7" y2="345.55" stroke="#111" stroke-width="1.3"/>
<line x1="605.7" y1="344.9" x2="609.7" y2="344.9" stroke="#111" stroke-width="1.3"/>
<text transform="translate(603.3 348) scale(1.16 1)" font-size="8.3" text-anchor="end" fill="#222" stroke="#222" stroke-width="0.14">0</text>
<line x1="605.7" y1="316.75" x2="609.7" y2="316.75" stroke="#111" stroke-width="1.3"/>
<text transform="translate(603.3 319.85) scale(1.16 1)" font-size="8.3" text-anchor="end" fill="#222" stroke="#222" stroke-width="0.14">10</text>
<line x1="605.7" y1="288.6" x2="609.7" y2="288.6" stroke="#111" stroke-width="1.3"/>
<text transform="translate(603.3 291.7) scale(1.16 1)" font-size="8.3" text-anchor="end" fill="#222" stroke="#222" stroke-width="0.14">20</text>
<line x1="605.7" y1="260.45" x2="609.7" y2="260.45" stroke="#111" stroke-width="1.3"/>
<text transform="translate(603.3 263.55) scale(1.16 1)" font-size="8.3" text-anchor="end" fill="#222" stroke="#222" stroke-width="0.14">30</text>
<line x1="605.7" y1="232.3" x2="609.7" y2="232.3" stroke="#111" stroke-width="1.3"/>
<text transform="translate(603.3 235.4) scale(1.16 1)" font-size="8.3" text-anchor="end" fill="#222" stroke="#222" stroke-width="0.14">40</text>
<line x1="605.4" y1="344.9" x2="677.7" y2="344.9" stroke="#111" stroke-width="1.3"/>
<line x1="624.1" y1="344.9" x2="624.1" y2="349.4" stroke="#111" stroke-width="1.3"/>
<line x1="643.4" y1="344.9" x2="643.4" y2="349.4" stroke="#111" stroke-width="1.3"/>
<line x1="662.1" y1="344.9" x2="662.1" y2="349.4" stroke="#111" stroke-width="1.3"/>
<text x="612.7" y="361.4" font-size="11.2" stroke="#1a1a1a" stroke-width="0.14" textLength="16.1" lengthAdjust="spacingAndGlyphs">HC</text>
<text x="635.8" y="361.4" font-size="11.2" stroke="#1a1a1a" stroke-width="0.14" textLength="15.6" lengthAdjust="spacingAndGlyphs">HP</text>
<text x="656.5" y="361.4" font-size="11.2" stroke="#1a1a1a" stroke-width="0.14" textLength="27" lengthAdjust="spacingAndGlyphs">GDM</text>
<text transform="translate(585.9 289) rotate(-90)" font-size="11.8" text-anchor="middle" stroke="#1a1a1a" stroke-width="0.14" textLength="91" lengthAdjust="spacingAndGlyphs">Cells per mL<tspan font-size="8.6">(x10</tspan><tspan font-size="5.5" dy="-3.5">3</tspan><tspan font-size="8.6" dy="3.5">)</tspan></text>
<line x1="628.3" y1="223.4" x2="658" y2="223.4" stroke="#111" stroke-width="1"/>
<path d="M640.5 215.65 L641.24 217.38 L643.12 217.55 L641.7 218.79 L642.12 220.62 L640.5 219.66 L638.88 220.62 L639.3 218.79 L637.88 217.55 L639.76 217.38 Z" fill="#111"/>
<path d="M646.5 215.65 L647.24 217.38 L649.12 217.55 L647.7 218.79 L648.12 220.62 L646.5 219.66 L644.88 220.62 L645.3 218.79 L643.88 217.55 L645.76 217.38 Z" fill="#111"/>
<line x1="621.7" y1="234.9" x2="641.3" y2="234.9" stroke="#111" stroke-width="1"/>
<path d="M625.2 226.85 L625.94 228.58 L627.82 228.75 L626.4 229.99 L626.82 231.82 L625.2 230.86 L623.58 231.82 L624 229.99 L622.58 228.75 L624.46 228.58 Z" fill="#111"/>
<path d="M631.2 226.85 L631.94 228.58 L633.82 228.75 L632.4 229.99 L632.82 231.82 L631.2 230.86 L629.58 231.82 L630 229.99 L628.58 228.75 L630.46 228.58 Z" fill="#111"/>
<path d="M637.2 226.85 L637.94 228.58 L639.82 228.75 L638.4 229.99 L638.82 231.82 L637.2 230.86 L635.58 231.82 L636 229.99 L634.58 228.75 L636.46 228.58 Z" fill="#111"/>
<line x1="645" y1="234.9" x2="664" y2="234.9" stroke="#111" stroke-width="1.1"/>
<text x="654.5" y="232.3" font-size="8.8" text-anchor="middle" fill="#222" stroke="#222" stroke-width="0.14">ns</text>
<circle cx="618" cy="344.6" r="2.35" fill="#dcdcdc" stroke="#8a8a8a" stroke-width="0.55"/>
<circle cx="621.5" cy="344.6" r="2.35" fill="#dcdcdc" stroke="#8a8a8a" stroke-width="0.55"/>
<circle cx="625" cy="344.6" r="2.35" fill="#dcdcdc" stroke="#8a8a8a" stroke-width="0.55"/>
<circle cx="628.5" cy="344.6" r="2.35" fill="#dcdcdc" stroke="#8a8a8a" stroke-width="0.55"/>
<circle cx="630.5" cy="344.6" r="2.35" fill="#dcdcdc" stroke="#8a8a8a" stroke-width="0.55"/>
<circle cx="643.1" cy="251.9" r="2.35" fill="#a77ccb" stroke="#5a3d74" stroke-width="0.55"/>
<circle cx="643.1" cy="264.9" r="2.35" fill="#a77ccb" stroke="#5a3d74" stroke-width="0.55"/>
<circle cx="648.2" cy="266.2" r="2.35" fill="#a77ccb" stroke="#5a3d74" stroke-width="0.55"/>
<circle cx="643.1" cy="269.9" r="2.35" fill="#a77ccb" stroke="#5a3d74" stroke-width="0.55"/>
<circle cx="643.1" cy="284.4" r="2.35" fill="#a77ccb" stroke="#5a3d74" stroke-width="0.55"/>
<circle cx="638.5" cy="299.7" r="2.35" fill="#a77ccb" stroke="#5a3d74" stroke-width="0.55"/>
<circle cx="648.2" cy="299.3" r="2.35" fill="#a77ccb" stroke="#5a3d74" stroke-width="0.55"/>
<circle cx="643.1" cy="302.7" r="2.35" fill="#a77ccb" stroke="#5a3d74" stroke-width="0.55"/>
<circle cx="638.5" cy="323.5" r="2.35" fill="#a77ccb" stroke="#5a3d74" stroke-width="0.55"/>
<circle cx="643.1" cy="327.8" r="2.35" fill="#a77ccb" stroke="#5a3d74" stroke-width="0.55"/>
<circle cx="638.5" cy="333.2" r="2.35" fill="#a77ccb" stroke="#5a3d74" stroke-width="0.55"/>
<circle cx="648.2" cy="333.2" r="2.35" fill="#a77ccb" stroke="#5a3d74" stroke-width="0.55"/>
<circle cx="643.1" cy="333.5" r="2.35" fill="#a77ccb" stroke="#5a3d74" stroke-width="0.55"/>
<line x1="636.5" y1="298.9" x2="649.7" y2="298.9" stroke="#111" stroke-width="1.4"/>
<line x1="643.1" y1="291.9" x2="643.1" y2="307.1" stroke="#111" stroke-width="1.4"/>
<line x1="640" y1="291.9" x2="646.2" y2="291.9" stroke="#111" stroke-width="1.4"/>
<line x1="640" y1="307.1" x2="646.2" y2="307.1" stroke="#111" stroke-width="1.4"/>
<circle cx="662.1" cy="242.6" r="2.35" fill="#3ba2a9" stroke="#1d5a5f" stroke-width="0.55"/>
<circle cx="662.1" cy="274.6" r="2.35" fill="#3ba2a9" stroke="#1d5a5f" stroke-width="0.55"/>
<circle cx="662.1" cy="294.7" r="2.35" fill="#3ba2a9" stroke="#1d5a5f" stroke-width="0.55"/>
<circle cx="662.1" cy="305.3" r="2.35" fill="#3ba2a9" stroke="#1d5a5f" stroke-width="0.55"/>
<circle cx="657.5" cy="317" r="2.35" fill="#3ba2a9" stroke="#1d5a5f" stroke-width="0.55"/>
<circle cx="667" cy="317" r="2.35" fill="#3ba2a9" stroke="#1d5a5f" stroke-width="0.55"/>
<circle cx="657.5" cy="323.5" r="2.35" fill="#3ba2a9" stroke="#1d5a5f" stroke-width="0.55"/>
<circle cx="667" cy="325.3" r="2.35" fill="#3ba2a9" stroke="#1d5a5f" stroke-width="0.55"/>
<circle cx="662.1" cy="329.1" r="2.35" fill="#3ba2a9" stroke="#1d5a5f" stroke-width="0.55"/>
<circle cx="657.5" cy="335" r="2.35" fill="#3ba2a9" stroke="#1d5a5f" stroke-width="0.55"/>
<circle cx="667" cy="335" r="2.35" fill="#3ba2a9" stroke="#1d5a5f" stroke-width="0.55"/>
<circle cx="662.1" cy="341.2" r="2.35" fill="#3ba2a9" stroke="#1d5a5f" stroke-width="0.55"/>
<circle cx="662.1" cy="318.8" r="2.35" fill="#3ba2a9" stroke="#1d5a5f" stroke-width="0.55"/>
<line x1="655.5" y1="314.2" x2="668.7" y2="314.2" stroke="#111" stroke-width="1.4"/>
<line x1="662.1" y1="307.7" x2="662.1" y2="321.6" stroke="#111" stroke-width="1.4"/>
<line x1="659" y1="307.7" x2="665.2" y2="307.7" stroke="#111" stroke-width="1.4"/>
<line x1="659" y1="321.6" x2="665.2" y2="321.6" stroke="#111" stroke-width="1.4"/>
<text transform="translate(24.9 187.5) scale(1.15 1)" font-size="13.8" font-weight="bold" fill="#000">C</text>
<line x1="102.2" y1="201.5" x2="102.2" y2="314.75" stroke="#111" stroke-width="1.3"/>
<line x1="98.2" y1="202.7" x2="102.2" y2="202.7" stroke="#111" stroke-width="1.3"/>
<text transform="translate(96 205.8) scale(1.16 1)" font-size="8.3" text-anchor="end" fill="#222" stroke="#222" stroke-width="0.14">0.08</text>
<line x1="98.2" y1="230.55" x2="102.2" y2="230.55" stroke="#111" stroke-width="1.3"/>
<text transform="translate(96 233.65) scale(1.16 1)" font-size="8.3" text-anchor="end" fill="#222" stroke="#222" stroke-width="0.14">0.06</text>
<line x1="98.2" y1="258.4" x2="102.2" y2="258.4" stroke="#111" stroke-width="1.3"/>
<text transform="translate(96 261.5) scale(1.16 1)" font-size="8.3" text-anchor="end" fill="#222" stroke="#222" stroke-width="0.14">0.04</text>
<line x1="98.2" y1="286.25" x2="102.2" y2="286.25" stroke="#111" stroke-width="1.3"/>
<text transform="translate(96 289.35) scale(1.16 1)" font-size="8.3" text-anchor="end" fill="#222" stroke="#222" stroke-width="0.14">0.02</text>
<line x1="98.2" y1="314.1" x2="102.2" y2="314.1" stroke="#111" stroke-width="1.3"/>
<text transform="translate(96 317.2) scale(1.16 1)" font-size="8.3" text-anchor="end" fill="#222" stroke="#222" stroke-width="0.14">0.00</text>
<line x1="97.5" y1="314.1" x2="169.5" y2="314.1" stroke="#111" stroke-width="1.3"/>
<line x1="122.8" y1="314.1" x2="122.8" y2="318.5" stroke="#111" stroke-width="1.3"/>
<line x1="148.9" y1="314.1" x2="148.9" y2="318.5" stroke="#111" stroke-width="1.3"/>
<text x="113" y="330" font-size="11.2" stroke="#1a1a1a" stroke-width="0.14" textLength="16.8" lengthAdjust="spacingAndGlyphs">HP</text>
<text x="139.1" y="330" font-size="11.2" stroke="#1a1a1a" stroke-width="0.14" textLength="28.1" lengthAdjust="spacingAndGlyphs">GDM</text>
<text transform="translate(70.3 253.2) rotate(-90)" font-size="11.8" text-anchor="middle" stroke="#1a1a1a" stroke-width="0.14" textLength="94.1" lengthAdjust="spacingAndGlyphs">Imm. to Mat. ratio</text>
<line x1="121.6" y1="205.5" x2="146.1" y2="205.5" stroke="#111" stroke-width="1"/>
<path d="M134.5 196.75 L135.24 198.48 L137.12 198.65 L135.7 199.89 L136.12 201.72 L134.5 200.76 L132.88 201.72 L133.3 199.89 L131.88 198.65 L133.76 198.48 Z" fill="#111"/>
<circle cx="122.3" cy="225.4" r="2.35" fill="#3ba2a9" stroke="#1d5a5f" stroke-width="0.55"/>
<circle cx="122.3" cy="231.9" r="2.35" fill="#3ba2a9" stroke="#1d5a5f" stroke-width="0.55"/>
<circle cx="122.3" cy="254.1" r="2.35" fill="#3ba2a9" stroke="#1d5a5f" stroke-width="0.55"/>
<circle cx="130.5" cy="272.8" r="2.35" fill="#3ba2a9" stroke="#1d5a5f" stroke-width="0.55"/>
<circle cx="122.3" cy="276.3" r="2.35" fill="#3ba2a9" stroke="#1d5a5f" stroke-width="0.55"/>
<circle cx="130.5" cy="277.9" r="2.35" fill="#3ba2a9" stroke="#1d5a5f" stroke-width="0.55"/>
<circle cx="114.6" cy="284.5" r="2.35" fill="#3ba2a9" stroke="#1d5a5f" stroke-width="0.55"/>
<circle cx="130.5" cy="286.1" r="2.35" fill="#3ba2a9" stroke="#1d5a5f" stroke-width="0.55"/>
<circle cx="114.6" cy="296.1" r="2.35" fill="#3ba2a9" stroke="#1d5a5f" stroke-width="0.55"/>
<circle cx="122.3" cy="298.5" r="2.35" fill="#3ba2a9" stroke="#1d5a5f" stroke-width="0.55"/>
<circle cx="130.5" cy="302.7" r="2.35" fill="#3ba2a9" stroke="#1d5a5f" stroke-width="0.55"/>
<circle cx="114.6" cy="306" r="2.35" fill="#3ba2a9" stroke="#1d5a5f" stroke-width="0.55"/>
<line x1="112.3" y1="277.9" x2="132.3" y2="277.9" stroke="#111" stroke-width="1.4"/>
<line x1="122.3" y1="270.9" x2="122.3" y2="284.5" stroke="#111" stroke-width="1.4"/>
<line x1="118.8" y1="270.9" x2="125.8" y2="270.9" stroke="#111" stroke-width="1.4"/>
<line x1="118.8" y1="284.5" x2="125.8" y2="284.5" stroke="#111" stroke-width="1.4"/>
<circle cx="148.9" cy="267.4" r="2.35" fill="#a77ccb" stroke="#5a3d74" stroke-width="0.55"/>
<circle cx="145" cy="278.6" r="2.35" fill="#a77ccb" stroke="#5a3d74" stroke-width="0.55"/>
<circle cx="153.1" cy="282.8" r="2.35" fill="#a77ccb" stroke="#5a3d74" stroke-width="0.55"/>
<circle cx="148.9" cy="291.5" r="2.35" fill="#a77ccb" stroke="#5a3d74" stroke-width="0.55"/>
<circle cx="148.9" cy="297.3" r="2.35" fill="#a77ccb" stroke="#5a3d74" stroke-width="0.55"/>
<circle cx="145" cy="300.8" r="2.35" fill="#a77ccb" stroke="#5a3d74" stroke-width="0.55"/>
<circle cx="141.5" cy="306.7" r="2.35" fill="#a77ccb" stroke="#5a3d74" stroke-width="0.55"/>
<circle cx="157.4" cy="306.7" r="2.35" fill="#a77ccb" stroke="#5a3d74" stroke-width="0.55"/>
<circle cx="141.5" cy="311.3" r="2.35" fill="#a77ccb" stroke="#5a3d74" stroke-width="0.55"/>
<circle cx="148.9" cy="311.3" r="2.35" fill="#a77ccb" stroke="#5a3d74" stroke-width="0.55"/>
<circle cx="157.4" cy="311.3" r="2.35" fill="#a77ccb" stroke="#5a3d74" stroke-width="0.55"/>
<circle cx="153.1" cy="300.5" r="2.35" fill="#a77ccb" stroke="#5a3d74" stroke-width="0.55"/>
<line x1="140.2" y1="297.3" x2="157.6" y2="297.3" stroke="#111" stroke-width="1.4"/>
<line x1="148.9" y1="293.1" x2="148.9" y2="301.5" stroke="#111" stroke-width="1.4"/>
<line x1="145.4" y1="293.1" x2="152.4" y2="293.1" stroke="#111" stroke-width="1.4"/>
<line x1="145.4" y1="301.5" x2="152.4" y2="301.5" stroke="#111" stroke-width="1.4"/>
<text transform="translate(1.1 409.7) scale(1.15 1)" font-size="13.8" font-weight="bold" fill="#000">D</text>
<rect x="24.9" y="419.9" width="103.2" height="102" fill="#ebf4fb"/>
<rect x="128.1" y="419.9" width="136.6" height="102" fill="#e7deed"/>
<text x="29.6" y="432.8" font-size="11.5" stroke="#1a1a1a" stroke-width="0.14">EP</text>
<text x="261.2" y="433.5" font-size="11.5" text-anchor="end" stroke="#1a1a1a" stroke-width="0.14">MP</text>
<text x="93.6" y="446" font-size="11.8" text-anchor="middle" stroke="#1a1a1a" stroke-width="0.14" textLength="48.5" lengthAdjust="spacingAndGlyphs">Periphral</text>
<text x="93.6" y="460.8" font-size="11.8" text-anchor="middle" stroke="#1a1a1a" stroke-width="0.14">blood</text>
<path d="M89.31 474.9 V501.11 A2.69 2.69 0 0 0 94.69 501.11 V474.9 Z" fill="#f1f1f1" stroke="#d0d0d0" stroke-width="0.5"/>
<path d="M89.61 478.37 V501.11 A2.39 2.39 0 0 0 94.39 501.11 V478.37 Z" fill="#b13a45"/>
<rect x="89.85" y="479.52" width="2.26" height="18.21" fill="#f0f0e8"/>
<rect x="88.8" y="465.9" width="6.4" height="9" rx="0.9" fill="#dd682b"/>
<line x1="102.2" y1="484.5" x2="121.2" y2="484.5" stroke="#222" stroke-width="1.2"/>
<path d="M120.7 481.5 L126.7 484.5 L120.7 487.5 Z" fill="#222"/>
<text x="159.3" y="483.3" font-size="11.8" text-anchor="middle" stroke="#1a1a1a" stroke-width="0.14" textLength="52" lengthAdjust="spacingAndGlyphs">Immature</text>
<text x="159.3" y="497.8" font-size="11.8" text-anchor="middle" stroke="#1a1a1a" stroke-width="0.14">LDN</text>
<path d="M68 512.7 L68 507.8 L186.4 507.8 L186.4 512" fill="none" stroke="#222" stroke-width="1.1"/>
<text x="227" y="513.7" font-size="11.8" font-weight="bold" fill="#111" textLength="33.5" lengthAdjust="spacingAndGlyphs">OGTT</text>
<line x1="24.9" y1="522.2" x2="267" y2="522.2" stroke="#222" stroke-width="1.3"/>
<path d="M266 518.6 L272.8 522.2 L266 525.8 Z" fill="#222"/>
<line x1="66.8" y1="517.6" x2="66.8" y2="526.2" stroke="#222" stroke-width="1.3"/>
<line x1="127.1" y1="517.6" x2="127.1" y2="526.2" stroke="#222" stroke-width="1.3"/>
<line x1="186.9" y1="517.6" x2="186.9" y2="526.2" stroke="#222" stroke-width="1.3"/>
<line x1="244.1" y1="517.6" x2="244.1" y2="526.2" stroke="#222" stroke-width="1.3"/>
<text x="23.5" y="539" font-size="11.8" stroke="#1a1a1a" stroke-width="0.14" textLength="30.7" lengthAdjust="spacingAndGlyphs">Week</text>
<text x="66.4" y="539" font-size="11.8" text-anchor="middle" stroke="#1a1a1a" stroke-width="0.14">10</text>
<text x="127.1" y="539" font-size="11.8" text-anchor="middle" stroke="#1a1a1a" stroke-width="0.14">14</text>
<text x="187.6" y="539" font-size="11.8" text-anchor="middle" stroke="#1a1a1a" stroke-width="0.14">18</text>
<text x="244.1" y="539" font-size="11.8" text-anchor="middle" stroke="#1a1a1a" stroke-width="0.14">24-28</text>
<text transform="translate(290.2 409.7) scale(1.15 1)" font-size="13.8" font-weight="bold" fill="#000">E</text>
<line x1="387.2" y1="504.7" x2="408.8" y2="504.7" stroke="#111" stroke-width="1.4"/>
<line x1="398" y1="500.8" x2="398" y2="508.4" stroke="#111" stroke-width="1.4"/>
<line x1="395" y1="500.8" x2="401" y2="500.8" stroke="#111" stroke-width="1.4"/>
<line x1="395" y1="508.4" x2="401" y2="508.4" stroke="#111" stroke-width="1.4"/>
<circle cx="364.8" cy="525.69" r="2.5" fill="#8db5e4" stroke="#4a6e98" stroke-width="0.55"/>
<circle cx="367.93" cy="525.63" r="2.5" fill="#8db5e4" stroke="#4a6e98" stroke-width="0.55"/>
<circle cx="361.68" cy="525.57" r="2.5" fill="#8db5e4" stroke="#4a6e98" stroke-width="0.55"/>
<circle cx="371.05" cy="525.46" r="2.5" fill="#8db5e4" stroke="#4a6e98" stroke-width="0.55"/>
<circle cx="358.55" cy="524.67" r="2.5" fill="#8db5e4" stroke="#4a6e98" stroke-width="0.55"/>
<circle cx="374.18" cy="524.62" r="2.5" fill="#8db5e4" stroke="#4a6e98" stroke-width="0.55"/>
<circle cx="355.43" cy="524.62" r="2.5" fill="#8db5e4" stroke="#4a6e98" stroke-width="0.55"/>
<circle cx="364.8" cy="524.39" r="2.5" fill="#8db5e4" stroke="#4a6e98" stroke-width="0.55"/>
<circle cx="367.93" cy="524.11" r="2.5" fill="#8db5e4" stroke="#4a6e98" stroke-width="0.55"/>
<circle cx="361.68" cy="523.94" r="2.5" fill="#8db5e4" stroke="#4a6e98" stroke-width="0.55"/>
<circle cx="371.05" cy="523.83" r="2.5" fill="#8db5e4" stroke="#4a6e98" stroke-width="0.55"/>
<circle cx="358.55" cy="523.83" r="2.5" fill="#8db5e4" stroke="#4a6e98" stroke-width="0.55"/>
<circle cx="374.18" cy="522.75" r="2.5" fill="#8db5e4" stroke="#4a6e98" stroke-width="0.55"/>
<circle cx="355.43" cy="522.7" r="2.5" fill="#8db5e4" stroke="#4a6e98" stroke-width="0.55"/>
<circle cx="364.8" cy="522.59" r="2.5" fill="#8db5e4" stroke="#4a6e98" stroke-width="0.55"/>
<circle cx="367.93" cy="522.47" r="2.5" fill="#8db5e4" stroke="#4a6e98" stroke-width="0.55"/>
<circle cx="361.68" cy="522.3" r="2.5" fill="#8db5e4" stroke="#4a6e98" stroke-width="0.55"/>
<circle cx="371.05" cy="522.13" r="2.5" fill="#8db5e4" stroke="#4a6e98" stroke-width="0.55"/>
<circle cx="358.55" cy="522.13" r="2.5" fill="#8db5e4" stroke="#4a6e98" stroke-width="0.55"/>
<circle cx="374.18" cy="521.57" r="2.5" fill="#8db5e4" stroke="#4a6e98" stroke-width="0.55"/>
<circle cx="355.43" cy="521.51" r="2.5" fill="#8db5e4" stroke="#4a6e98" stroke-width="0.55"/>
<circle cx="364.8" cy="520.89" r="2.5" fill="#8db5e4" stroke="#4a6e98" stroke-width="0.55"/>
<circle cx="367.93" cy="520.78" r="2.5" fill="#8db5e4" stroke="#4a6e98" stroke-width="0.55"/>
<circle cx="361.68" cy="520.16" r="2.5" fill="#8db5e4" stroke="#4a6e98" stroke-width="0.55"/>
<circle cx="371.05" cy="520.05" r="2.5" fill="#8db5e4" stroke="#4a6e98" stroke-width="0.55"/>
<circle cx="358.55" cy="519.99" r="2.5" fill="#8db5e4" stroke="#4a6e98" stroke-width="0.55"/>
<circle cx="374.18" cy="519.65" r="2.5" fill="#8db5e4" stroke="#4a6e98" stroke-width="0.55"/>
<circle cx="355.43" cy="519.03" r="2.5" fill="#8db5e4" stroke="#4a6e98" stroke-width="0.55"/>
<circle cx="364.8" cy="518.47" r="2.5" fill="#8db5e4" stroke="#4a6e98" stroke-width="0.55"/>
<circle cx="367.93" cy="517.34" r="2.5" fill="#8db5e4" stroke="#4a6e98" stroke-width="0.55"/>
<circle cx="364.8" cy="515.65" r="2.5" fill="#8db5e4" stroke="#4a6e98" stroke-width="0.55"/>
<circle cx="367.93" cy="513.39" r="2.5" fill="#8db5e4" stroke="#4a6e98" stroke-width="0.55"/>
<circle cx="364.8" cy="510.57" r="2.5" fill="#8db5e4" stroke="#4a6e98" stroke-width="0.55"/>
<circle cx="367.93" cy="508.88" r="2.5" fill="#8db5e4" stroke="#4a6e98" stroke-width="0.55"/>
<circle cx="364.8" cy="497.6" r="2.5" fill="#8db5e4" stroke="#4a6e98" stroke-width="0.55"/>
<circle cx="364.8" cy="494.78" r="2.5" fill="#8db5e4" stroke="#4a6e98" stroke-width="0.55"/>
<circle cx="398" cy="522.98" r="2.5" fill="#ddaaae" stroke="#9a6a6e" stroke-width="0.55"/>
<circle cx="401.12" cy="522.42" r="2.5" fill="#ddaaae" stroke="#9a6a6e" stroke-width="0.55"/>
<circle cx="394.88" cy="521.85" r="2.5" fill="#ddaaae" stroke="#9a6a6e" stroke-width="0.55"/>
<circle cx="404.25" cy="521.29" r="2.5" fill="#ddaaae" stroke="#9a6a6e" stroke-width="0.55"/>
<circle cx="391.75" cy="520.72" r="2.5" fill="#ddaaae" stroke="#9a6a6e" stroke-width="0.55"/>
<circle cx="398" cy="520.16" r="2.5" fill="#ddaaae" stroke="#9a6a6e" stroke-width="0.55"/>
<circle cx="401.12" cy="519.6" r="2.5" fill="#ddaaae" stroke="#9a6a6e" stroke-width="0.55"/>
<circle cx="394.88" cy="519.03" r="2.5" fill="#ddaaae" stroke="#9a6a6e" stroke-width="0.55"/>
<circle cx="407.38" cy="519.03" r="2.5" fill="#ddaaae" stroke="#9a6a6e" stroke-width="0.55"/>
<circle cx="404.25" cy="518.47" r="2.5" fill="#ddaaae" stroke="#9a6a6e" stroke-width="0.55"/>
<circle cx="391.75" cy="517.9" r="2.5" fill="#ddaaae" stroke="#9a6a6e" stroke-width="0.55"/>
<circle cx="398" cy="517.34" r="2.5" fill="#ddaaae" stroke="#9a6a6e" stroke-width="0.55"/>
<circle cx="401.12" cy="516.78" r="2.5" fill="#ddaaae" stroke="#9a6a6e" stroke-width="0.55"/>
<circle cx="394.88" cy="515.65" r="2.5" fill="#ddaaae" stroke="#9a6a6e" stroke-width="0.55"/>
<circle cx="398" cy="514.52" r="2.5" fill="#ddaaae" stroke="#9a6a6e" stroke-width="0.55"/>
<circle cx="401.12" cy="513.39" r="2.5" fill="#ddaaae" stroke="#9a6a6e" stroke-width="0.55"/>
<circle cx="394.88" cy="512.26" r="2.5" fill="#ddaaae" stroke="#9a6a6e" stroke-width="0.55"/>
<circle cx="398" cy="511.14" r="2.5" fill="#ddaaae" stroke="#9a6a6e" stroke-width="0.55"/>
<circle cx="401.12" cy="510.01" r="2.5" fill="#ddaaae" stroke="#9a6a6e" stroke-width="0.55"/>
<circle cx="394.88" cy="508.88" r="2.5" fill="#ddaaae" stroke="#9a6a6e" stroke-width="0.55"/>
<circle cx="404.25" cy="508.88" r="2.5" fill="#ddaaae" stroke="#9a6a6e" stroke-width="0.55"/>
<circle cx="398" cy="507.19" r="2.5" fill="#ddaaae" stroke="#9a6a6e" stroke-width="0.55"/>
<circle cx="401.12" cy="506.06" r="2.5" fill="#ddaaae" stroke="#9a6a6e" stroke-width="0.55"/>
<circle cx="398" cy="504.37" r="2.5" fill="#ddaaae" stroke="#9a6a6e" stroke-width="0.55"/>
<circle cx="401.12" cy="503.24" r="2.5" fill="#ddaaae" stroke="#9a6a6e" stroke-width="0.55"/>
<circle cx="398" cy="501.55" r="2.5" fill="#ddaaae" stroke="#9a6a6e" stroke-width="0.55"/>
<circle cx="401.12" cy="500.42" r="2.5" fill="#ddaaae" stroke="#9a6a6e" stroke-width="0.55"/>
<circle cx="398" cy="498.73" r="2.5" fill="#ddaaae" stroke="#9a6a6e" stroke-width="0.55"/>
<circle cx="401.12" cy="496.47" r="2.5" fill="#ddaaae" stroke="#9a6a6e" stroke-width="0.55"/>
<circle cx="398" cy="493.65" r="2.5" fill="#ddaaae" stroke="#9a6a6e" stroke-width="0.55"/>
<circle cx="398" cy="475.04" r="2.5" fill="#ddaaae" stroke="#9a6a6e" stroke-width="0.55"/>
<circle cx="398" cy="455.3" r="2.5" fill="#ddaaae" stroke="#9a6a6e" stroke-width="0.55"/>
<circle cx="398" cy="452.48" r="2.5" fill="#ddaaae" stroke="#9a6a6e" stroke-width="0.55"/>
<circle cx="398" cy="435.56" r="2.5" fill="#ddaaae" stroke="#9a6a6e" stroke-width="0.55"/>
<line x1="354.6" y1="519.3" x2="375.6" y2="519.3" stroke="#111" stroke-width="1.6"/>
<line x1="387.2" y1="504.7" x2="409" y2="504.7" stroke="#111" stroke-width="1.6"/>
<line x1="344.3" y1="412.4" x2="344.3" y2="526.45" stroke="#111" stroke-width="1.3"/>
<line x1="340.3" y1="413" x2="344.3" y2="413" stroke="#111" stroke-width="1.3"/>
<text transform="translate(336.5 416.1) scale(1.16 1)" font-size="8.3" text-anchor="end" fill="#222" stroke="#222" stroke-width="0.14">2.0</text>
<line x1="340.3" y1="441.2" x2="344.3" y2="441.2" stroke="#111" stroke-width="1.3"/>
<text transform="translate(336.5 444.3) scale(1.16 1)" font-size="8.3" text-anchor="end" fill="#222" stroke="#222" stroke-width="0.14">1.5</text>
<line x1="340.3" y1="469.4" x2="344.3" y2="469.4" stroke="#111" stroke-width="1.3"/>
<text transform="translate(336.5 472.5) scale(1.16 1)" font-size="8.3" text-anchor="end" fill="#222" stroke="#222" stroke-width="0.14">1.0</text>
<line x1="340.3" y1="497.6" x2="344.3" y2="497.6" stroke="#111" stroke-width="1.3"/>
<text transform="translate(336.5 500.7) scale(1.16 1)" font-size="8.3" text-anchor="end" fill="#222" stroke="#222" stroke-width="0.14">0.5</text>
<line x1="340.3" y1="525.8" x2="344.3" y2="525.8" stroke="#111" stroke-width="1.3"/>
<text transform="translate(336.5 528.9) scale(1.16 1)" font-size="8.3" text-anchor="end" fill="#222" stroke="#222" stroke-width="0.14">0.0</text>
<line x1="340" y1="525.8" x2="420" y2="525.8" stroke="#111" stroke-width="1.3"/>
<line x1="364.8" y1="525.8" x2="364.8" y2="530.3" stroke="#111" stroke-width="1.3"/>
<line x1="397.8" y1="525.8" x2="397.8" y2="530.3" stroke="#111" stroke-width="1.3"/>
<text transform="translate(365.5 542.3) scale(1.05 1)" font-size="11" text-anchor="middle" stroke="#1a1a1a" stroke-width="0.14">EP</text>
<text transform="translate(396.5 542.3) scale(1.05 1)" font-size="11" text-anchor="middle" stroke="#1a1a1a" stroke-width="0.14">MP</text>
<text transform="translate(317.3 470.1) rotate(-90)" font-size="11.8" text-anchor="middle" stroke="#1a1a1a" stroke-width="0.14" textLength="88.9" lengthAdjust="spacingAndGlyphs">% in CD45<tspan font-size="7.08" dy="-4.48">+</tspan><tspan dy="4.48"> </tspan>cells</text>
<line x1="364.2" y1="425" x2="389.5" y2="425" stroke="#111" stroke-width="1.5"/>
<path d="M370.8 415.85 L371.54 417.58 L373.42 417.75 L372 418.99 L372.42 420.82 L370.8 419.87 L369.18 420.82 L369.6 418.99 L368.18 417.75 L370.06 417.58 Z" fill="#111"/>
<path d="M377 415.85 L377.74 417.58 L379.62 417.75 L378.2 418.99 L378.62 420.82 L377 419.87 L375.38 420.82 L375.8 418.99 L374.38 417.75 L376.26 417.58 Z" fill="#111"/>
<path d="M383.2 415.85 L383.94 417.58 L385.82 417.75 L384.4 418.99 L384.82 420.82 L383.2 419.87 L381.58 420.82 L382 418.99 L380.58 417.75 L382.46 417.58 Z" fill="#111"/>
<text transform="translate(457.6 409.9) scale(1.15 1)" font-size="13.8" font-weight="bold" fill="#000">F</text>
<rect x="503" y="415" width="42.3" height="111.4" fill="#f8f8f8"/>
<rect x="545.3" y="415" width="39.6" height="111.4" fill="#f0f1f1"/>
<rect x="584.9" y="415" width="41.3" height="111.4" fill="#e6e7e7"/>
<rect x="626.2" y="415" width="44.6" height="111.4" fill="#dcdcdc"/>
<circle cx="516" cy="525.85" r="2.5" fill="#3ba2a9" stroke="#1d5a5f" stroke-width="0.55"/>
<circle cx="522.25" cy="525.29" r="2.5" fill="#3ba2a9" stroke="#1d5a5f" stroke-width="0.55"/>
<circle cx="509.75" cy="525.29" r="2.5" fill="#3ba2a9" stroke="#1d5a5f" stroke-width="0.55"/>
<circle cx="519.12" cy="524.74" r="2.5" fill="#3ba2a9" stroke="#1d5a5f" stroke-width="0.55"/>
<circle cx="512.88" cy="524.74" r="2.5" fill="#3ba2a9" stroke="#1d5a5f" stroke-width="0.55"/>
<circle cx="522.25" cy="524.18" r="2.5" fill="#3ba2a9" stroke="#1d5a5f" stroke-width="0.55"/>
<circle cx="509.75" cy="523.63" r="2.5" fill="#3ba2a9" stroke="#1d5a5f" stroke-width="0.55"/>
<circle cx="516" cy="523.63" r="2.5" fill="#3ba2a9" stroke="#1d5a5f" stroke-width="0.55"/>
<circle cx="519.12" cy="523.07" r="2.5" fill="#3ba2a9" stroke="#1d5a5f" stroke-width="0.55"/>
<circle cx="512.88" cy="522.52" r="2.5" fill="#3ba2a9" stroke="#1d5a5f" stroke-width="0.55"/>
<circle cx="522.25" cy="521.96" r="2.5" fill="#3ba2a9" stroke="#1d5a5f" stroke-width="0.55"/>
<circle cx="509.75" cy="521.96" r="2.5" fill="#3ba2a9" stroke="#1d5a5f" stroke-width="0.55"/>
<circle cx="516" cy="521.41" r="2.5" fill="#3ba2a9" stroke="#1d5a5f" stroke-width="0.55"/>
<circle cx="522.25" cy="520.86" r="2.5" fill="#3ba2a9" stroke="#1d5a5f" stroke-width="0.55"/>
<circle cx="509.75" cy="520.3" r="2.5" fill="#3ba2a9" stroke="#1d5a5f" stroke-width="0.55"/>
<circle cx="519.12" cy="519.75" r="2.5" fill="#3ba2a9" stroke="#1d5a5f" stroke-width="0.55"/>
<circle cx="512.88" cy="518.64" r="2.5" fill="#3ba2a9" stroke="#1d5a5f" stroke-width="0.55"/>
<circle cx="522.25" cy="517.53" r="2.5" fill="#3ba2a9" stroke="#1d5a5f" stroke-width="0.55"/>
<circle cx="516" cy="516.42" r="2.5" fill="#3ba2a9" stroke="#1d5a5f" stroke-width="0.55"/>
<circle cx="509.75" cy="515.31" r="2.5" fill="#3ba2a9" stroke="#1d5a5f" stroke-width="0.55"/>
<circle cx="516" cy="510.32" r="2.5" fill="#3ba2a9" stroke="#1d5a5f" stroke-width="0.55"/>
<circle cx="516" cy="495.9" r="2.5" fill="#3ba2a9" stroke="#1d5a5f" stroke-width="0.55"/>
<circle cx="556" cy="525.85" r="2.5" fill="#3ba2a9" stroke="#1d5a5f" stroke-width="0.55"/>
<circle cx="562.25" cy="525.29" r="2.5" fill="#3ba2a9" stroke="#1d5a5f" stroke-width="0.55"/>
<circle cx="549.75" cy="525.29" r="2.5" fill="#3ba2a9" stroke="#1d5a5f" stroke-width="0.55"/>
<circle cx="559.12" cy="524.74" r="2.5" fill="#3ba2a9" stroke="#1d5a5f" stroke-width="0.55"/>
<circle cx="552.88" cy="524.18" r="2.5" fill="#3ba2a9" stroke="#1d5a5f" stroke-width="0.55"/>
<circle cx="562.25" cy="524.18" r="2.5" fill="#3ba2a9" stroke="#1d5a5f" stroke-width="0.55"/>
<circle cx="549.75" cy="523.63" r="2.5" fill="#3ba2a9" stroke="#1d5a5f" stroke-width="0.55"/>
<circle cx="556" cy="523.07" r="2.5" fill="#3ba2a9" stroke="#1d5a5f" stroke-width="0.55"/>
<circle cx="559.12" cy="522.52" r="2.5" fill="#3ba2a9" stroke="#1d5a5f" stroke-width="0.55"/>
<circle cx="549.75" cy="521.96" r="2.5" fill="#3ba2a9" stroke="#1d5a5f" stroke-width="0.55"/>
<circle cx="562.25" cy="521.41" r="2.5" fill="#3ba2a9" stroke="#1d5a5f" stroke-width="0.55"/>
<circle cx="552.88" cy="520.86" r="2.5" fill="#3ba2a9" stroke="#1d5a5f" stroke-width="0.55"/>
<circle cx="556" cy="519.75" r="2.5" fill="#3ba2a9" stroke="#1d5a5f" stroke-width="0.55"/>
<circle cx="549.75" cy="518.08" r="2.5" fill="#3ba2a9" stroke="#1d5a5f" stroke-width="0.55"/>
<circle cx="559.12" cy="516.42" r="2.5" fill="#3ba2a9" stroke="#1d5a5f" stroke-width="0.55"/>
<circle cx="552.88" cy="514.2" r="2.5" fill="#3ba2a9" stroke="#1d5a5f" stroke-width="0.55"/>
<circle cx="559.12" cy="511.98" r="2.5" fill="#3ba2a9" stroke="#1d5a5f" stroke-width="0.55"/>
<circle cx="552.88" cy="509.76" r="2.5" fill="#3ba2a9" stroke="#1d5a5f" stroke-width="0.55"/>
<circle cx="559.12" cy="507.55" r="2.5" fill="#3ba2a9" stroke="#1d5a5f" stroke-width="0.55"/>
<circle cx="596.5" cy="520.86" r="2.5" fill="#3ba2a9" stroke="#1d5a5f" stroke-width="0.55"/>
<circle cx="599.62" cy="518.08" r="2.5" fill="#3ba2a9" stroke="#1d5a5f" stroke-width="0.55"/>
<circle cx="593.38" cy="517.53" r="2.5" fill="#3ba2a9" stroke="#1d5a5f" stroke-width="0.55"/>
<circle cx="596.5" cy="514.2" r="2.5" fill="#3ba2a9" stroke="#1d5a5f" stroke-width="0.55"/>
<circle cx="602.75" cy="513.09" r="2.5" fill="#3ba2a9" stroke="#1d5a5f" stroke-width="0.55"/>
<circle cx="596.5" cy="509.76" r="2.5" fill="#3ba2a9" stroke="#1d5a5f" stroke-width="0.55"/>
<circle cx="602.75" cy="508.1" r="2.5" fill="#3ba2a9" stroke="#1d5a5f" stroke-width="0.55"/>
<circle cx="590.25" cy="507.55" r="2.5" fill="#3ba2a9" stroke="#1d5a5f" stroke-width="0.55"/>
<circle cx="599.62" cy="506.44" r="2.5" fill="#3ba2a9" stroke="#1d5a5f" stroke-width="0.55"/>
<circle cx="593.38" cy="504.22" r="2.5" fill="#3ba2a9" stroke="#1d5a5f" stroke-width="0.55"/>
<circle cx="599.62" cy="502" r="2.5" fill="#3ba2a9" stroke="#1d5a5f" stroke-width="0.55"/>
<circle cx="593.38" cy="499.78" r="2.5" fill="#3ba2a9" stroke="#1d5a5f" stroke-width="0.55"/>
<circle cx="602.75" cy="498.12" r="2.5" fill="#3ba2a9" stroke="#1d5a5f" stroke-width="0.55"/>
<circle cx="636.7" cy="509.76" r="2.5" fill="#3ba2a9" stroke="#1d5a5f" stroke-width="0.55"/>
<circle cx="636.7" cy="500.34" r="2.5" fill="#3ba2a9" stroke="#1d5a5f" stroke-width="0.55"/>
<circle cx="636.7" cy="457.64" r="2.5" fill="#3ba2a9" stroke="#1d5a5f" stroke-width="0.55"/>
<circle cx="642.95" cy="455.42" r="2.5" fill="#3ba2a9" stroke="#1d5a5f" stroke-width="0.55"/>
<circle cx="636.7" cy="436.57" r="2.5" fill="#3ba2a9" stroke="#1d5a5f" stroke-width="0.55"/>
<circle cx="536.1" cy="525.29" r="2.5" fill="#a77ccb" stroke="#5a3d74" stroke-width="0.55"/>
<circle cx="542.35" cy="524.18" r="2.5" fill="#a77ccb" stroke="#5a3d74" stroke-width="0.55"/>
<circle cx="536.1" cy="499.23" r="2.5" fill="#a77ccb" stroke="#5a3d74" stroke-width="0.55"/>
<circle cx="576.5" cy="521.96" r="2.5" fill="#a77ccb" stroke="#5a3d74" stroke-width="0.55"/>
<circle cx="576.5" cy="514.76" r="2.5" fill="#a77ccb" stroke="#5a3d74" stroke-width="0.55"/>
<circle cx="576.5" cy="494.79" r="2.5" fill="#a77ccb" stroke="#5a3d74" stroke-width="0.55"/>
<circle cx="616.6" cy="524.74" r="2.5" fill="#a77ccb" stroke="#5a3d74" stroke-width="0.55"/>
<circle cx="622.85" cy="523.07" r="2.5" fill="#a77ccb" stroke="#5a3d74" stroke-width="0.55"/>
<circle cx="613.48" cy="520.86" r="2.5" fill="#a77ccb" stroke="#5a3d74" stroke-width="0.55"/>
<circle cx="619.73" cy="519.75" r="2.5" fill="#a77ccb" stroke="#5a3d74" stroke-width="0.55"/>
<circle cx="616.6" cy="516.97" r="2.5" fill="#a77ccb" stroke="#5a3d74" stroke-width="0.55"/>
<circle cx="619.73" cy="514.2" r="2.5" fill="#a77ccb" stroke="#5a3d74" stroke-width="0.55"/>
<circle cx="616.6" cy="502" r="2.5" fill="#a77ccb" stroke="#5a3d74" stroke-width="0.55"/>
<circle cx="657" cy="522.52" r="2.5" fill="#a77ccb" stroke="#5a3d74" stroke-width="0.55"/>
<circle cx="660.12" cy="519.19" r="2.5" fill="#a77ccb" stroke="#5a3d74" stroke-width="0.55"/>
<circle cx="657" cy="476.5" r="2.5" fill="#a77ccb" stroke="#5a3d74" stroke-width="0.55"/>
<line x1="511" y1="519.75" x2="521" y2="519.75" stroke="#333" stroke-width="1.1"/>
<line x1="516" y1="521.41" x2="516" y2="518.08" stroke="#333" stroke-width="1.1"/>
<line x1="513" y1="521.41" x2="519" y2="521.41" stroke="#333" stroke-width="1.1"/>
<line x1="513" y1="518.08" x2="519" y2="518.08" stroke="#333" stroke-width="1.1"/>
<line x1="532.5" y1="516.4" x2="539.7" y2="516.4" stroke="#6a6a6a" stroke-width="1.1"/>
<line x1="536.1" y1="508" x2="536.1" y2="525" stroke="#6a6a6a" stroke-width="1.1"/>
<line x1="532.8" y1="508" x2="539.4" y2="508" stroke="#6a6a6a" stroke-width="1.1"/>
<line x1="532.8" y1="525" x2="539.4" y2="525" stroke="#6a6a6a" stroke-width="1.1"/>
<line x1="552" y1="520.3" x2="560" y2="520.3" stroke="#333" stroke-width="1.1"/>
<line x1="556" y1="521.41" x2="556" y2="518.64" stroke="#333" stroke-width="1.1"/>
<line x1="553" y1="521.41" x2="559" y2="521.41" stroke="#333" stroke-width="1.1"/>
<line x1="553" y1="518.64" x2="559" y2="518.64" stroke="#333" stroke-width="1.1"/>
<line x1="573.2" y1="510.9" x2="579.8" y2="510.9" stroke="#6a6a6a" stroke-width="1.1"/>
<line x1="576.5" y1="502.6" x2="576.5" y2="519" stroke="#6a6a6a" stroke-width="1.1"/>
<line x1="573.2" y1="502.6" x2="579.8" y2="502.6" stroke="#6a6a6a" stroke-width="1.1"/>
<line x1="573.2" y1="519" x2="579.8" y2="519" stroke="#6a6a6a" stroke-width="1.1"/>
<line x1="593.2" y1="508.66" x2="599.8" y2="508.66" stroke="#6a6a6a" stroke-width="1.1"/>
<line x1="596.5" y1="511.43" x2="596.5" y2="505.88" stroke="#6a6a6a" stroke-width="1.1"/>
<line x1="593.5" y1="511.43" x2="599.5" y2="511.43" stroke="#6a6a6a" stroke-width="1.1"/>
<line x1="593.5" y1="505.88" x2="599.5" y2="505.88" stroke="#6a6a6a" stroke-width="1.1"/>
<line x1="613.3" y1="516.97" x2="619.9" y2="516.97" stroke="#6a6a6a" stroke-width="1.1"/>
<line x1="616.6" y1="519.75" x2="616.6" y2="514.2" stroke="#6a6a6a" stroke-width="1.1"/>
<line x1="613.6" y1="519.75" x2="619.6" y2="519.75" stroke="#6a6a6a" stroke-width="1.1"/>
<line x1="613.6" y1="514.2" x2="619.6" y2="514.2" stroke="#6a6a6a" stroke-width="1.1"/>
<line x1="633.4" y1="472.06" x2="640" y2="472.06" stroke="#6a6a6a" stroke-width="1.1"/>
<line x1="636.7" y1="485.92" x2="636.7" y2="457.64" stroke="#6a6a6a" stroke-width="1.1"/>
<line x1="633.4" y1="485.92" x2="640" y2="485.92" stroke="#6a6a6a" stroke-width="1.1"/>
<line x1="633.4" y1="457.64" x2="640" y2="457.64" stroke="#6a6a6a" stroke-width="1.1"/>
<line x1="653.7" y1="505.33" x2="660.3" y2="505.33" stroke="#6a6a6a" stroke-width="1.1"/>
<line x1="657" y1="519.19" x2="657" y2="490.91" stroke="#6a6a6a" stroke-width="1.1"/>
<line x1="653.7" y1="519.19" x2="660.3" y2="519.19" stroke="#6a6a6a" stroke-width="1.1"/>
<line x1="653.7" y1="490.91" x2="660.3" y2="490.91" stroke="#6a6a6a" stroke-width="1.1"/>
<line x1="502.3" y1="414.6" x2="502.3" y2="527.05" stroke="#111" stroke-width="1.3"/>
<line x1="498.3" y1="415.5" x2="502.3" y2="415.5" stroke="#111" stroke-width="1.3"/>
<text transform="translate(494.5 418.6) scale(1.16 1)" font-size="8.3" text-anchor="end" fill="#222" stroke="#222" stroke-width="0.14">2.0</text>
<line x1="498.3" y1="443.22" x2="502.3" y2="443.22" stroke="#111" stroke-width="1.3"/>
<text transform="translate(494.5 446.32) scale(1.16 1)" font-size="8.3" text-anchor="end" fill="#222" stroke="#222" stroke-width="0.14">1.5</text>
<line x1="498.3" y1="470.95" x2="502.3" y2="470.95" stroke="#111" stroke-width="1.3"/>
<text transform="translate(494.5 474.05) scale(1.16 1)" font-size="8.3" text-anchor="end" fill="#222" stroke="#222" stroke-width="0.14">1.0</text>
<line x1="498.3" y1="498.67" x2="502.3" y2="498.67" stroke="#111" stroke-width="1.3"/>
<text transform="translate(494.5 501.77) scale(1.16 1)" font-size="8.3" text-anchor="end" fill="#222" stroke="#222" stroke-width="0.14">0.5</text>
<line x1="498.3" y1="526.4" x2="502.3" y2="526.4" stroke="#111" stroke-width="1.3"/>
<text transform="translate(494.5 529.5) scale(1.16 1)" font-size="8.3" text-anchor="end" fill="#222" stroke="#222" stroke-width="0.14">0.0</text>
<line x1="498" y1="526.5" x2="670.8" y2="526.5" stroke="#111" stroke-width="1.3"/>
<line x1="526.8" y1="526.5" x2="526.8" y2="531" stroke="#111" stroke-width="1.3"/>
<line x1="565.8" y1="526.5" x2="565.8" y2="531" stroke="#111" stroke-width="1.3"/>
<line x1="604.6" y1="526.5" x2="604.6" y2="531" stroke="#111" stroke-width="1.3"/>
<line x1="643.3" y1="526.5" x2="643.3" y2="531" stroke="#111" stroke-width="1.3"/>
<text x="488.3" y="542.8" font-size="10" fill="#222" stroke="#222" stroke-width="0.14" textLength="22.6" lengthAdjust="spacingAndGlyphs">Week</text>
<text transform="translate(527.2 542.8) scale(1.04 1)" font-size="10" text-anchor="middle" fill="#222" stroke="#222" stroke-width="0.14">11-12</text>
<text transform="translate(564.3 542.8) scale(1.04 1)" font-size="10" text-anchor="middle" fill="#222" stroke="#222" stroke-width="0.14">13-14</text>
<text transform="translate(601.8 542.8) scale(1.04 1)" font-size="10" text-anchor="middle" fill="#222" stroke="#222" stroke-width="0.14">15-16</text>
<text transform="translate(641.6 542.8) scale(1.04 1)" font-size="10" text-anchor="middle" fill="#222" stroke="#222" stroke-width="0.14">17-18</text>
<circle cx="512.8" cy="423" r="3.4" fill="#3ba2a9" stroke="#1d5a5f" stroke-width="0.6"/>
<circle cx="512.8" cy="437.6" r="3.4" fill="#a77ccb" stroke="#5a3d74" stroke-width="0.6"/>
<text transform="translate(518.6 427.4) scale(1.08 1)" font-size="11.3" stroke="#1a1a1a" stroke-width="0.14">HP</text>
<text transform="translate(518.6 442) scale(1.08 1)" font-size="11.3" stroke="#1a1a1a" stroke-width="0.14">GDM</text>
<text transform="translate(476.2 466.4) rotate(-90)" font-size="11.8" text-anchor="middle" stroke="#1a1a1a" stroke-width="0.14" textLength="86.8" lengthAdjust="spacingAndGlyphs">% in CD45<tspan font-size="7.08" dy="-4.48">+</tspan><tspan dy="4.48"> </tspan>cells</text>
<text transform="translate(0 572) scale(1.15 1)" font-size="13.8" font-weight="bold" fill="#000">G</text>
<text x="115" y="571.4" font-size="11.3" text-anchor="middle" stroke="#1a1a1a" stroke-width="0.14">HP</text>
<circle cx="46.26" cy="680.25" r="2.6" fill="#9a9a9a" fill-opacity="0.62"/>
<circle cx="46.26" cy="682.43" r="2.6" fill="#9a9a9a" fill-opacity="0.62"/>
<circle cx="55.22" cy="665.65" r="2.6" fill="#9a9a9a" fill-opacity="0.62"/>
<circle cx="55.22" cy="674.43" r="2.6" fill="#9a9a9a" fill-opacity="0.62"/>
<circle cx="55.22" cy="676.22" r="2.6" fill="#9a9a9a" fill-opacity="0.62"/>
<circle cx="55.22" cy="678.36" r="2.6" fill="#9a9a9a" fill-opacity="0.62"/>
<circle cx="55.22" cy="680.14" r="2.6" fill="#9a9a9a" fill-opacity="0.62"/>
<circle cx="55.22" cy="681.93" r="2.6" fill="#9a9a9a" fill-opacity="0.62"/>
<circle cx="55.22" cy="683.72" r="2.6" fill="#9a9a9a" fill-opacity="0.62"/>
<circle cx="55.22" cy="684.79" r="2.6" fill="#9a9a9a" fill-opacity="0.62"/>
<circle cx="64.18" cy="673" r="2.6" fill="#9a9a9a" fill-opacity="0.62"/>
<circle cx="64.18" cy="676.22" r="2.6" fill="#9a9a9a" fill-opacity="0.62"/>
<circle cx="64.18" cy="678.72" r="2.6" fill="#9a9a9a" fill-opacity="0.62"/>
<circle cx="64.18" cy="681.22" r="2.6" fill="#9a9a9a" fill-opacity="0.62"/>
<circle cx="64.18" cy="683.36" r="2.6" fill="#9a9a9a" fill-opacity="0.62"/>
<circle cx="64.18" cy="684.79" r="2.6" fill="#9a9a9a" fill-opacity="0.62"/>
<circle cx="73.14" cy="674.43" r="2.6" fill="#9a9a9a" fill-opacity="0.62"/>
<circle cx="73.14" cy="681.57" r="2.6" fill="#9a9a9a" fill-opacity="0.62"/>
<circle cx="82.1" cy="667.11" r="2.6" fill="#9a9a9a" fill-opacity="0.62"/>
<circle cx="82.1" cy="669.43" r="2.6" fill="#9a9a9a" fill-opacity="0.62"/>
<circle cx="82.1" cy="672.29" r="2.6" fill="#9a9a9a" fill-opacity="0.62"/>
<circle cx="82.1" cy="681.57" r="2.6" fill="#9a9a9a" fill-opacity="0.62"/>
<circle cx="91.06" cy="668.72" r="2.6" fill="#9a9a9a" fill-opacity="0.62"/>
<circle cx="91.06" cy="673.36" r="2.6" fill="#9a9a9a" fill-opacity="0.62"/>
<circle cx="91.06" cy="678" r="2.6" fill="#9a9a9a" fill-opacity="0.62"/>
<circle cx="91.06" cy="680.14" r="2.6" fill="#9a9a9a" fill-opacity="0.62"/>
<circle cx="100.02" cy="639.45" r="2.6" fill="#9a9a9a" fill-opacity="0.62"/>
<circle cx="100.02" cy="668.72" r="2.6" fill="#9a9a9a" fill-opacity="0.62"/>
<circle cx="100.02" cy="674.79" r="2.6" fill="#9a9a9a" fill-opacity="0.62"/>
<circle cx="108.98" cy="628.02" r="2.6" fill="#9a9a9a" fill-opacity="0.62"/>
<circle cx="108.98" cy="640.88" r="2.6" fill="#9a9a9a" fill-opacity="0.62"/>
<circle cx="162.74" cy="599.46" r="2.6" fill="#9a9a9a" fill-opacity="0.62"/>
<circle cx="162.74" cy="625.88" r="2.6" fill="#9a9a9a" fill-opacity="0.62"/>
<circle cx="162.74" cy="651.59" r="2.6" fill="#9a9a9a" fill-opacity="0.62"/>
<circle cx="162.74" cy="660.15" r="2.6" fill="#9a9a9a" fill-opacity="0.62"/>
<circle cx="171.7" cy="584.83" r="2.6" fill="#9a9a9a" fill-opacity="0.62"/>
<circle cx="171.7" cy="589.47" r="2.6" fill="#9a9a9a" fill-opacity="0.62"/>
<circle cx="171.7" cy="619.1" r="2.6" fill="#9a9a9a" fill-opacity="0.62"/>
<circle cx="171.7" cy="621.6" r="2.6" fill="#9a9a9a" fill-opacity="0.62"/>
<circle cx="171.7" cy="623.02" r="2.6" fill="#9a9a9a" fill-opacity="0.62"/>
<circle cx="171.7" cy="630.52" r="2.6" fill="#9a9a9a" fill-opacity="0.62"/>
<circle cx="171.7" cy="673.36" r="2.6" fill="#9a9a9a" fill-opacity="0.62"/>
<circle cx="180.66" cy="634.45" r="2.6" fill="#9a9a9a" fill-opacity="0.62"/>
<circle cx="180.66" cy="647.66" r="2.6" fill="#9a9a9a" fill-opacity="0.62"/>
<circle cx="180.66" cy="660.87" r="2.6" fill="#9a9a9a" fill-opacity="0.62"/>
<line x1="52.53" y1="685.5" x2="180.66" y2="626.24" stroke="#3ba2a9" stroke-width="3" stroke-linecap="butt"/>
<polyline points="46.26,685.5 82.1,669.43 130.04,646.23 180.66,618.38" fill="none" stroke="#3ba2a9" stroke-width="0.8"/>
<polyline points="58.8,685.5 82.1,675.15 130.04,654.44 180.66,634.45" fill="none" stroke="#3ba2a9" stroke-width="0.8"/>
<line x1="37.3" y1="577.8" x2="37.3" y2="686.15" stroke="#111" stroke-width="1.3"/>
<line x1="33.3" y1="578.4" x2="37.3" y2="578.4" stroke="#111" stroke-width="1.3"/>
<text transform="translate(30 581.7) scale(1.16 1)" font-size="9.2" text-anchor="end" fill="#222" stroke="#222" stroke-width="0.14">3</text>
<line x1="33.3" y1="614.1" x2="37.3" y2="614.1" stroke="#111" stroke-width="1.3"/>
<text transform="translate(30 617.4) scale(1.16 1)" font-size="9.2" text-anchor="end" fill="#222" stroke="#222" stroke-width="0.14">2</text>
<line x1="33.3" y1="649.8" x2="37.3" y2="649.8" stroke="#111" stroke-width="1.3"/>
<text transform="translate(30 653.1) scale(1.16 1)" font-size="9.2" text-anchor="end" fill="#222" stroke="#222" stroke-width="0.14">1</text>
<line x1="33.3" y1="685.5" x2="37.3" y2="685.5" stroke="#111" stroke-width="1.3"/>
<text transform="translate(30 688.8) scale(1.16 1)" font-size="9.2" text-anchor="end" fill="#222" stroke="#222" stroke-width="0.14">0</text>
<line x1="33" y1="685.5" x2="199" y2="685.5" stroke="#111" stroke-width="1.3"/>
<line x1="37.3" y1="685.5" x2="37.3" y2="689.7" stroke="#111" stroke-width="1.1"/>
<line x1="46.26" y1="685.5" x2="46.26" y2="687.9" stroke="#111" stroke-width="1.1"/>
<line x1="55.22" y1="685.5" x2="55.22" y2="687.9" stroke="#111" stroke-width="1.1"/>
<line x1="64.18" y1="685.5" x2="64.18" y2="687.9" stroke="#111" stroke-width="1.1"/>
<line x1="73.14" y1="685.5" x2="73.14" y2="687.9" stroke="#111" stroke-width="1.1"/>
<line x1="82.1" y1="685.5" x2="82.1" y2="689.7" stroke="#111" stroke-width="1.1"/>
<line x1="91.06" y1="685.5" x2="91.06" y2="687.9" stroke="#111" stroke-width="1.1"/>
<line x1="100.02" y1="685.5" x2="100.02" y2="687.9" stroke="#111" stroke-width="1.1"/>
<line x1="108.98" y1="685.5" x2="108.98" y2="687.9" stroke="#111" stroke-width="1.1"/>
<line x1="117.94" y1="685.5" x2="117.94" y2="687.9" stroke="#111" stroke-width="1.1"/>
<line x1="126.9" y1="685.5" x2="126.9" y2="689.7" stroke="#111" stroke-width="1.1"/>
<line x1="135.86" y1="685.5" x2="135.86" y2="687.9" stroke="#111" stroke-width="1.1"/>
<line x1="144.82" y1="685.5" x2="144.82" y2="687.9" stroke="#111" stroke-width="1.1"/>
<line x1="153.78" y1="685.5" x2="153.78" y2="687.9" stroke="#111" stroke-width="1.1"/>
<line x1="162.74" y1="685.5" x2="162.74" y2="687.9" stroke="#111" stroke-width="1.1"/>
<line x1="171.7" y1="685.5" x2="171.7" y2="689.7" stroke="#111" stroke-width="1.1"/>
<line x1="180.66" y1="685.5" x2="180.66" y2="687.9" stroke="#111" stroke-width="1.1"/>
<line x1="189.62" y1="685.5" x2="189.62" y2="687.9" stroke="#111" stroke-width="1.1"/>
<text x="37.3" y="699" font-size="9.6" text-anchor="middle" fill="#222" stroke="#222" stroke-width="0.14">10</text>
<text x="82.1" y="699" font-size="9.6" text-anchor="middle" fill="#222" stroke="#222" stroke-width="0.14">15</text>
<text x="126.9" y="699" font-size="9.6" text-anchor="middle" fill="#222" stroke="#222" stroke-width="0.14">20</text>
<text x="171.7" y="699" font-size="9.6" text-anchor="middle" fill="#222" stroke="#222" stroke-width="0.14">25</text>
<text x="179" y="698.7" font-size="9.6" fill="#222" stroke="#222" stroke-width="0.14">weeks</text>
<text x="43.8" y="587" font-size="9.2" fill="#222" stroke="#222" stroke-width="0.14">y = 0.10x-1.20</text>
<text x="43.8" y="600.9" font-size="9.2" fill="#222" stroke="#222" stroke-width="0.14">R<tspan font-size="5.5" dy="-3.3">2</tspan><tspan dy="3.3"> = 0.34</tspan></text>
<text x="43.8" y="614.2" font-size="9.2" fill="#222" stroke="#222" stroke-width="0.14"><tspan font-style="italic">P</tspan> &lt; 0.0001</text>
<text transform="translate(19.2 632.8) rotate(-90)" font-size="11.8" text-anchor="middle" stroke="#1a1a1a" stroke-width="0.14" textLength="89.6" lengthAdjust="spacingAndGlyphs">% in CD45<tspan font-size="7.08" dy="-4.48">+</tspan><tspan dy="4.48"> </tspan>cells</text>
<text x="115" y="721.4" font-size="11.3" text-anchor="middle" stroke="#1a1a1a" stroke-width="0.14">GDM</text>
<circle cx="55.22" cy="818.01" r="2.6" fill="#9a9a9a" fill-opacity="0.62"/>
<circle cx="55.22" cy="833.72" r="2.6" fill="#9a9a9a" fill-opacity="0.62"/>
<circle cx="64.18" cy="832.64" r="2.6" fill="#9a9a9a" fill-opacity="0.62"/>
<circle cx="73.14" cy="815.15" r="2.6" fill="#9a9a9a" fill-opacity="0.62"/>
<circle cx="73.14" cy="827.65" r="2.6" fill="#9a9a9a" fill-opacity="0.62"/>
<circle cx="82.1" cy="819.79" r="2.6" fill="#9a9a9a" fill-opacity="0.62"/>
<circle cx="82.1" cy="832.64" r="2.6" fill="#9a9a9a" fill-opacity="0.62"/>
<circle cx="91.06" cy="827.29" r="2.6" fill="#9a9a9a" fill-opacity="0.62"/>
<circle cx="91.06" cy="830.14" r="2.6" fill="#9a9a9a" fill-opacity="0.62"/>
<circle cx="91.06" cy="831.93" r="2.6" fill="#9a9a9a" fill-opacity="0.62"/>
<circle cx="100.02" cy="803.37" r="2.6" fill="#9a9a9a" fill-opacity="0.62"/>
<circle cx="100.02" cy="829.79" r="2.6" fill="#9a9a9a" fill-opacity="0.62"/>
<circle cx="100.02" cy="830.86" r="2.6" fill="#9a9a9a" fill-opacity="0.62"/>
<circle cx="162.74" cy="784.81" r="2.6" fill="#9a9a9a" fill-opacity="0.62"/>
<circle cx="162.74" cy="793.02" r="2.6" fill="#9a9a9a" fill-opacity="0.62"/>
<circle cx="162.74" cy="812.29" r="2.6" fill="#9a9a9a" fill-opacity="0.62"/>
<circle cx="162.74" cy="825.86" r="2.6" fill="#9a9a9a" fill-opacity="0.62"/>
<circle cx="171.7" cy="758.03" r="2.6" fill="#9a9a9a" fill-opacity="0.62"/>
<circle cx="171.7" cy="780.16" r="2.6" fill="#9a9a9a" fill-opacity="0.62"/>
<circle cx="171.7" cy="796.94" r="2.6" fill="#9a9a9a" fill-opacity="0.62"/>
<circle cx="171.7" cy="820.86" r="2.6" fill="#9a9a9a" fill-opacity="0.62"/>
<circle cx="171.7" cy="825.86" r="2.6" fill="#9a9a9a" fill-opacity="0.62"/>
<circle cx="171.7" cy="830.5" r="2.6" fill="#9a9a9a" fill-opacity="0.62"/>
<circle cx="180.66" cy="808.37" r="2.6" fill="#9a9a9a" fill-opacity="0.62"/>
<circle cx="180.66" cy="809.44" r="2.6" fill="#9a9a9a" fill-opacity="0.62"/>
<circle cx="180.66" cy="825.86" r="2.6" fill="#9a9a9a" fill-opacity="0.62"/>
<circle cx="180.66" cy="832.64" r="2.6" fill="#9a9a9a" fill-opacity="0.62"/>
<line x1="54.32" y1="830.29" x2="179.32" y2="806.58" stroke="#a67bcb" stroke-width="3.4" stroke-linecap="butt"/>
<polyline points="54.32,819.79 82.1,817.65 126.9,811.22 179.32,796.23" fill="none" stroke="#a67bcb" stroke-width="0.8" stroke-dasharray="2.2 1.3"/>
<polyline points="76.72,835.5 91.06,831.22 126.9,823.72 179.32,816.4" fill="none" stroke="#a67bcb" stroke-width="0.8" stroke-dasharray="2.2 1.3"/>
<line x1="37.3" y1="727.8" x2="37.3" y2="836.15" stroke="#111" stroke-width="1.3"/>
<line x1="33.3" y1="728.4" x2="37.3" y2="728.4" stroke="#111" stroke-width="1.3"/>
<text transform="translate(30 731.7) scale(1.16 1)" font-size="9.2" text-anchor="end" fill="#222" stroke="#222" stroke-width="0.14">3</text>
<line x1="33.3" y1="764.1" x2="37.3" y2="764.1" stroke="#111" stroke-width="1.3"/>
<text transform="translate(30 767.4) scale(1.16 1)" font-size="9.2" text-anchor="end" fill="#222" stroke="#222" stroke-width="0.14">2</text>
<line x1="33.3" y1="799.8" x2="37.3" y2="799.8" stroke="#111" stroke-width="1.3"/>
<text transform="translate(30 803.1) scale(1.16 1)" font-size="9.2" text-anchor="end" fill="#222" stroke="#222" stroke-width="0.14">1</text>
<line x1="33.3" y1="835.5" x2="37.3" y2="835.5" stroke="#111" stroke-width="1.3"/>
<text transform="translate(30 838.8) scale(1.16 1)" font-size="9.2" text-anchor="end" fill="#222" stroke="#222" stroke-width="0.14">0</text>
<line x1="33" y1="835.5" x2="199" y2="835.5" stroke="#111" stroke-width="1.3"/>
<line x1="37.3" y1="835.5" x2="37.3" y2="839.7" stroke="#111" stroke-width="1.1"/>
<line x1="46.26" y1="835.5" x2="46.26" y2="837.9" stroke="#111" stroke-width="1.1"/>
<line x1="55.22" y1="835.5" x2="55.22" y2="837.9" stroke="#111" stroke-width="1.1"/>
<line x1="64.18" y1="835.5" x2="64.18" y2="837.9" stroke="#111" stroke-width="1.1"/>
<line x1="73.14" y1="835.5" x2="73.14" y2="837.9" stroke="#111" stroke-width="1.1"/>
<line x1="82.1" y1="835.5" x2="82.1" y2="839.7" stroke="#111" stroke-width="1.1"/>
<line x1="91.06" y1="835.5" x2="91.06" y2="837.9" stroke="#111" stroke-width="1.1"/>
<line x1="100.02" y1="835.5" x2="100.02" y2="837.9" stroke="#111" stroke-width="1.1"/>
<line x1="108.98" y1="835.5" x2="108.98" y2="837.9" stroke="#111" stroke-width="1.1"/>
<line x1="117.94" y1="835.5" x2="117.94" y2="837.9" stroke="#111" stroke-width="1.1"/>
<line x1="126.9" y1="835.5" x2="126.9" y2="839.7" stroke="#111" stroke-width="1.1"/>
<line x1="135.86" y1="835.5" x2="135.86" y2="837.9" stroke="#111" stroke-width="1.1"/>
<line x1="144.82" y1="835.5" x2="144.82" y2="837.9" stroke="#111" stroke-width="1.1"/>
<line x1="153.78" y1="835.5" x2="153.78" y2="837.9" stroke="#111" stroke-width="1.1"/>
<line x1="162.74" y1="835.5" x2="162.74" y2="837.9" stroke="#111" stroke-width="1.1"/>
<line x1="171.7" y1="835.5" x2="171.7" y2="839.7" stroke="#111" stroke-width="1.1"/>
<line x1="180.66" y1="835.5" x2="180.66" y2="837.9" stroke="#111" stroke-width="1.1"/>
<line x1="189.62" y1="835.5" x2="189.62" y2="837.9" stroke="#111" stroke-width="1.1"/>
<text x="37.3" y="849" font-size="9.6" text-anchor="middle" fill="#222" stroke="#222" stroke-width="0.14">10</text>
<text x="82.1" y="849" font-size="9.6" text-anchor="middle" fill="#222" stroke="#222" stroke-width="0.14">15</text>
<text x="126.9" y="849" font-size="9.6" text-anchor="middle" fill="#222" stroke="#222" stroke-width="0.14">20</text>
<text x="171.7" y="849" font-size="9.6" text-anchor="middle" fill="#222" stroke="#222" stroke-width="0.14">25</text>
<text x="179" y="848.7" font-size="9.6" fill="#222" stroke="#222" stroke-width="0.14">weeks</text>
<text x="42.6" y="737" font-size="9.2" fill="#222" stroke="#222" stroke-width="0.14">y = 0.49x-0.46</text>
<text x="42.6" y="751.9" font-size="9.2" fill="#222" stroke="#222" stroke-width="0.14">R<tspan font-size="5.5" dy="-3.3">2</tspan><tspan dy="3.3"> = 0.24</tspan></text>
<text x="42.6" y="765" font-size="9.2" fill="#222" stroke="#222" stroke-width="0.14"><tspan font-style="italic">P</tspan> &lt; 0.01</text>
<text transform="translate(19.2 782.8) rotate(-90)" font-size="11.8" text-anchor="middle" stroke="#1a1a1a" stroke-width="0.14" textLength="88.6" lengthAdjust="spacingAndGlyphs">% in CD45<tspan font-size="7.08" dy="-4.48">+</tspan><tspan dy="4.48"> </tspan>cells</text>
<text transform="translate(1.7 881.6) scale(1.15 1)" font-size="13.8" font-weight="bold" fill="#000">H</text>
<circle cx="81" cy="983.4" r="1.75" fill="#7fcbd0" fill-opacity="0.85"/>
<circle cx="81" cy="990.4" r="1.75" fill="#7fcbd0" fill-opacity="0.85"/>
<circle cx="119.9" cy="941.4" r="1.75" fill="#7fcbd0" fill-opacity="0.85"/>
<circle cx="119.9" cy="945.8" r="1.75" fill="#7fcbd0" fill-opacity="0.85"/>
<circle cx="119.9" cy="951.5" r="1.75" fill="#7fcbd0" fill-opacity="0.85"/>
<circle cx="156.7" cy="936.5" r="1.75" fill="#7fcbd0" fill-opacity="0.85"/>
<circle cx="156.7" cy="940.5" r="1.75" fill="#7fcbd0" fill-opacity="0.85"/>
<circle cx="149.7" cy="963" r="1.75" fill="#7fcbd0" fill-opacity="0.85"/>
<circle cx="160.2" cy="979" r="1.75" fill="#7fcbd0" fill-opacity="0.85"/>
<circle cx="149.7" cy="986" r="1.75" fill="#7fcbd0" fill-opacity="0.85"/>
<circle cx="156.7" cy="909.6" r="1.75" fill="#7fcbd0" fill-opacity="0.85"/>
<circle cx="150" cy="920.9" r="1.75" fill="#7fcbd0" fill-opacity="0.85"/>
<circle cx="153.5" cy="929" r="1.75" fill="#7fcbd0" fill-opacity="0.85"/>
<circle cx="156.7" cy="932.1" r="1.75" fill="#7fcbd0" fill-opacity="0.85"/>
<circle cx="81" cy="986" r="1.75" fill="#c9a6de" fill-opacity="0.85"/>
<circle cx="119.9" cy="963.8" r="1.75" fill="#c9a6de" fill-opacity="0.85"/>
<circle cx="117" cy="979" r="1.75" fill="#c9a6de" fill-opacity="0.85"/>
<circle cx="156.7" cy="897.4" r="1.75" fill="#c9a6de" fill-opacity="0.85"/>
<circle cx="160.2" cy="928" r="1.75" fill="#c9a6de" fill-opacity="0.85"/>
<circle cx="153.2" cy="973.3" r="1.75" fill="#c9a6de" fill-opacity="0.85"/>
<circle cx="160.2" cy="973.3" r="1.75" fill="#c9a6de" fill-opacity="0.85"/>
<circle cx="153.2" cy="978.5" r="1.75" fill="#c9a6de" fill-opacity="0.85"/>
<circle cx="156.7" cy="989.2" r="1.75" fill="#c9a6de" fill-opacity="0.85"/>
<circle cx="149.7" cy="993.4" r="1.75" fill="#c9a6de" fill-opacity="0.85"/>
<circle cx="163.7" cy="994.3" r="1.75" fill="#c9a6de" fill-opacity="0.85"/>
<circle cx="156.7" cy="996" r="1.75" fill="#c9a6de" fill-opacity="0.85"/>
<circle cx="153.2" cy="1001" r="1.75" fill="#c9a6de" fill-opacity="0.85"/>
<circle cx="160.2" cy="999.7" r="1.75" fill="#c9a6de" fill-opacity="0.85"/>
<circle cx="84.5" cy="1003.28" r="1.75" fill="#7fcbd0" fill-opacity="0.85"/>
<circle cx="88.12" cy="1001.2" r="1.75" fill="#7fcbd0" fill-opacity="0.85"/>
<circle cx="76.7" cy="1003.21" r="1.75" fill="#7fcbd0" fill-opacity="0.85"/>
<circle cx="69.63" cy="1003.05" r="1.75" fill="#7fcbd0" fill-opacity="0.85"/>
<circle cx="88.63" cy="1001.95" r="1.75" fill="#7fcbd0" fill-opacity="0.85"/>
<circle cx="76.77" cy="1001.36" r="1.75" fill="#7fcbd0" fill-opacity="0.85"/>
<circle cx="75.62" cy="1001.88" r="1.75" fill="#7fcbd0" fill-opacity="0.85"/>
<circle cx="81.61" cy="1002.22" r="1.75" fill="#7fcbd0" fill-opacity="0.85"/>
<circle cx="93.39" cy="1002.96" r="1.75" fill="#7fcbd0" fill-opacity="0.85"/>
<circle cx="84.43" cy="1003.57" r="1.75" fill="#7fcbd0" fill-opacity="0.85"/>
<circle cx="74.67" cy="1001" r="1.75" fill="#7fcbd0" fill-opacity="0.85"/>
<circle cx="84.2" cy="1000.64" r="1.75" fill="#7fcbd0" fill-opacity="0.85"/>
<circle cx="70.36" cy="1002.1" r="1.75" fill="#7fcbd0" fill-opacity="0.85"/>
<circle cx="80.69" cy="1003.34" r="1.75" fill="#7fcbd0" fill-opacity="0.85"/>
<circle cx="84.6" cy="1002.09" r="1.75" fill="#7fcbd0" fill-opacity="0.85"/>
<circle cx="81.42" cy="1001.27" r="1.75" fill="#7fcbd0" fill-opacity="0.85"/>
<circle cx="69.78" cy="1001.1" r="1.75" fill="#7fcbd0" fill-opacity="0.85"/>
<circle cx="86.11" cy="1001.12" r="1.75" fill="#7fcbd0" fill-opacity="0.85"/>
<circle cx="78.37" cy="1000.51" r="1.75" fill="#7fcbd0" fill-opacity="0.85"/>
<circle cx="89.42" cy="1000.98" r="1.75" fill="#7fcbd0" fill-opacity="0.85"/>
<circle cx="75.92" cy="1003.23" r="1.75" fill="#7fcbd0" fill-opacity="0.85"/>
<circle cx="81.73" cy="1003.13" r="1.75" fill="#7fcbd0" fill-opacity="0.85"/>
<circle cx="82.96" cy="1001.97" r="1.75" fill="#c9a6de" fill-opacity="0.85"/>
<circle cx="75.28" cy="1001.16" r="1.75" fill="#c9a6de" fill-opacity="0.85"/>
<circle cx="81.11" cy="1002.49" r="1.75" fill="#c9a6de" fill-opacity="0.85"/>
<circle cx="79.06" cy="1001.39" r="1.75" fill="#c9a6de" fill-opacity="0.85"/>
<circle cx="112.07" cy="994.43" r="1.75" fill="#7fcbd0" fill-opacity="0.85"/>
<circle cx="116.81" cy="991.1" r="1.75" fill="#7fcbd0" fill-opacity="0.85"/>
<circle cx="125.69" cy="994.31" r="1.75" fill="#7fcbd0" fill-opacity="0.85"/>
<circle cx="128.62" cy="997.26" r="1.75" fill="#7fcbd0" fill-opacity="0.85"/>
<circle cx="121.89" cy="997.93" r="1.75" fill="#7fcbd0" fill-opacity="0.85"/>
<circle cx="123.18" cy="991.11" r="1.75" fill="#7fcbd0" fill-opacity="0.85"/>
<circle cx="118.93" cy="992.35" r="1.75" fill="#7fcbd0" fill-opacity="0.85"/>
<circle cx="118.24" cy="990.35" r="1.75" fill="#7fcbd0" fill-opacity="0.85"/>
<circle cx="128.42" cy="992.01" r="1.75" fill="#7fcbd0" fill-opacity="0.85"/>
<circle cx="123.09" cy="993.21" r="1.75" fill="#7fcbd0" fill-opacity="0.85"/>
<circle cx="126.73" cy="998.27" r="1.75" fill="#7fcbd0" fill-opacity="0.85"/>
<circle cx="113.37" cy="1000.83" r="1.75" fill="#7fcbd0" fill-opacity="0.85"/>
<circle cx="128.01" cy="1001.65" r="1.75" fill="#7fcbd0" fill-opacity="0.85"/>
<circle cx="121.25" cy="991.04" r="1.75" fill="#7fcbd0" fill-opacity="0.85"/>
<circle cx="112.62" cy="1002.28" r="1.75" fill="#c9a6de" fill-opacity="0.85"/>
<circle cx="121.26" cy="994.81" r="1.75" fill="#c9a6de" fill-opacity="0.85"/>
<circle cx="129.22" cy="999.42" r="1.75" fill="#c9a6de" fill-opacity="0.85"/>
<circle cx="121.67" cy="996.76" r="1.75" fill="#c9a6de" fill-opacity="0.85"/>
<circle cx="117.86" cy="995.39" r="1.75" fill="#c9a6de" fill-opacity="0.85"/>
<circle cx="108.91" cy="1001.76" r="1.75" fill="#c9a6de" fill-opacity="0.85"/>
<circle cx="119.23" cy="998.48" r="1.75" fill="#c9a6de" fill-opacity="0.85"/>
<circle cx="115.73" cy="1000.51" r="1.75" fill="#c9a6de" fill-opacity="0.85"/>
<circle cx="108.6" cy="996.72" r="1.75" fill="#c9a6de" fill-opacity="0.85"/>
<circle cx="108.73" cy="994.23" r="1.75" fill="#c9a6de" fill-opacity="0.85"/>
<circle cx="131.21" cy="999.58" r="1.75" fill="#c9a6de" fill-opacity="0.85"/>
<circle cx="118.28" cy="998.24" r="1.75" fill="#c9a6de" fill-opacity="0.85"/>
<line x1="156.8" y1="904.5" x2="156.8" y2="920" stroke="#111" stroke-width="1.2"/>
<line x1="153.6" y1="904.5" x2="160" y2="904.5" stroke="#111" stroke-width="1.2"/>
<line x1="156.8" y1="957.5" x2="156.8" y2="966" stroke="#111" stroke-width="1.2"/>
<line x1="153.6" y1="957.5" x2="160" y2="957.5" stroke="#111" stroke-width="1.2"/>
<line x1="118.6" y1="982.4" x2="118.6" y2="986" stroke="#111" stroke-width="1.2"/>
<line x1="115.4" y1="982.4" x2="121.8" y2="982.4" stroke="#111" stroke-width="1.2"/>
<line x1="80.2" y1="994" x2="80.2" y2="1000" stroke="#111" stroke-width="1.2"/>
<line x1="77" y1="994" x2="83.4" y2="994" stroke="#111" stroke-width="1.2"/>
<polyline points="80.2,1000 118.6,986.3 156.8,920.3" fill="none" stroke="#111" stroke-width="1.2"/>
<polyline points="80.2,1000.6 118.6,992.4 156.8,966.4" fill="none" stroke="#111" stroke-width="1.2"/>
<path d="M83.9 1000.6 L82.82 1003.22 L80.2 1004.3 L77.58 1003.22 L76.5 1000.6 L77.58 997.98 L80.2 996.9 L82.82 997.98 Z" fill="#a77ccb" stroke="#111" stroke-width="1.1"/>
<path d="M83.9 1000 L82.82 1002.62 L80.2 1003.7 L77.58 1002.62 L76.5 1000 L77.58 997.38 L80.2 996.3 L82.82 997.38 Z" fill="#3ba2a9" stroke="#111" stroke-width="1.1"/>
<path d="M122.3 992.5 L121.22 995.12 L118.6 996.2 L115.98 995.12 L114.9 992.5 L115.98 989.88 L118.6 988.8 L121.22 989.88 Z" fill="#a77ccb" stroke="#111" stroke-width="1.1"/>
<path d="M122.3 986.4 L121.22 989.02 L118.6 990.1 L115.98 989.02 L114.9 986.4 L115.98 983.78 L118.6 982.7 L121.22 983.78 Z" fill="#3ba2a9" stroke="#111" stroke-width="1.1"/>
<path d="M160.5 966.4 L159.42 969.02 L156.8 970.1 L154.18 969.02 L153.1 966.4 L154.18 963.78 L156.8 962.7 L159.42 963.78 Z" fill="#a77ccb" stroke="#111" stroke-width="1.1"/>
<path d="M160.5 920.3 L159.42 922.92 L156.8 924 L154.18 922.92 L153.1 920.3 L154.18 917.68 L156.8 916.6 L159.42 917.68 Z" fill="#3ba2a9" stroke="#111" stroke-width="1.1"/>
<line x1="61" y1="890.4" x2="61" y2="1006.15" stroke="#111" stroke-width="1.3"/>
<line x1="57" y1="907.1" x2="61" y2="907.1" stroke="#111" stroke-width="1.3"/>
<text transform="translate(53 910.2) scale(1.16 1)" font-size="9" text-anchor="end" fill="#222" stroke="#222" stroke-width="0.14">0.03</text>
<line x1="57" y1="939.9" x2="61" y2="939.9" stroke="#111" stroke-width="1.3"/>
<text transform="translate(53 943) scale(1.16 1)" font-size="9" text-anchor="end" fill="#222" stroke="#222" stroke-width="0.14">0.02</text>
<line x1="57" y1="972.7" x2="61" y2="972.7" stroke="#111" stroke-width="1.3"/>
<text transform="translate(53 975.8) scale(1.16 1)" font-size="9" text-anchor="end" fill="#222" stroke="#222" stroke-width="0.14">0.01</text>
<line x1="57" y1="1005.5" x2="61" y2="1005.5" stroke="#111" stroke-width="1.3"/>
<text transform="translate(53 1008.6) scale(1.16 1)" font-size="9" text-anchor="end" fill="#222" stroke="#222" stroke-width="0.14">0.00</text>
<line x1="57" y1="1005.3" x2="176.9" y2="1005.3" stroke="#111" stroke-width="1.3"/>
<line x1="80.2" y1="1005.3" x2="80.2" y2="1010" stroke="#111" stroke-width="1.3"/>
<line x1="118.6" y1="1005.3" x2="118.6" y2="1010" stroke="#111" stroke-width="1.3"/>
<line x1="156.8" y1="1005.3" x2="156.8" y2="1010" stroke="#111" stroke-width="1.3"/>
<text transform="translate(77.9 1019.3) scale(1.02 1)" font-size="9.6" text-anchor="middle" fill="#222" stroke="#222" stroke-width="0.14">&lt;14</text>
<text transform="translate(118.7 1019.3) scale(1.02 1)" font-size="9.6" text-anchor="middle" fill="#222" stroke="#222" stroke-width="0.14">14-18</text>
<text transform="translate(156.9 1019.3) scale(1.02 1)" font-size="9.6" text-anchor="middle" fill="#222" stroke="#222" stroke-width="0.14">24-28</text>
<text x="171.3" y="1019.3" font-size="9.6" fill="#222" stroke="#222" stroke-width="0.14" textLength="25.9" lengthAdjust="spacingAndGlyphs">weeks</text>
<text transform="translate(26.5 950) rotate(-90)" font-size="11.8" text-anchor="middle" stroke="#1a1a1a" stroke-width="0.14" textLength="94.6" lengthAdjust="spacingAndGlyphs">Imm. to Mat. ratio</text>
<line x1="167.3" y1="920.9" x2="167.3" y2="965.4" stroke="#111" stroke-width="1.2"/>
<line x1="173.9" y1="934.3" x2="173.9" y2="939.7" stroke="#222" stroke-width="0.75"/>
<line x1="176.24" y1="935.65" x2="171.56" y2="938.35" stroke="#222" stroke-width="0.75"/>
<line x1="176.24" y1="938.35" x2="171.56" y2="935.65" stroke="#222" stroke-width="0.75"/>
<line x1="173.9" y1="940.3" x2="173.9" y2="945.7" stroke="#222" stroke-width="0.75"/>
<line x1="176.24" y1="941.65" x2="171.56" y2="944.35" stroke="#222" stroke-width="0.75"/>
<line x1="176.24" y1="944.35" x2="171.56" y2="941.65" stroke="#222" stroke-width="0.75"/>
<line x1="173.9" y1="946.3" x2="173.9" y2="951.7" stroke="#222" stroke-width="0.75"/>
<line x1="176.24" y1="947.65" x2="171.56" y2="950.35" stroke="#222" stroke-width="0.75"/>
<line x1="176.24" y1="950.35" x2="171.56" y2="947.65" stroke="#222" stroke-width="0.75"/>
<line x1="188.5" y1="932.7" x2="200.8" y2="932.7" stroke="#111" stroke-width="1.2"/>
<path d="M198.3 932.7 L197.22 935.32 L194.6 936.4 L191.98 935.32 L190.9 932.7 L191.98 930.08 L194.6 929 L197.22 930.08 Z" fill="#3ba2a9" stroke="#111" stroke-width="1.1"/>
<line x1="188.5" y1="947" x2="200.8" y2="947" stroke="#111" stroke-width="1.2"/>
<path d="M198.3 947 L197.22 949.62 L194.6 950.7 L191.98 949.62 L190.9 947 L191.98 944.38 L194.6 943.3 L197.22 944.38 Z" fill="#a77ccb" stroke="#111" stroke-width="1.1"/>
<text x="205.5" y="936.2" font-size="11.2" stroke="#1a1a1a" stroke-width="0.14">HP</text>
<text x="205.5" y="950.9" font-size="11.2" stroke="#1a1a1a" stroke-width="0.14">GDM</text>
<text transform="translate(263.6 632.5) scale(1.15 1)" font-size="13.8" font-weight="bold" fill="#000">I</text>
<line x1="312" y1="677.4" x2="443.5" y2="692.8" stroke="#111" stroke-width="1.5"/>
<circle cx="304.8" cy="669.7" r="2.45" fill="#d2d2d2" stroke="#333" stroke-width="0.7"/>
<circle cx="307.4" cy="667.2" r="2.45" fill="#d2d2d2" stroke="#333" stroke-width="0.7"/>
<circle cx="310.1" cy="664.4" r="2.45" fill="#d2d2d2" stroke="#333" stroke-width="0.7"/>
<circle cx="305.3" cy="680.7" r="2.45" fill="#d2d2d2" stroke="#333" stroke-width="0.7"/>
<circle cx="309.2" cy="677.5" r="2.45" fill="#d2d2d2" stroke="#333" stroke-width="0.7"/>
<circle cx="312.7" cy="677.5" r="2.45" fill="#d2d2d2" stroke="#333" stroke-width="0.7"/>
<circle cx="314.8" cy="688.1" r="2.45" fill="#d2d2d2" stroke="#333" stroke-width="0.7"/>
<circle cx="320.1" cy="674.9" r="2.45" fill="#d2d2d2" stroke="#333" stroke-width="0.7"/>
<circle cx="320.1" cy="680.7" r="2.45" fill="#d2d2d2" stroke="#333" stroke-width="0.7"/>
<circle cx="324.1" cy="677.5" r="2.45" fill="#d2d2d2" stroke="#333" stroke-width="0.7"/>
<circle cx="324.1" cy="680.7" r="2.45" fill="#d2d2d2" stroke="#333" stroke-width="0.7"/>
<circle cx="329" cy="674.9" r="2.45" fill="#d2d2d2" stroke="#333" stroke-width="0.7"/>
<circle cx="330.7" cy="682.8" r="2.45" fill="#d2d2d2" stroke="#333" stroke-width="0.7"/>
<circle cx="333.7" cy="688.1" r="2.45" fill="#d2d2d2" stroke="#333" stroke-width="0.7"/>
<circle cx="326.4" cy="693.5" r="2.45" fill="#d2d2d2" stroke="#333" stroke-width="0.7"/>
<circle cx="346.3" cy="669.9" r="2.45" fill="#d2d2d2" stroke="#333" stroke-width="0.7"/>
<circle cx="349" cy="696" r="2.45" fill="#d2d2d2" stroke="#333" stroke-width="0.7"/>
<circle cx="351.8" cy="680.6" r="2.45" fill="#d2d2d2" stroke="#333" stroke-width="0.7"/>
<circle cx="354.3" cy="675.2" r="2.45" fill="#d2d2d2" stroke="#333" stroke-width="0.7"/>
<circle cx="355.2" cy="667.2" r="2.45" fill="#d2d2d2" stroke="#333" stroke-width="0.7"/>
<circle cx="358.7" cy="690.8" r="2.45" fill="#d2d2d2" stroke="#333" stroke-width="0.7"/>
<circle cx="360" cy="698.6" r="2.45" fill="#d2d2d2" stroke="#333" stroke-width="0.7"/>
<circle cx="363.2" cy="696" r="2.45" fill="#d2d2d2" stroke="#333" stroke-width="0.7"/>
<circle cx="368" cy="677.6" r="2.45" fill="#d2d2d2" stroke="#333" stroke-width="0.7"/>
<circle cx="376.5" cy="698.5" r="2.45" fill="#d2d2d2" stroke="#333" stroke-width="0.7"/>
<circle cx="397.4" cy="691" r="2.45" fill="#d2d2d2" stroke="#333" stroke-width="0.7"/>
<circle cx="433.4" cy="685.6" r="2.45" fill="#d2d2d2" stroke="#333" stroke-width="0.7"/>
<circle cx="443.5" cy="685.6" r="2.45" fill="#d2d2d2" stroke="#333" stroke-width="0.7"/>
<line x1="301.3" y1="643" x2="301.3" y2="749.05" stroke="#111" stroke-width="1.3"/>
<line x1="297.1" y1="643.4" x2="301.3" y2="643.4" stroke="#111" stroke-width="1.3"/>
<text transform="translate(295.3 646.6) scale(1 1)" font-size="9" text-anchor="end" fill="#222" stroke="#222" stroke-width="0.14">6</text>
<line x1="297.1" y1="669.7" x2="301.3" y2="669.7" stroke="#111" stroke-width="1.3"/>
<text transform="translate(295.3 672.9) scale(1 1)" font-size="9" text-anchor="end" fill="#222" stroke="#222" stroke-width="0.14">5</text>
<line x1="297.1" y1="695.9" x2="301.3" y2="695.9" stroke="#111" stroke-width="1.3"/>
<text transform="translate(295.3 699.1) scale(1 1)" font-size="9" text-anchor="end" fill="#222" stroke="#222" stroke-width="0.14">4</text>
<line x1="297.1" y1="721.9" x2="301.3" y2="721.9" stroke="#111" stroke-width="1.3"/>
<text transform="translate(295.3 725.1) scale(1 1)" font-size="9" text-anchor="end" fill="#222" stroke="#222" stroke-width="0.14">3</text>
<line x1="297.1" y1="748.1" x2="301.3" y2="748.1" stroke="#111" stroke-width="1.3"/>
<text transform="translate(295.3 751.3) scale(1 1)" font-size="9" text-anchor="end" fill="#222" stroke="#222" stroke-width="0.14">2</text>
<line x1="297.1" y1="748.4" x2="459" y2="748.4" stroke="#111" stroke-width="1.3"/>
<line x1="301.3" y1="748.4" x2="301.3" y2="752.7" stroke="#111" stroke-width="1.3"/>
<text transform="translate(308.1 761.7) scale(1 1)" font-size="9" text-anchor="middle" fill="#333" stroke="#333" stroke-width="0.14">0.00</text>
<line x1="346" y1="748.4" x2="346" y2="752.7" stroke="#111" stroke-width="1.3"/>
<text transform="translate(343.9 761.7) scale(1 1)" font-size="9" text-anchor="middle" fill="#333" stroke="#333" stroke-width="0.14">0.02</text>
<line x1="390.7" y1="748.4" x2="390.7" y2="752.7" stroke="#111" stroke-width="1.3"/>
<text transform="translate(390 761.7) scale(1 1)" font-size="9" text-anchor="middle" fill="#333" stroke="#333" stroke-width="0.14">0.04</text>
<line x1="435.3" y1="748.4" x2="435.3" y2="752.7" stroke="#111" stroke-width="1.3"/>
<text transform="translate(435 761.7) scale(1 1)" font-size="9" text-anchor="middle" fill="#333" stroke="#333" stroke-width="0.14">0.06</text>
<text x="372.7" y="774.3" font-size="11.6" text-anchor="middle" stroke="#1a1a1a" stroke-width="0.14">Ratio</text>
<text x="359.8" y="638.2" font-size="11.5" stroke="#1a1a1a" stroke-width="0.14" textLength="25.6" lengthAdjust="spacingAndGlyphs">FPG</text>
<text transform="translate(447 651.6) scale(1.09 1)" font-size="9.6" text-anchor="end" fill="#222" stroke="#222" stroke-width="0.14">r = -0.42</text>
<text transform="translate(443.7 665.3) scale(1.09 1)" font-size="9.6" text-anchor="end" fill="#222" stroke="#222" stroke-width="0.14"><tspan font-style="italic">P</tspan> &lt; 0.05</text>
<text transform="translate(285.8 691.2) rotate(-90)" font-size="11.8" text-anchor="middle" stroke="#1a1a1a" stroke-width="0.14" textLength="40.4" lengthAdjust="spacingAndGlyphs">mmol/L</text>
<text transform="translate(466.1 631.6) scale(1.15 1)" font-size="13.8" font-weight="bold" fill="#000">J</text>
<line x1="505" y1="680.2" x2="643.8" y2="706.1" stroke="#111" stroke-width="1.5"/>
<circle cx="513.4" cy="657" r="2.45" fill="#9c9c9c" stroke="#2a2a2a" stroke-width="0.7"/>
<circle cx="505.2" cy="675.4" r="2.45" fill="#9c9c9c" stroke="#2a2a2a" stroke-width="0.7"/>
<circle cx="509.9" cy="673.7" r="2.45" fill="#9c9c9c" stroke="#2a2a2a" stroke-width="0.7"/>
<circle cx="508.7" cy="677.2" r="2.45" fill="#9c9c9c" stroke="#2a2a2a" stroke-width="0.7"/>
<circle cx="505.2" cy="684.7" r="2.45" fill="#9c9c9c" stroke="#2a2a2a" stroke-width="0.7"/>
<circle cx="510.5" cy="681.2" r="2.45" fill="#9c9c9c" stroke="#2a2a2a" stroke-width="0.7"/>
<circle cx="520.4" cy="673.7" r="2.45" fill="#9c9c9c" stroke="#2a2a2a" stroke-width="0.7"/>
<circle cx="524.8" cy="674.6" r="2.45" fill="#9c9c9c" stroke="#2a2a2a" stroke-width="0.7"/>
<circle cx="524.5" cy="678.1" r="2.45" fill="#9c9c9c" stroke="#2a2a2a" stroke-width="0.7"/>
<circle cx="531" cy="681.6" r="2.45" fill="#9c9c9c" stroke="#2a2a2a" stroke-width="0.7"/>
<circle cx="534.1" cy="687.4" r="2.45" fill="#9c9c9c" stroke="#2a2a2a" stroke-width="0.7"/>
<circle cx="520.4" cy="692.1" r="2.45" fill="#9c9c9c" stroke="#2a2a2a" stroke-width="0.7"/>
<circle cx="515.2" cy="696.5" r="2.45" fill="#9c9c9c" stroke="#2a2a2a" stroke-width="0.7"/>
<circle cx="526.9" cy="691.6" r="2.45" fill="#9c9c9c" stroke="#2a2a2a" stroke-width="0.7"/>
<circle cx="529.7" cy="709.1" r="2.45" fill="#9c9c9c" stroke="#2a2a2a" stroke-width="0.7"/>
<circle cx="552.5" cy="675.4" r="2.45" fill="#9c9c9c" stroke="#2a2a2a" stroke-width="0.7"/>
<circle cx="559.3" cy="675.4" r="2.45" fill="#9c9c9c" stroke="#2a2a2a" stroke-width="0.7"/>
<circle cx="576.6" cy="672.4" r="2.45" fill="#9c9c9c" stroke="#2a2a2a" stroke-width="0.7"/>
<circle cx="549.7" cy="690" r="2.45" fill="#9c9c9c" stroke="#2a2a2a" stroke-width="0.7"/>
<circle cx="555.1" cy="689.5" r="2.45" fill="#9c9c9c" stroke="#2a2a2a" stroke-width="0.7"/>
<circle cx="546.7" cy="695.1" r="2.45" fill="#9c9c9c" stroke="#2a2a2a" stroke-width="0.7"/>
<circle cx="555.8" cy="697.7" r="2.45" fill="#9c9c9c" stroke="#2a2a2a" stroke-width="0.7"/>
<circle cx="560.7" cy="702.7" r="2.45" fill="#9c9c9c" stroke="#2a2a2a" stroke-width="0.7"/>
<circle cx="567.9" cy="699.9" r="2.45" fill="#9c9c9c" stroke="#2a2a2a" stroke-width="0.7"/>
<circle cx="563.2" cy="717.3" r="2.45" fill="#9c9c9c" stroke="#2a2a2a" stroke-width="0.7"/>
<circle cx="598.3" cy="701.9" r="2.45" fill="#9c9c9c" stroke="#2a2a2a" stroke-width="0.7"/>
<circle cx="633.8" cy="709.9" r="2.45" fill="#9c9c9c" stroke="#2a2a2a" stroke-width="0.7"/>
<circle cx="643.8" cy="692.8" r="2.45" fill="#9c9c9c" stroke="#2a2a2a" stroke-width="0.7"/>
<line x1="502" y1="642.7" x2="502" y2="748.75" stroke="#111" stroke-width="1.3"/>
<line x1="497.8" y1="643" x2="502" y2="643" stroke="#111" stroke-width="1.3"/>
<text transform="translate(496 646.2) scale(1 1)" font-size="9" text-anchor="end" fill="#222" stroke="#222" stroke-width="0.14">15</text>
<line x1="497.8" y1="678" x2="502" y2="678" stroke="#111" stroke-width="1.3"/>
<text transform="translate(496 681.2) scale(1 1)" font-size="9" text-anchor="end" fill="#222" stroke="#222" stroke-width="0.14">10</text>
<line x1="497.8" y1="713.1" x2="502" y2="713.1" stroke="#111" stroke-width="1.3"/>
<text transform="translate(496 716.3) scale(1 1)" font-size="9" text-anchor="end" fill="#222" stroke="#222" stroke-width="0.14">5</text>
<line x1="497.8" y1="748.1" x2="502" y2="748.1" stroke="#111" stroke-width="1.3"/>
<text transform="translate(496 751.3) scale(1 1)" font-size="9" text-anchor="end" fill="#222" stroke="#222" stroke-width="0.14">0</text>
<line x1="497.8" y1="748.1" x2="659.4" y2="748.1" stroke="#111" stroke-width="1.3"/>
<line x1="502" y1="748.1" x2="502" y2="752.4" stroke="#111" stroke-width="1.3"/>
<text transform="translate(509.1 761.6) scale(1 1)" font-size="9" text-anchor="middle" fill="#333" stroke="#333" stroke-width="0.14">0.00</text>
<line x1="546.7" y1="748.1" x2="546.7" y2="752.4" stroke="#111" stroke-width="1.3"/>
<text transform="translate(544.9 761.6) scale(1 1)" font-size="9" text-anchor="middle" fill="#333" stroke="#333" stroke-width="0.14">0.02</text>
<line x1="591.4" y1="748.1" x2="591.4" y2="752.4" stroke="#111" stroke-width="1.3"/>
<text transform="translate(591.4 761.6) scale(1 1)" font-size="9" text-anchor="middle" fill="#333" stroke="#333" stroke-width="0.14">0.04</text>
<line x1="636.2" y1="748.1" x2="636.2" y2="752.4" stroke="#111" stroke-width="1.3"/>
<text transform="translate(636.4 761.6) scale(1 1)" font-size="9" text-anchor="middle" fill="#333" stroke="#333" stroke-width="0.14">0.06</text>
<text x="571.4" y="773.3" font-size="11.6" text-anchor="middle" stroke="#1a1a1a" stroke-width="0.14">Ratio</text>
<text x="556.6" y="639.7" font-size="11.5" stroke="#1a1a1a" stroke-width="0.14" textLength="44.5" lengthAdjust="spacingAndGlyphs">OGTT<tspan font-size="7.2" dy="3.8">1h</tspan></text>
<text transform="translate(667.3 651) scale(1.09 1)" font-size="9.6" text-anchor="end" fill="#222" stroke="#222" stroke-width="0.14">r = -0.49</text>
<text transform="translate(663 664.7) scale(1.09 1)" font-size="9.6" text-anchor="end" fill="#222" stroke="#222" stroke-width="0.14"><tspan font-style="italic">P</tspan> &lt; 0.01</text>
<text transform="translate(482.9 691) rotate(-90)" font-size="11.8" text-anchor="middle" stroke="#1a1a1a" stroke-width="0.14" textLength="40" lengthAdjust="spacingAndGlyphs">mmol/L</text>
<text transform="translate(263.1 799) scale(1.15 1)" font-size="13.8" font-weight="bold" fill="#000">K</text>
<line x1="305.3" y1="857.4" x2="443.5" y2="865.7" stroke="#111" stroke-width="1.5"/>
<circle cx="304.8" cy="849" r="2.45" fill="#5c5c5c" stroke="#1a1a1a" stroke-width="0.7"/>
<circle cx="308.3" cy="849.5" r="2.45" fill="#5c5c5c" stroke="#1a1a1a" stroke-width="0.7"/>
<circle cx="310.1" cy="856" r="2.45" fill="#5c5c5c" stroke="#1a1a1a" stroke-width="0.7"/>
<circle cx="312.7" cy="832.7" r="2.45" fill="#5c5c5c" stroke="#1a1a1a" stroke-width="0.7"/>
<circle cx="323.7" cy="832" r="2.45" fill="#5c5c5c" stroke="#1a1a1a" stroke-width="0.7"/>
<circle cx="320.2" cy="853" r="2.45" fill="#5c5c5c" stroke="#1a1a1a" stroke-width="0.7"/>
<circle cx="330.7" cy="856" r="2.45" fill="#5c5c5c" stroke="#1a1a1a" stroke-width="0.7"/>
<circle cx="333.7" cy="851" r="2.45" fill="#5c5c5c" stroke="#1a1a1a" stroke-width="0.7"/>
<circle cx="326.7" cy="862.4" r="2.45" fill="#5c5c5c" stroke="#1a1a1a" stroke-width="0.7"/>
<circle cx="323.7" cy="868.6" r="2.45" fill="#5c5c5c" stroke="#1a1a1a" stroke-width="0.7"/>
<circle cx="320.1" cy="874" r="2.45" fill="#5c5c5c" stroke="#1a1a1a" stroke-width="0.7"/>
<circle cx="314.5" cy="872.6" r="2.45" fill="#5c5c5c" stroke="#1a1a1a" stroke-width="0.7"/>
<circle cx="309.6" cy="865.6" r="2.45" fill="#5c5c5c" stroke="#1a1a1a" stroke-width="0.7"/>
<circle cx="305.3" cy="870" r="2.45" fill="#5c5c5c" stroke="#1a1a1a" stroke-width="0.7"/>
<circle cx="329" cy="885.2" r="2.45" fill="#5c5c5c" stroke="#1a1a1a" stroke-width="0.7"/>
<circle cx="346.1" cy="864.3" r="2.45" fill="#5c5c5c" stroke="#1a1a1a" stroke-width="0.7"/>
<circle cx="349" cy="862.8" r="2.45" fill="#5c5c5c" stroke="#1a1a1a" stroke-width="0.7"/>
<circle cx="352.2" cy="846.1" r="2.45" fill="#5c5c5c" stroke="#1a1a1a" stroke-width="0.7"/>
<circle cx="354.7" cy="861.9" r="2.45" fill="#5c5c5c" stroke="#1a1a1a" stroke-width="0.7"/>
<circle cx="358.8" cy="842" r="2.45" fill="#5c5c5c" stroke="#1a1a1a" stroke-width="0.7"/>
<circle cx="359.8" cy="864.7" r="2.45" fill="#5c5c5c" stroke="#1a1a1a" stroke-width="0.7"/>
<circle cx="376.5" cy="836.8" r="2.45" fill="#5c5c5c" stroke="#1a1a1a" stroke-width="0.7"/>
<circle cx="368" cy="874.6" r="2.45" fill="#5c5c5c" stroke="#1a1a1a" stroke-width="0.7"/>
<circle cx="362.8" cy="879.5" r="2.45" fill="#5c5c5c" stroke="#1a1a1a" stroke-width="0.7"/>
<circle cx="397.8" cy="869.1" r="2.45" fill="#5c5c5c" stroke="#1a1a1a" stroke-width="0.7"/>
<circle cx="433.4" cy="868.5" r="2.45" fill="#5c5c5c" stroke="#1a1a1a" stroke-width="0.7"/>
<circle cx="443.5" cy="864.7" r="2.45" fill="#5c5c5c" stroke="#1a1a1a" stroke-width="0.7"/>
<circle cx="331" cy="856.2" r="2.45" fill="#5c5c5c" stroke="#1a1a1a" stroke-width="0.7"/>
<line x1="301.3" y1="807.8" x2="301.3" y2="913.85" stroke="#111" stroke-width="1.3"/>
<line x1="297.1" y1="808.3" x2="301.3" y2="808.3" stroke="#111" stroke-width="1.3"/>
<text transform="translate(295.3 811.5) scale(1 1)" font-size="9" text-anchor="end" fill="#222" stroke="#222" stroke-width="0.14">15</text>
<line x1="297.1" y1="843.3" x2="301.3" y2="843.3" stroke="#111" stroke-width="1.3"/>
<text transform="translate(295.3 846.5) scale(1 1)" font-size="9" text-anchor="end" fill="#222" stroke="#222" stroke-width="0.14">10</text>
<line x1="297.1" y1="878.2" x2="301.3" y2="878.2" stroke="#111" stroke-width="1.3"/>
<text transform="translate(295.3 881.4) scale(1 1)" font-size="9" text-anchor="end" fill="#222" stroke="#222" stroke-width="0.14">5</text>
<line x1="297.1" y1="913.2" x2="301.3" y2="913.2" stroke="#111" stroke-width="1.3"/>
<text transform="translate(295.3 916.4) scale(1 1)" font-size="9" text-anchor="end" fill="#222" stroke="#222" stroke-width="0.14">0</text>
<line x1="297.1" y1="913.2" x2="459" y2="913.2" stroke="#111" stroke-width="1.3"/>
<line x1="301.3" y1="913.2" x2="301.3" y2="917.5" stroke="#111" stroke-width="1.3"/>
<text transform="translate(308.4 926.4) scale(1 1)" font-size="9" text-anchor="middle" fill="#333" stroke="#333" stroke-width="0.14">0.00</text>
<line x1="346" y1="913.2" x2="346" y2="917.5" stroke="#111" stroke-width="1.3"/>
<text transform="translate(344.3 926.4) scale(1 1)" font-size="9" text-anchor="middle" fill="#333" stroke="#333" stroke-width="0.14">0.02</text>
<line x1="390.7" y1="913.2" x2="390.7" y2="917.5" stroke="#111" stroke-width="1.3"/>
<text transform="translate(390 926.4) scale(1 1)" font-size="9" text-anchor="middle" fill="#333" stroke="#333" stroke-width="0.14">0.04</text>
<line x1="435.3" y1="913.2" x2="435.3" y2="917.5" stroke="#111" stroke-width="1.3"/>
<text transform="translate(435 926.4) scale(1 1)" font-size="9" text-anchor="middle" fill="#333" stroke="#333" stroke-width="0.14">0.06</text>
<text x="375" y="938.6" font-size="11.6" text-anchor="middle" stroke="#1a1a1a" stroke-width="0.14">Ratio</text>
<text x="358.1" y="804.9" font-size="11.5" stroke="#1a1a1a" stroke-width="0.14" textLength="44.5" lengthAdjust="spacingAndGlyphs">OGTT<tspan font-size="7.2" dy="3.8">2h</tspan></text>
<text transform="translate(454 815.9) scale(1.09 1)" font-size="9.6" text-anchor="end" fill="#222" stroke="#222" stroke-width="0.14">r = -0.17</text>
<text transform="translate(450.2 829.6) scale(1.09 1)" font-size="9.6" text-anchor="end" fill="#222" stroke="#222" stroke-width="0.14"><tspan font-style="italic">P</tspan> = 0.38</text>
<text transform="translate(282.6 852) rotate(-90)" font-size="11.8" text-anchor="middle" stroke="#1a1a1a" stroke-width="0.14" textLength="39.4" lengthAdjust="spacingAndGlyphs">mmol/L</text>
<text transform="translate(464.3 800.8) scale(1.15 1)" font-size="13.8" font-weight="bold" fill="#000">L</text>
<line x1="507" y1="860.9" x2="637" y2="890.3" stroke="#111" stroke-width="1.5"/>
<path d="M510.4 834.3 L514 827.7 L517.6 834.3 Z" fill="#ea5f9e"/>
<path d="M507.8 850.6 L511.4 844 L515 850.6 Z" fill="#ea5f9e"/>
<path d="M514.8 848.3 L518.4 841.7 L522 848.3 Z" fill="#ea5f9e"/>
<path d="M525 858.5 L528.6 851.9 L532.2 858.5 Z" fill="#ea5f9e"/>
<path d="M529.9 863.6 L533.5 857 L537.1 863.6 Z" fill="#ea5f9e"/>
<path d="M543.7 871.5 L547.3 864.9 L550.9 871.5 Z" fill="#ea5f9e"/>
<path d="M503.4 882.2 L507 875.6 L510.6 882.2 Z" fill="#ea5f9e"/>
<path d="M504.4 881.4 L508 874.8 L511.6 881.4 Z" fill="#ea5f9e"/>
<path d="M517.4 886.9 L521 880.3 L524.6 886.9 Z" fill="#ea5f9e"/>
<path d="M537.2 886.9 L540.8 880.3 L544.4 886.9 Z" fill="#ea5f9e"/>
<path d="M533.7 896.5 L537.3 889.9 L540.9 896.5 Z" fill="#ea5f9e"/>
<path d="M565.6 894.2 L569.2 887.6 L572.8 894.2 Z" fill="#ea5f9e"/>
<path d="M569.4 877.5 L573 870.9 L576.6 877.5 Z" fill="#ea5f9e"/>
<path d="M573.8 859.6 L577.4 853 L581 859.6 Z" fill="#ea5f9e"/>
<path d="M572.8 863.8 L576.4 857.2 L580 863.8 Z" fill="#ea5f9e"/>
<path d="M591.3 872.4 L594.9 865.8 L598.5 872.4 Z" fill="#ea5f9e"/>
<path d="M578.9 886.2 L582.5 879.6 L586.1 886.2 Z" fill="#ea5f9e"/>
<path d="M633.4 894.6 L637 888 L640.6 894.6 Z" fill="#ea5f9e"/>
<path d="M603.6 904.1 L607.2 897.5 L610.8 904.1 Z" fill="#ea5f9e"/>
<line x1="502" y1="808.3" x2="502" y2="914.75" stroke="#111" stroke-width="1.3"/>
<line x1="497.8" y1="809" x2="502" y2="809" stroke="#111" stroke-width="1.3"/>
<text transform="translate(496 812.2) scale(1 1)" font-size="9" text-anchor="end" fill="#222" stroke="#222" stroke-width="0.14">4</text>
<line x1="497.8" y1="835.3" x2="502" y2="835.3" stroke="#111" stroke-width="1.3"/>
<text transform="translate(496 838.5) scale(1 1)" font-size="9" text-anchor="end" fill="#222" stroke="#222" stroke-width="0.14">3</text>
<line x1="497.8" y1="861.6" x2="502" y2="861.6" stroke="#111" stroke-width="1.3"/>
<text transform="translate(496 864.8) scale(1 1)" font-size="9" text-anchor="end" fill="#222" stroke="#222" stroke-width="0.14">2</text>
<line x1="497.8" y1="887.8" x2="502" y2="887.8" stroke="#111" stroke-width="1.3"/>
<text transform="translate(496 891) scale(1 1)" font-size="9" text-anchor="end" fill="#222" stroke="#222" stroke-width="0.14">1</text>
<line x1="497.8" y1="914.1" x2="502" y2="914.1" stroke="#111" stroke-width="1.3"/>
<text transform="translate(496 917.3) scale(1 1)" font-size="9" text-anchor="end" fill="#222" stroke="#222" stroke-width="0.14">0</text>
<line x1="497.8" y1="914.1" x2="659.4" y2="914.1" stroke="#111" stroke-width="1.3"/>
<line x1="502" y1="914.1" x2="502" y2="918.4" stroke="#111" stroke-width="1.3"/>
<text transform="translate(509 926.4) scale(1 1)" font-size="9" text-anchor="middle" fill="#333" stroke="#333" stroke-width="0.14">0.00</text>
<line x1="533.5" y1="914.1" x2="533.5" y2="918.4" stroke="#111" stroke-width="1.3"/>
<text transform="translate(536.9 926.4) scale(1 1)" font-size="9" text-anchor="middle" fill="#333" stroke="#333" stroke-width="0.14">0.01</text>
<line x1="565" y1="914.1" x2="565" y2="918.4" stroke="#111" stroke-width="1.3"/>
<text transform="translate(567.5 926.4) scale(1 1)" font-size="9" text-anchor="middle" fill="#333" stroke="#333" stroke-width="0.14">0.02</text>
<line x1="596.2" y1="914.1" x2="596.2" y2="918.4" stroke="#111" stroke-width="1.3"/>
<text transform="translate(599.3 926.4) scale(1 1)" font-size="9" text-anchor="middle" fill="#333" stroke="#333" stroke-width="0.14">0.03</text>
<line x1="627.7" y1="914.1" x2="627.7" y2="918.4" stroke="#111" stroke-width="1.3"/>
<text transform="translate(630.6 926.4) scale(1 1)" font-size="9" text-anchor="middle" fill="#333" stroke="#333" stroke-width="0.14">0.04</text>
<line x1="659.4" y1="914.1" x2="659.4" y2="918.4" stroke="#111" stroke-width="1.3"/>
<text transform="translate(661.7 926.4) scale(1 1)" font-size="9" text-anchor="middle" fill="#333" stroke="#333" stroke-width="0.14">0.05</text>
<text x="582.5" y="938.7" font-size="11.6" text-anchor="middle" stroke="#1a1a1a" stroke-width="0.14">Ratio</text>
<text x="554.3" y="804" font-size="11.5" stroke="#1a1a1a" stroke-width="0.14" textLength="52.6" lengthAdjust="spacingAndGlyphs">HOMA-IR</text>
<text transform="translate(657.4 816.3) scale(1.09 1)" font-size="9.6" text-anchor="end" fill="#222" stroke="#222" stroke-width="0.14">r = -0.46</text>
<text transform="translate(654 830.2) scale(1.09 1)" font-size="9.6" text-anchor="end" fill="#222" stroke="#222" stroke-width="0.14"><tspan font-style="italic">P</tspan> &lt; 0.05</text>
<text transform="translate(485 863.5) rotate(-90)" font-size="11.8" text-anchor="middle" stroke="#1a1a1a" stroke-width="0.14" textLength="28.9" lengthAdjust="spacingAndGlyphs">Index</text>
</svg></body></html>
